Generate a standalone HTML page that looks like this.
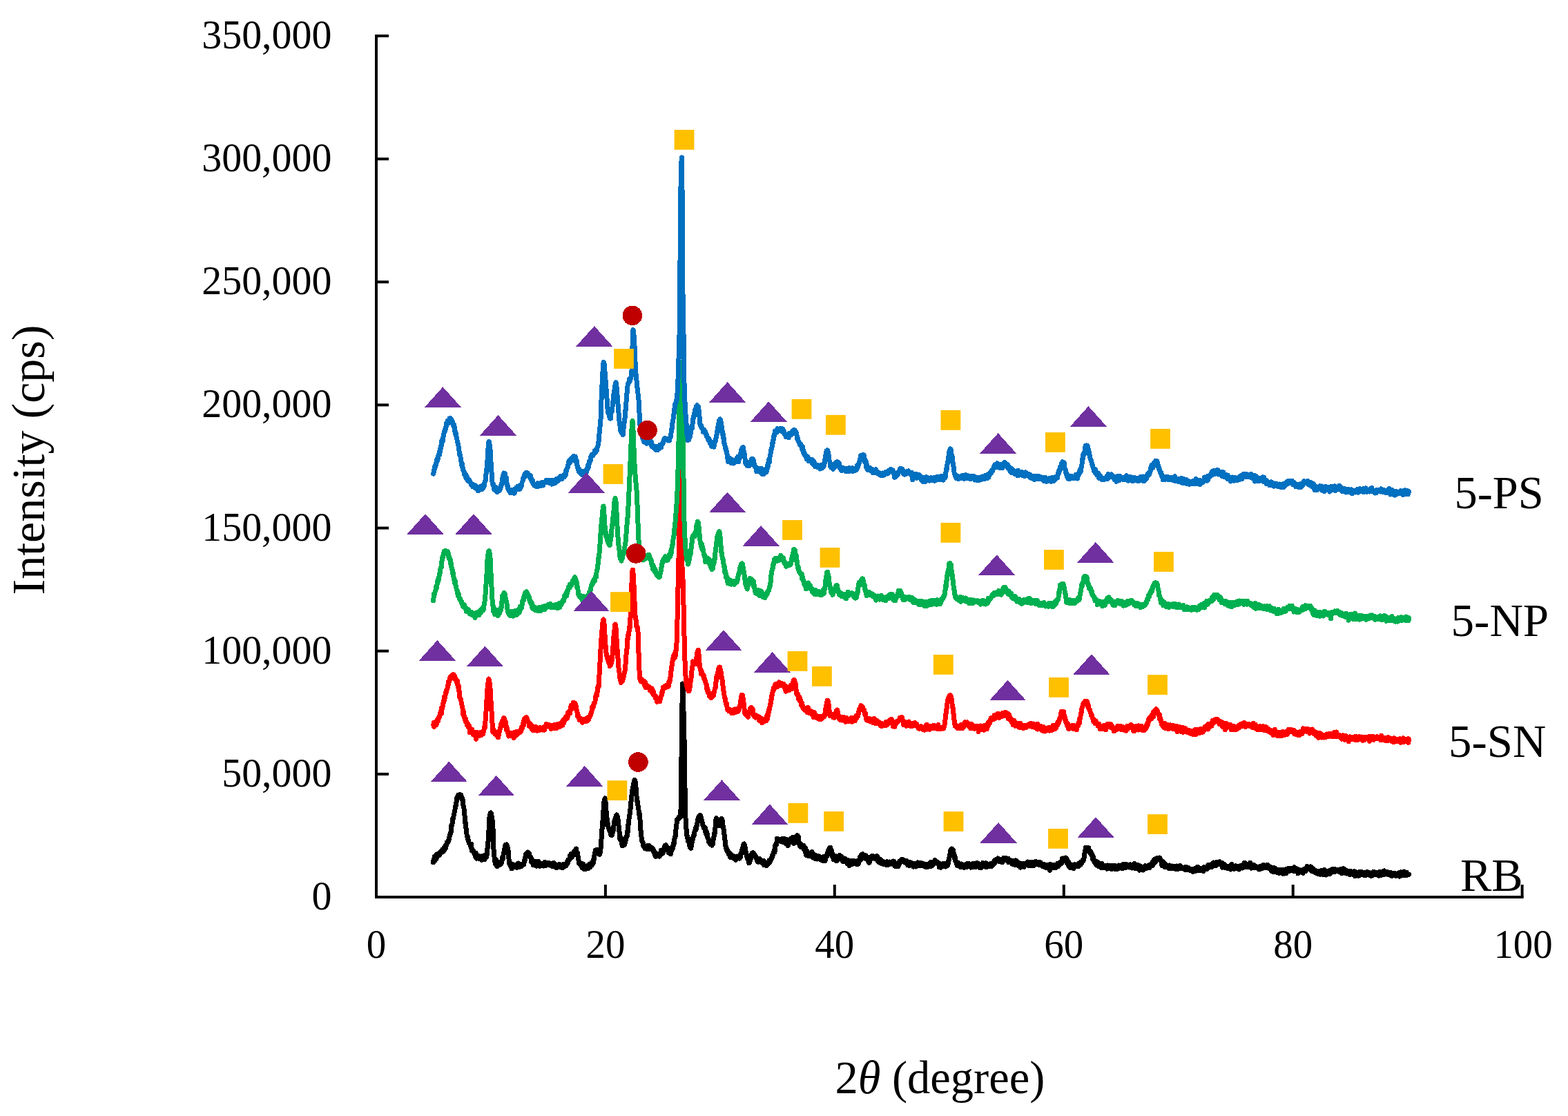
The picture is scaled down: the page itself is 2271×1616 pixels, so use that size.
<!DOCTYPE html>
<html><head><meta charset="utf-8"><title>XRD patterns</title>
<style>html,body{margin:0;padding:0;background:#fff;overflow:hidden}svg{display:block}</style>
</head><body>
<svg width="2271" height="1616" viewBox="0 0 2271 1616" font-family="Liberation Serif, Times New Roman, serif">
<rect width="2271" height="1616" fill="#fff"/>
<path d="M627.6 1248.9 628.0 1244.8 628.4 1244.5 628.8 1243.1 629.2 1245.8 629.6 1240.2 630.0 1246.2 630.4 1241.7 630.8 1243.0 631.2 1241.6 631.6 1243.9 632.0 1237.8 632.4 1240.2 632.8 1239.6 633.2 1241.6 633.6 1237.6 634.0 1238.7 634.4 1237.1 634.4 1238.6 634.8 1239.0 635.2 1235.9 635.6 1239.1 636.0 1238.4 636.4 1237.3 636.8 1237.6 637.2 1234.7 637.6 1235.2 638.0 1233.6 638.4 1234.3 638.8 1235.2 639.2 1232.8 639.6 1232.9 640.0 1232.0 640.4 1231.3 640.8 1231.1 641.2 1231.7 641.2 1229.9 641.6 1231.6 642.0 1233.3 642.4 1231.3 642.8 1229.2 643.2 1227.5 643.6 1227.1 644.0 1230.3 644.4 1227.0 644.8 1225.2 645.2 1225.8 645.6 1228.2 646.0 1224.3 646.4 1224.3 646.8 1223.0 647.0 1221.5 647.2 1219.9 647.6 1220.3 648.0 1219.7 648.4 1220.1 648.8 1219.6 649.2 1218.8 649.6 1216.7 650.0 1216.6 650.4 1212.8 650.8 1214.7 650.9 1213.2 651.2 1210.8 651.6 1210.3 652.0 1207.4 652.4 1207.2 652.8 1205.6 653.2 1204.5 653.6 1196.6 653.8 1195.5 654.0 1196.0 654.4 1195.0 654.8 1194.2 655.2 1191.3 655.6 1185.6 656.0 1186.3 656.4 1186.1 656.7 1183.7 656.8 1184.0 657.2 1180.4 657.6 1178.5 658.0 1177.1 658.4 1175.5 658.8 1173.1 659.2 1171.0 659.6 1167.7 659.6 1169.4 660.0 1166.8 660.4 1166.1 660.8 1163.7 661.2 1159.8 661.6 1156.8 662.0 1154.6 662.4 1155.1 662.5 1154.3 662.8 1153.1 663.2 1153.1 663.6 1151.4 664.0 1152.9 664.4 1151.0 664.8 1152.0 665.2 1151.1 665.4 1151.0 665.6 1150.8 666.0 1151.3 666.4 1152.3 666.8 1150.6 667.2 1152.1 667.6 1153.3 668.0 1151.9 668.4 1155.4 668.8 1157.2 669.2 1155.5 669.3 1157.7 669.6 1155.9 670.0 1159.5 670.4 1159.0 670.8 1165.7 671.2 1167.1 671.6 1169.2 672.0 1170.9 672.2 1175.6 672.4 1178.4 672.8 1176.2 673.2 1185.7 673.6 1190.8 674.0 1192.7 674.1 1191.1 674.4 1196.8 674.8 1198.4 675.2 1200.8 675.6 1202.7 676.0 1208.1 676.4 1210.9 676.8 1210.6 677.0 1213.2 677.2 1211.3 677.6 1215.8 678.0 1215.9 678.4 1216.7 678.8 1217.9 679.2 1220.5 679.6 1221.2 680.0 1221.8 680.4 1222.0 680.8 1222.8 681.2 1224.5 681.6 1224.7 681.9 1226.1 682.0 1224.7 682.4 1222.2 682.8 1228.7 683.2 1231.5 683.6 1229.7 684.0 1229.7 684.4 1230.6 684.8 1231.5 685.2 1232.5 685.6 1231.5 686.0 1233.3 686.4 1233.2 686.8 1235.8 687.2 1235.5 687.6 1237.3 687.7 1236.3 688.0 1238.5 688.4 1237.7 688.8 1241.2 689.2 1235.1 689.6 1237.4 690.0 1240.2 690.4 1243.2 690.8 1239.0 691.2 1239.8 691.6 1239.7 692.0 1242.4 692.4 1240.0 692.8 1241.8 693.2 1240.4 693.6 1239.1 694.0 1241.7 694.4 1242.2 694.5 1243.5 694.8 1241.3 695.2 1240.6 695.6 1242.6 696.0 1242.2 696.4 1242.3 696.8 1241.9 697.2 1243.9 697.6 1242.7 698.0 1245.3 698.4 1244.0 698.8 1243.4 699.2 1239.7 699.6 1243.3 700.0 1243.1 700.3 1243.7 700.4 1244.1 700.8 1241.7 701.2 1243.5 701.6 1241.1 702.0 1244.8 702.4 1239.2 702.8 1238.0 703.2 1237.6 703.6 1238.2 704.0 1237.2 704.4 1241.3 704.8 1236.8 705.1 1234.5 705.2 1238.1 705.6 1233.1 706.0 1228.5 706.4 1227.4 706.8 1222.0 707.1 1216.5 707.2 1218.1 707.6 1208.7 708.0 1202.3 708.4 1192.0 708.8 1187.5 709.0 1183.5 709.2 1180.3 709.6 1183.6 710.0 1178.1 710.4 1177.4 710.8 1176.9 710.9 1177.0 711.2 1177.3 711.6 1178.6 712.0 1181.2 712.4 1186.0 712.8 1186.4 713.2 1188.7 713.6 1193.4 713.8 1196.7 714.0 1199.3 714.4 1216.9 714.8 1226.1 714.8 1226.4 715.2 1232.9 715.6 1235.9 716.0 1240.9 716.4 1246.2 716.7 1247.3 716.8 1245.8 717.2 1250.3 717.6 1246.1 718.0 1248.4 718.4 1249.2 718.8 1245.6 719.2 1253.6 719.6 1251.4 720.0 1249.3 720.4 1254.4 720.6 1252.0 720.8 1251.8 721.2 1250.1 721.6 1251.2 722.0 1248.5 722.4 1252.1 722.8 1250.1 723.2 1250.7 723.6 1252.2 724.0 1250.5 724.4 1250.3 724.8 1250.0 725.2 1248.1 725.6 1250.3 726.0 1251.0 726.4 1249.4 726.4 1249.6 726.8 1246.1 727.2 1244.9 727.6 1242.3 728.0 1244.7 728.4 1240.4 728.8 1241.1 729.2 1235.8 729.3 1235.9 729.6 1235.5 730.0 1234.8 730.4 1231.3 730.8 1229.5 731.2 1227.2 731.6 1225.6 732.0 1223.2 732.4 1223.2 732.7 1223.0 732.8 1223.0 733.2 1223.5 733.6 1223.0 734.0 1224.2 734.4 1224.8 734.8 1227.0 735.2 1229.0 735.6 1227.8 736.0 1232.1 736.1 1235.0 736.4 1233.0 736.8 1241.6 737.1 1244.9 737.2 1246.2 737.6 1250.6 738.0 1249.2 738.4 1249.0 738.8 1252.0 739.2 1250.7 739.6 1254.0 740.0 1253.1 740.4 1255.1 740.8 1252.0 741.0 1257.9 741.2 1254.5 741.6 1254.3 742.0 1253.2 742.4 1252.2 742.8 1252.0 743.2 1253.3 743.6 1252.3 744.0 1254.0 744.4 1252.3 744.8 1254.7 745.2 1255.3 745.6 1252.6 746.0 1255.7 746.4 1253.5 746.8 1255.7 747.2 1254.6 747.6 1255.7 748.0 1252.3 748.4 1253.8 748.8 1256.3 749.2 1253.0 749.6 1250.7 750.0 1250.9 750.4 1250.0 750.7 1250.6 750.8 1253.3 751.2 1256.0 751.6 1253.3 752.0 1254.4 752.4 1253.7 752.8 1253.8 753.2 1253.4 753.6 1253.3 754.0 1254.2 754.4 1251.5 754.8 1254.8 755.2 1254.5 755.6 1252.5 756.0 1253.9 756.4 1251.3 756.8 1251.3 757.2 1252.2 757.6 1251.4 758.0 1250.7 758.4 1250.0 758.4 1250.2 758.8 1252.0 759.2 1246.3 759.6 1248.5 760.0 1245.9 760.4 1245.8 760.8 1243.8 761.2 1237.2 761.3 1242.3 761.6 1241.1 762.0 1239.4 762.4 1237.5 762.8 1238.4 763.2 1235.7 763.6 1236.6 764.0 1235.2 764.2 1235.0 764.4 1234.9 764.8 1234.1 765.2 1236.5 765.6 1237.6 766.0 1237.1 766.4 1235.4 766.8 1238.0 767.2 1240.6 767.6 1240.1 768.0 1241.0 768.1 1241.1 768.4 1240.5 768.8 1242.0 769.2 1241.5 769.6 1247.7 770.0 1245.1 770.4 1247.5 770.8 1246.0 771.2 1249.6 771.6 1245.9 772.0 1250.7 772.0 1249.1 772.4 1252.8 772.8 1247.5 773.2 1249.9 773.6 1250.5 774.0 1252.0 774.4 1249.5 774.8 1250.5 775.2 1247.0 775.6 1249.2 776.0 1251.4 776.4 1252.5 776.8 1250.4 777.2 1254.2 777.6 1253.8 778.0 1250.9 778.4 1247.2 778.8 1248.2 779.2 1249.8 779.6 1252.9 779.7 1251.6 780.0 1247.7 780.4 1250.7 780.8 1253.7 781.2 1250.5 781.6 1249.9 782.0 1254.4 782.4 1251.2 782.8 1250.3 783.2 1251.7 783.6 1251.1 784.0 1250.4 784.4 1253.0 784.8 1252.9 785.2 1252.4 785.6 1250.9 786.0 1252.9 786.4 1251.0 786.8 1251.8 787.2 1252.8 787.6 1252.4 788.0 1254.0 788.4 1251.8 788.8 1248.4 789.2 1249.2 789.4 1253.3 789.6 1250.6 790.0 1251.7 790.4 1249.7 790.8 1252.6 791.2 1250.3 791.6 1253.2 792.0 1250.0 792.4 1252.5 792.8 1251.7 793.2 1249.4 793.6 1252.3 794.0 1249.0 794.4 1249.0 794.8 1251.4 795.2 1249.6 795.6 1249.8 796.0 1250.1 796.2 1250.2 796.4 1250.4 796.8 1250.6 797.2 1250.2 797.6 1250.2 798.0 1251.2 798.4 1253.5 798.8 1252.2 799.2 1250.1 799.6 1252.4 800.0 1251.1 800.4 1251.2 800.8 1254.7 801.2 1251.2 801.6 1251.3 802.0 1249.2 802.4 1250.2 802.8 1253.4 803.2 1251.7 803.6 1253.8 804.0 1251.3 804.0 1251.9 804.4 1254.3 804.8 1255.7 805.2 1254.4 805.6 1255.5 806.0 1256.5 806.4 1255.5 806.8 1252.5 807.2 1254.0 807.6 1255.3 808.0 1253.7 808.4 1255.2 808.8 1252.1 809.2 1253.4 809.6 1255.6 810.0 1251.3 810.4 1253.1 810.8 1254.9 811.2 1252.2 811.6 1255.1 811.7 1253.7 812.0 1254.5 812.4 1254.5 812.8 1255.2 813.2 1253.9 813.6 1254.8 814.0 1253.6 814.4 1255.3 814.8 1256.9 815.2 1254.4 815.6 1254.1 816.0 1251.8 816.4 1254.5 816.8 1252.0 817.2 1251.6 817.6 1253.6 818.0 1252.7 818.4 1253.9 818.5 1254.4 818.8 1251.0 819.2 1251.8 819.6 1254.0 820.0 1252.3 820.4 1251.4 820.8 1251.8 821.2 1248.1 821.6 1249.5 822.0 1250.1 822.4 1249.8 822.8 1245.3 823.2 1245.5 823.6 1245.9 824.0 1244.2 824.4 1243.4 824.8 1244.5 825.2 1242.2 825.6 1239.3 826.0 1242.2 826.2 1240.7 826.4 1240.0 826.8 1238.2 827.2 1241.9 827.6 1236.3 828.0 1236.8 828.4 1238.7 828.8 1240.7 829.2 1240.5 829.6 1236.1 830.0 1237.3 830.4 1234.7 830.8 1238.2 831.2 1233.7 831.6 1235.3 832.0 1236.5 832.1 1234.3 832.4 1236.3 832.8 1231.5 833.2 1231.4 833.6 1230.3 834.0 1229.4 834.0 1229.4 834.4 1229.9 834.8 1229.0 835.2 1236.7 835.6 1234.1 836.0 1235.0 836.4 1234.5 836.8 1239.0 837.2 1240.1 837.6 1243.9 838.0 1245.3 838.4 1249.4 838.8 1248.0 839.2 1249.6 839.4 1249.7 839.6 1249.1 840.0 1249.6 840.4 1252.2 840.8 1252.2 841.2 1250.5 841.6 1250.2 842.0 1252.3 842.4 1254.7 842.8 1253.2 843.2 1256.5 843.6 1252.8 844.0 1254.6 844.4 1250.7 844.8 1254.0 845.2 1254.8 845.6 1256.3 846.0 1258.5 846.4 1256.0 846.8 1258.4 847.2 1257.2 847.6 1257.8 848.0 1255.5 848.3 1258.5 848.4 1254.6 848.8 1257.1 849.2 1254.7 849.6 1255.4 850.0 1253.8 850.4 1255.2 850.8 1256.5 851.2 1255.7 851.6 1253.5 852.0 1257.8 852.4 1255.8 852.8 1256.7 853.2 1256.1 853.6 1253.5 854.0 1251.2 854.4 1252.6 854.8 1255.7 855.2 1251.7 855.6 1254.3 856.0 1251.7 856.4 1252.9 856.8 1248.9 857.2 1253.3 857.6 1250.9 858.0 1251.9 858.4 1250.3 858.8 1250.8 859.1 1248.9 859.2 1250.1 859.6 1245.2 860.0 1243.9 860.4 1244.2 860.8 1240.2 861.2 1237.1 861.6 1234.7 862.0 1233.2 862.4 1231.3 862.7 1231.2 862.8 1231.1 863.2 1231.0 863.6 1232.3 864.0 1233.1 864.4 1230.1 864.8 1233.5 865.2 1230.8 865.6 1234.0 866.0 1230.1 866.4 1231.7 866.8 1233.0 867.2 1233.8 867.6 1236.6 868.0 1236.0 868.4 1237.2 868.8 1236.7 869.0 1234.3 869.2 1234.1 869.6 1234.4 870.0 1229.3 870.4 1224.4 870.8 1217.1 871.2 1213.1 871.6 1202.8 872.0 1200.8 872.4 1194.9 872.5 1196.4 872.8 1191.0 873.2 1185.9 873.6 1182.8 874.0 1173.2 874.4 1169.8 874.8 1161.7 875.2 1160.4 875.6 1157.6 876.0 1156.2 876.1 1156.0 876.4 1156.7 876.8 1159.3 877.2 1162.9 877.6 1168.1 878.0 1174.0 878.4 1179.5 878.8 1182.4 879.2 1186.3 879.6 1195.2 879.7 1194.8 880.0 1190.7 880.4 1195.3 880.8 1197.2 881.2 1198.9 881.6 1199.4 882.0 1199.1 882.4 1201.5 882.8 1202.2 883.2 1204.3 883.6 1204.6 884.0 1205.6 884.4 1208.1 884.8 1209.0 885.2 1205.6 885.6 1207.0 886.0 1206.5 886.0 1209.8 886.4 1207.5 886.8 1209.2 887.2 1205.0 887.6 1204.3 888.0 1200.4 888.4 1202.7 888.8 1197.9 889.2 1193.8 889.6 1193.0 890.0 1187.9 890.4 1189.3 890.8 1187.4 891.2 1185.7 891.6 1185.9 892.0 1181.7 892.4 1181.6 892.8 1180.4 893.2 1180.0 893.2 1180.0 893.6 1180.8 894.0 1181.1 894.4 1183.4 894.8 1183.6 895.2 1188.9 895.6 1191.6 896.0 1194.8 896.4 1197.8 896.8 1203.1 897.2 1206.1 897.6 1208.7 898.0 1215.5 898.4 1211.4 898.6 1212.6 898.8 1212.4 899.2 1216.4 899.6 1216.3 900.0 1214.7 900.4 1218.6 900.8 1222.0 901.2 1224.5 901.6 1221.2 902.0 1223.0 902.1 1223.8 902.4 1222.8 902.8 1224.5 903.2 1223.3 903.6 1223.2 904.0 1220.8 904.4 1223.5 904.8 1220.1 905.2 1221.1 905.6 1217.1 906.0 1217.5 906.4 1214.1 906.8 1212.3 907.2 1211.3 907.5 1211.3 907.6 1210.7 908.0 1211.8 908.4 1205.4 908.8 1203.1 909.2 1204.9 909.6 1200.3 910.0 1193.2 910.4 1193.8 910.8 1190.0 911.2 1182.8 911.6 1182.2 912.0 1179.4 912.4 1177.2 912.8 1174.3 912.9 1172.2 913.2 1171.2 913.6 1165.7 914.0 1160.9 914.4 1156.9 914.8 1155.5 915.2 1147.8 915.6 1148.7 916.0 1142.8 916.4 1141.5 916.5 1142.3 916.8 1141.9 917.2 1134.7 917.6 1134.4 918.0 1133.9 918.4 1131.5 918.8 1131.6 919.2 1129.5 919.5 1130.0 919.6 1130.1 920.0 1131.4 920.4 1135.1 920.8 1136.2 921.2 1144.1 921.6 1146.0 922.0 1152.9 922.4 1155.5 922.8 1160.7 922.8 1160.6 923.2 1159.7 923.6 1164.2 924.0 1166.5 924.4 1168.3 924.8 1169.6 925.2 1175.9 925.6 1175.6 926.0 1180.4 926.4 1180.0 926.4 1179.2 926.8 1185.1 927.2 1189.2 927.6 1199.8 928.0 1202.2 928.4 1208.9 928.8 1210.8 929.1 1212.7 929.2 1213.6 929.6 1216.1 930.0 1218.6 930.4 1218.7 930.8 1219.3 931.2 1220.1 931.6 1223.0 932.0 1225.2 932.4 1226.0 932.8 1226.0 933.2 1225.8 933.6 1227.4 934.0 1228.4 934.4 1227.5 934.4 1227.8 934.8 1227.3 935.2 1229.0 935.6 1226.8 936.0 1227.7 936.4 1227.9 936.8 1228.3 937.2 1229.4 937.6 1227.9 938.0 1227.7 938.4 1224.2 938.8 1227.4 939.2 1229.9 939.6 1224.8 940.0 1224.4 940.4 1225.7 940.8 1226.7 941.2 1226.0 941.6 1225.8 941.6 1225.8 942.0 1226.3 942.4 1226.7 942.8 1229.5 943.2 1228.5 943.6 1227.9 944.0 1229.0 944.4 1228.1 944.8 1227.9 945.2 1230.5 945.6 1231.8 946.0 1229.6 946.4 1231.8 946.8 1232.9 947.2 1234.7 947.6 1234.6 948.0 1236.5 948.4 1236.6 948.8 1238.7 949.2 1234.7 949.6 1240.5 950.0 1240.4 950.4 1238.4 950.6 1239.3 950.8 1239.3 951.2 1237.1 951.6 1238.5 952.0 1239.5 952.4 1238.6 952.8 1239.8 953.2 1238.1 953.6 1238.0 954.0 1236.5 954.4 1237.1 954.8 1236.8 955.2 1240.1 955.6 1237.5 956.0 1235.4 956.4 1237.4 956.8 1236.3 957.2 1231.5 957.6 1236.9 958.0 1233.4 958.4 1236.6 958.8 1233.8 959.2 1232.8 959.6 1235.6 959.6 1232.4 960.0 1233.6 960.4 1233.8 960.8 1233.3 961.2 1232.3 961.6 1229.6 962.0 1227.0 962.4 1230.1 962.8 1225.0 963.2 1226.4 963.6 1224.0 964.0 1224.0 964.0 1224.0 964.4 1223.7 964.8 1224.8 965.2 1226.0 965.6 1226.9 966.0 1226.3 966.4 1228.0 966.8 1227.9 967.2 1227.7 967.6 1232.1 968.0 1230.6 968.4 1234.7 968.8 1234.2 969.2 1232.5 969.6 1234.2 970.0 1234.3 970.3 1233.4 970.4 1235.6 970.8 1233.9 971.2 1236.9 971.6 1235.2 972.0 1231.7 972.4 1232.3 972.8 1231.0 973.2 1227.7 973.6 1230.5 974.0 1229.2 974.4 1227.8 974.8 1224.0 975.2 1224.9 975.6 1221.2 976.0 1221.3 976.4 1221.0 976.8 1216.6 977.2 1212.3 977.5 1212.7 977.6 1213.7 978.0 1212.2 978.4 1205.2 978.8 1203.0 979.2 1199.7 979.6 1196.2 980.0 1193.5 980.4 1187.6 980.8 1186.4 981.1 1187.9 981.2 1186.8 981.6 1186.4 982.0 1187.1 982.4 1185.2 982.8 1185.7 983.2 1184.2 983.6 1182.4 984.0 1182.3 984.4 1184.3 984.8 1183.5 985.2 1182.3 985.6 1183.2 985.6 1181.3 986.0 1172.6 986.4 1147.9 986.8 1114.7 987.2 1080.3 987.4 1071.6 987.6 1055.2 988.0 1018.4 988.4 994.0 988.6 990.0 988.8 991.3 989.2 1001.2 989.6 1014.2 990.0 1030.3 990.0 1029.9 990.4 1043.9 990.8 1060.2 991.0 1070.0 991.2 1082.3 991.6 1108.5 992.0 1139.5 992.4 1166.1 992.7 1177.1 992.8 1180.2 993.2 1189.0 993.6 1197.1 994.0 1200.8 994.4 1202.1 994.8 1209.4 995.2 1212.8 995.4 1212.9 995.6 1213.8 996.0 1211.8 996.4 1218.0 996.8 1218.1 997.2 1217.5 997.6 1219.7 998.0 1220.8 998.4 1224.1 998.8 1224.8 999.2 1227.0 999.6 1226.1 1000.0 1223.3 1000.4 1223.5 1000.8 1227.6 1000.8 1228.3 1001.2 1225.0 1001.6 1225.3 1002.0 1220.4 1002.4 1217.8 1002.8 1216.8 1003.2 1215.9 1003.6 1213.4 1004.0 1211.8 1004.4 1209.7 1004.4 1211.6 1004.8 1211.3 1005.2 1207.7 1005.6 1209.6 1006.0 1204.0 1006.4 1202.9 1006.8 1203.0 1007.2 1200.6 1007.6 1201.7 1007.7 1198.5 1008.0 1200.6 1008.4 1197.4 1008.8 1199.8 1009.2 1193.6 1009.6 1192.6 1010.0 1191.8 1010.4 1186.8 1010.8 1190.0 1011.0 1189.3 1011.2 1188.1 1011.6 1184.2 1012.0 1182.9 1012.4 1185.0 1012.8 1184.8 1013.2 1183.8 1013.6 1180.4 1014.0 1180.3 1014.3 1180.5 1014.4 1180.3 1014.8 1180.7 1015.2 1182.8 1015.6 1185.7 1016.0 1185.6 1016.4 1189.8 1016.8 1189.9 1017.2 1191.6 1017.6 1193.0 1018.0 1195.3 1018.4 1196.1 1018.7 1197.1 1018.8 1196.5 1019.2 1198.7 1019.6 1199.0 1020.0 1197.3 1020.4 1199.8 1020.8 1199.4 1021.2 1198.1 1021.6 1202.8 1022.0 1205.3 1022.0 1206.6 1022.4 1206.2 1022.8 1203.4 1023.2 1208.0 1023.6 1209.2 1024.0 1205.6 1024.4 1211.5 1024.8 1212.5 1025.2 1213.1 1025.6 1214.5 1026.0 1215.2 1026.4 1218.6 1026.4 1215.4 1026.8 1216.5 1027.2 1217.7 1027.6 1218.9 1028.0 1216.5 1028.4 1222.3 1028.8 1221.2 1029.2 1222.3 1029.6 1222.3 1030.0 1222.1 1030.4 1222.0 1030.8 1222.9 1030.8 1222.9 1031.2 1224.3 1031.6 1222.4 1032.0 1220.6 1032.4 1222.7 1032.8 1215.9 1033.2 1214.0 1033.6 1214.7 1034.0 1211.6 1034.4 1206.8 1034.8 1206.8 1035.2 1203.9 1035.2 1206.8 1035.6 1200.7 1036.0 1198.7 1036.4 1192.7 1036.8 1187.8 1037.2 1185.4 1037.4 1185.0 1037.6 1184.6 1038.0 1185.7 1038.4 1185.9 1038.8 1190.1 1039.2 1187.6 1039.6 1191.9 1040.0 1187.4 1040.4 1194.0 1040.8 1194.2 1041.2 1194.2 1041.6 1194.8 1041.8 1194.7 1042.0 1195.7 1042.4 1194.0 1042.8 1190.1 1043.2 1191.0 1043.6 1193.1 1044.0 1187.8 1044.4 1186.6 1044.8 1185.3 1045.1 1185.2 1045.2 1185.3 1045.6 1185.9 1046.0 1188.5 1046.4 1188.8 1046.8 1192.7 1047.2 1196.8 1047.6 1198.7 1048.0 1200.3 1048.4 1205.9 1048.4 1203.4 1048.8 1207.0 1049.2 1209.4 1049.6 1213.6 1050.0 1216.3 1050.4 1219.2 1050.8 1223.7 1051.2 1227.8 1051.6 1226.2 1051.7 1227.9 1052.0 1227.5 1052.4 1229.4 1052.8 1232.2 1053.2 1231.5 1053.6 1231.1 1054.0 1232.1 1054.4 1233.2 1054.8 1234.9 1055.2 1237.0 1055.6 1234.1 1056.0 1235.1 1056.4 1235.8 1056.8 1234.9 1057.2 1240.2 1057.2 1238.0 1057.6 1241.5 1058.0 1236.5 1058.4 1241.1 1058.8 1238.3 1059.2 1239.0 1059.6 1238.4 1060.0 1238.7 1060.4 1238.4 1060.8 1241.1 1061.2 1238.9 1061.6 1240.8 1062.0 1241.4 1062.4 1242.7 1062.8 1242.0 1063.2 1242.5 1063.6 1242.9 1064.0 1242.2 1064.4 1242.9 1064.8 1240.8 1065.2 1241.2 1065.6 1245.5 1066.0 1242.5 1066.0 1241.4 1066.4 1244.7 1066.8 1242.2 1067.2 1241.3 1067.6 1239.9 1068.0 1243.3 1068.4 1240.1 1068.8 1240.7 1069.2 1242.4 1069.6 1241.4 1070.0 1240.6 1070.4 1240.1 1070.8 1241.9 1071.2 1243.3 1071.6 1238.4 1072.0 1239.8 1072.4 1241.5 1072.7 1239.8 1072.8 1236.9 1073.2 1236.5 1073.6 1235.0 1074.0 1233.0 1074.4 1231.8 1074.8 1231.4 1075.2 1228.2 1075.6 1228.7 1076.0 1225.8 1076.4 1223.7 1076.8 1223.8 1077.2 1222.4 1077.6 1222.0 1077.6 1222.0 1078.0 1222.6 1078.4 1223.2 1078.8 1226.0 1079.2 1227.2 1079.6 1233.4 1080.0 1232.7 1080.4 1235.0 1080.8 1237.3 1081.2 1237.1 1081.5 1240.2 1081.6 1238.5 1082.0 1238.5 1082.4 1240.3 1082.8 1243.5 1083.2 1241.5 1083.6 1245.5 1084.0 1244.9 1084.4 1247.8 1084.8 1245.7 1084.8 1249.9 1085.2 1248.0 1085.6 1244.3 1086.0 1248.5 1086.4 1244.4 1086.8 1242.6 1087.2 1241.0 1087.6 1242.4 1088.0 1242.7 1088.4 1238.1 1088.8 1236.3 1089.2 1235.1 1089.6 1238.0 1090.0 1236.8 1090.4 1234.8 1090.8 1234.8 1090.8 1234.8 1091.2 1234.9 1091.6 1236.1 1092.0 1236.4 1092.4 1237.1 1092.8 1237.0 1093.2 1239.7 1093.6 1238.9 1094.0 1240.4 1094.4 1241.6 1094.8 1240.2 1095.2 1242.4 1095.6 1242.9 1095.8 1243.8 1096.0 1242.0 1096.4 1242.2 1096.8 1247.0 1097.2 1246.6 1097.6 1246.4 1098.0 1248.2 1098.4 1246.1 1098.8 1245.6 1099.2 1246.7 1099.6 1243.1 1100.0 1244.6 1100.4 1247.7 1100.8 1246.8 1101.2 1244.8 1101.6 1248.1 1102.0 1248.9 1102.4 1248.5 1102.8 1247.6 1103.2 1246.5 1103.5 1248.2 1103.6 1248.7 1104.0 1247.7 1104.4 1249.5 1104.8 1249.3 1105.2 1249.6 1105.6 1246.1 1106.0 1251.3 1106.4 1252.6 1106.8 1249.4 1107.2 1248.0 1107.6 1251.6 1108.0 1250.0 1108.4 1249.4 1108.8 1253.0 1109.2 1249.0 1109.6 1252.4 1110.0 1249.3 1110.1 1253.6 1110.4 1252.1 1110.8 1250.8 1111.2 1251.2 1111.6 1251.6 1112.0 1251.7 1112.4 1251.3 1112.8 1250.4 1113.2 1248.3 1113.6 1249.6 1114.0 1245.9 1114.4 1249.0 1114.8 1248.1 1115.2 1248.3 1115.6 1244.5 1116.0 1245.1 1116.4 1245.5 1116.7 1244.1 1116.8 1242.8 1117.2 1243.2 1117.6 1242.0 1118.0 1242.6 1118.4 1239.0 1118.8 1239.6 1119.2 1238.4 1119.6 1238.1 1120.0 1235.6 1120.4 1234.8 1120.8 1233.3 1121.1 1232.7 1121.2 1232.3 1121.6 1230.5 1122.0 1234.1 1122.4 1226.7 1122.8 1224.6 1123.2 1223.6 1123.6 1222.2 1124.0 1221.9 1124.4 1222.9 1124.8 1222.3 1125.2 1219.1 1125.5 1214.3 1125.6 1218.8 1126.0 1215.7 1126.4 1216.5 1126.8 1215.1 1127.2 1217.3 1127.6 1215.6 1128.0 1216.8 1128.4 1216.2 1128.8 1216.0 1128.8 1216.0 1129.2 1216.4 1129.6 1215.7 1130.0 1217.2 1130.4 1216.1 1130.8 1216.6 1131.2 1217.5 1131.6 1218.5 1132.0 1217.3 1132.4 1216.6 1132.8 1217.8 1133.2 1214.3 1133.6 1219.5 1134.0 1214.9 1134.4 1218.6 1134.8 1216.4 1135.2 1218.2 1135.6 1217.4 1136.0 1218.2 1136.4 1216.6 1136.8 1214.6 1137.2 1218.8 1137.6 1217.3 1137.6 1217.3 1138.0 1217.3 1138.4 1221.9 1138.8 1218.0 1139.2 1219.7 1139.6 1217.6 1140.0 1222.2 1140.4 1219.1 1140.8 1216.0 1141.2 1224.7 1141.6 1218.7 1142.0 1222.6 1142.0 1221.7 1142.4 1221.4 1142.8 1219.5 1143.2 1219.6 1143.6 1220.4 1144.0 1217.1 1144.4 1217.1 1144.8 1217.3 1145.2 1215.1 1145.6 1214.0 1146.0 1214.6 1146.4 1213.8 1146.4 1213.8 1146.8 1213.6 1147.2 1213.3 1147.6 1215.8 1148.0 1216.7 1148.4 1212.3 1148.8 1215.4 1149.2 1218.5 1149.6 1221.4 1150.0 1221.3 1150.4 1219.7 1150.8 1220.5 1150.8 1217.5 1151.2 1219.3 1151.6 1215.4 1152.0 1215.5 1152.4 1215.8 1152.8 1217.5 1153.2 1213.9 1153.6 1211.9 1154.0 1210.6 1154.4 1209.7 1154.7 1210.0 1154.8 1210.0 1155.2 1210.6 1155.6 1210.5 1156.0 1212.9 1156.4 1211.8 1156.8 1216.7 1157.2 1219.7 1157.6 1220.6 1158.0 1223.8 1158.4 1221.9 1158.5 1222.4 1158.8 1222.9 1159.2 1221.2 1159.6 1226.5 1160.0 1225.0 1160.4 1223.4 1160.8 1222.7 1161.2 1225.4 1161.6 1226.1 1162.0 1225.3 1162.4 1225.7 1162.8 1225.5 1163.2 1226.1 1163.6 1228.7 1164.0 1229.3 1164.0 1224.7 1164.4 1228.0 1164.8 1226.6 1165.2 1227.3 1165.6 1231.4 1166.0 1230.1 1166.4 1227.4 1166.8 1234.4 1167.2 1236.3 1167.6 1238.3 1168.0 1234.9 1168.4 1238.2 1168.4 1231.7 1168.8 1234.4 1169.2 1237.1 1169.6 1237.2 1170.0 1238.7 1170.4 1238.2 1170.8 1236.7 1171.2 1239.4 1171.6 1238.1 1172.0 1239.9 1172.4 1235.9 1172.8 1237.8 1173.2 1236.7 1173.6 1238.7 1174.0 1237.2 1174.4 1237.2 1174.8 1235.6 1175.2 1238.3 1175.6 1239.7 1176.0 1239.7 1176.1 1233.3 1176.4 1235.6 1176.8 1241.6 1177.2 1238.3 1177.6 1238.5 1178.0 1240.8 1178.4 1239.5 1178.8 1238.4 1179.2 1239.3 1179.6 1242.8 1180.0 1237.8 1180.4 1242.4 1180.8 1240.0 1181.2 1240.3 1181.6 1243.9 1182.0 1240.1 1182.4 1242.7 1182.8 1241.0 1183.2 1239.5 1183.6 1241.7 1184.0 1244.0 1184.4 1242.0 1184.8 1243.3 1184.9 1242.8 1185.2 1242.7 1185.6 1242.1 1186.0 1243.1 1186.4 1239.8 1186.8 1242.4 1187.2 1240.4 1187.6 1243.9 1188.0 1244.1 1188.4 1242.4 1188.8 1245.1 1189.2 1244.6 1189.6 1244.5 1190.0 1243.6 1190.4 1245.0 1190.8 1246.0 1191.2 1243.4 1191.6 1243.2 1192.0 1246.5 1192.4 1240.9 1192.8 1240.5 1193.2 1241.8 1193.6 1245.0 1193.7 1244.9 1194.0 1245.4 1194.4 1244.5 1194.8 1246.5 1195.2 1246.1 1195.6 1244.8 1196.0 1240.4 1196.4 1242.1 1196.8 1239.3 1197.2 1239.1 1197.6 1237.4 1198.0 1238.3 1198.1 1239.0 1198.4 1237.6 1198.8 1234.5 1199.2 1232.8 1199.6 1232.8 1200.0 1231.4 1200.4 1232.6 1200.8 1229.6 1201.2 1228.7 1201.6 1227.9 1202.0 1228.1 1202.4 1227.4 1202.6 1227.0 1202.8 1227.0 1203.2 1228.7 1203.6 1229.7 1204.0 1230.3 1204.4 1234.7 1204.8 1235.6 1205.2 1235.2 1205.6 1240.6 1206.0 1241.9 1206.4 1239.8 1206.8 1240.1 1207.0 1243.8 1207.2 1244.7 1207.6 1244.6 1208.0 1241.4 1208.4 1243.0 1208.8 1244.7 1209.2 1241.1 1209.6 1243.7 1210.0 1243.9 1210.4 1245.1 1210.8 1239.7 1211.2 1243.8 1211.6 1246.8 1212.0 1242.6 1212.4 1243.1 1212.5 1245.1 1212.8 1242.3 1213.2 1245.3 1213.6 1244.0 1214.0 1240.3 1214.4 1242.7 1214.8 1239.8 1215.2 1243.2 1215.6 1238.6 1216.0 1238.2 1216.4 1239.4 1216.8 1239.9 1217.2 1240.6 1217.4 1240.3 1217.6 1240.4 1218.0 1241.2 1218.4 1240.2 1218.8 1240.6 1219.2 1240.8 1219.6 1244.1 1220.0 1246.3 1220.4 1244.8 1220.8 1244.1 1221.2 1244.9 1221.6 1244.5 1222.0 1247.9 1222.4 1245.2 1222.4 1246.5 1222.8 1245.1 1223.2 1244.0 1223.6 1243.1 1224.0 1245.8 1224.4 1247.6 1224.8 1246.9 1225.2 1247.1 1225.6 1245.8 1226.0 1246.0 1226.4 1245.9 1226.8 1247.9 1227.2 1250.9 1227.6 1247.5 1228.0 1245.5 1228.4 1249.8 1228.8 1246.2 1229.2 1248.7 1229.6 1247.1 1230.0 1248.0 1230.4 1253.4 1230.8 1246.8 1231.2 1247.1 1231.2 1248.6 1231.6 1248.0 1232.0 1247.4 1232.4 1247.0 1232.8 1249.1 1233.2 1250.0 1233.6 1246.8 1234.0 1246.5 1234.4 1251.3 1234.8 1246.2 1235.2 1249.7 1235.6 1249.3 1236.0 1246.9 1236.4 1249.9 1236.8 1247.0 1237.2 1247.0 1237.6 1246.6 1238.0 1250.2 1238.4 1248.2 1238.8 1250.7 1239.2 1247.7 1239.6 1250.0 1240.0 1251.3 1240.4 1248.9 1240.8 1247.3 1241.2 1248.5 1241.6 1251.1 1242.0 1250.3 1242.2 1248.5 1242.4 1246.3 1242.8 1250.0 1243.2 1251.0 1243.6 1250.4 1244.0 1247.7 1244.4 1245.8 1244.8 1244.0 1245.2 1243.4 1245.6 1240.8 1246.0 1245.9 1246.4 1241.7 1246.8 1244.9 1247.2 1240.5 1247.6 1237.7 1247.7 1243.3 1248.0 1238.8 1248.4 1239.4 1248.8 1242.7 1249.2 1242.3 1249.6 1236.6 1250.0 1239.8 1250.4 1238.0 1250.8 1240.4 1251.2 1241.4 1251.6 1239.3 1252.0 1239.8 1252.1 1239.6 1252.4 1240.3 1252.8 1239.2 1253.2 1239.5 1253.6 1240.9 1254.0 1238.7 1254.4 1243.9 1254.8 1240.3 1255.2 1243.6 1255.6 1241.1 1256.0 1244.0 1256.4 1244.3 1256.8 1244.3 1257.2 1246.1 1257.6 1243.9 1258.0 1248.4 1258.4 1246.5 1258.7 1241.7 1258.8 1249.4 1259.2 1246.8 1259.6 1248.4 1260.0 1245.4 1260.4 1241.7 1260.8 1244.2 1261.2 1242.5 1261.6 1243.9 1262.0 1242.7 1262.4 1243.3 1262.8 1239.6 1263.2 1242.1 1263.6 1240.9 1264.0 1242.1 1264.4 1239.4 1264.8 1240.6 1265.2 1240.9 1265.3 1240.7 1265.6 1240.9 1266.0 1241.8 1266.4 1240.9 1266.8 1242.6 1267.2 1242.8 1267.6 1243.9 1268.0 1241.0 1268.4 1241.6 1268.8 1243.4 1269.2 1241.2 1269.6 1242.7 1270.0 1241.8 1270.4 1239.5 1270.8 1244.1 1271.2 1246.6 1271.6 1243.6 1272.0 1244.6 1272.4 1244.0 1272.8 1243.8 1273.0 1245.3 1273.2 1246.9 1273.6 1249.0 1274.0 1247.1 1274.4 1244.5 1274.8 1244.1 1275.2 1248.8 1275.6 1247.5 1276.0 1246.4 1276.4 1246.0 1276.8 1246.7 1277.2 1250.3 1277.6 1248.6 1278.0 1246.7 1278.4 1250.6 1278.8 1250.0 1279.2 1249.3 1279.6 1251.0 1280.0 1248.9 1280.4 1251.9 1280.8 1248.2 1281.2 1249.1 1281.6 1248.4 1281.8 1249.9 1282.0 1249.4 1282.4 1250.0 1282.8 1250.5 1283.2 1251.4 1283.6 1250.6 1284.0 1250.7 1284.4 1252.8 1284.8 1249.7 1285.2 1247.7 1285.6 1251.4 1286.0 1252.7 1286.4 1249.9 1286.8 1250.8 1287.2 1248.3 1287.6 1249.5 1288.0 1250.1 1288.4 1249.6 1288.8 1248.0 1289.2 1251.4 1289.6 1248.9 1290.0 1250.1 1290.4 1249.1 1290.8 1249.3 1291.2 1248.9 1291.6 1248.4 1291.7 1248.4 1292.0 1249.1 1292.4 1250.0 1292.8 1249.5 1293.2 1251.5 1293.6 1247.0 1294.0 1251.7 1294.4 1249.8 1294.8 1247.1 1295.2 1250.6 1295.6 1252.2 1296.0 1249.9 1296.4 1254.4 1296.8 1253.8 1297.2 1249.9 1297.6 1253.8 1298.0 1252.6 1298.4 1251.7 1298.8 1252.2 1299.2 1252.1 1299.4 1250.9 1299.6 1252.1 1300.0 1253.8 1300.4 1254.7 1300.8 1254.5 1301.2 1250.8 1301.6 1251.1 1302.0 1249.4 1302.4 1251.9 1302.8 1247.0 1303.2 1246.9 1303.6 1247.5 1304.0 1248.3 1304.4 1246.9 1304.8 1246.9 1305.2 1246.4 1305.6 1246.3 1306.0 1244.3 1306.4 1245.0 1306.8 1245.4 1307.2 1245.1 1307.2 1245.1 1307.6 1244.8 1308.0 1246.0 1308.4 1247.2 1308.8 1245.2 1309.2 1246.1 1309.6 1246.2 1310.0 1247.0 1310.4 1247.0 1310.8 1249.0 1311.2 1247.8 1311.6 1248.7 1312.0 1248.1 1312.4 1246.2 1312.8 1248.9 1313.2 1248.1 1313.6 1247.7 1314.0 1247.6 1314.4 1249.1 1314.8 1248.5 1314.9 1252.8 1315.2 1252.2 1315.6 1249.4 1316.0 1251.2 1316.4 1252.1 1316.8 1250.1 1317.2 1253.6 1317.6 1252.3 1318.0 1250.9 1318.4 1248.3 1318.8 1249.9 1319.2 1252.1 1319.6 1251.1 1320.0 1251.9 1320.4 1250.8 1320.8 1252.6 1321.2 1251.7 1321.6 1250.0 1322.0 1252.1 1322.4 1251.8 1322.8 1250.3 1323.2 1255.1 1323.6 1252.7 1323.7 1252.3 1324.0 1254.0 1324.4 1252.7 1324.8 1254.0 1325.2 1250.4 1325.6 1251.0 1326.0 1253.5 1326.4 1255.0 1326.8 1252.6 1327.2 1252.8 1327.6 1251.1 1328.0 1252.3 1328.4 1251.2 1328.8 1252.0 1329.2 1253.3 1329.6 1248.9 1330.0 1252.4 1330.4 1250.7 1330.8 1250.9 1331.2 1253.7 1331.6 1252.3 1332.0 1253.3 1332.4 1249.5 1332.8 1251.4 1333.2 1251.5 1333.6 1251.7 1333.6 1251.7 1334.0 1252.1 1334.4 1250.8 1334.8 1250.5 1335.2 1249.8 1335.6 1253.6 1336.0 1251.0 1336.4 1251.7 1336.8 1251.4 1337.2 1250.4 1337.6 1252.6 1338.0 1252.7 1338.4 1253.7 1338.8 1251.8 1339.2 1251.8 1339.6 1251.4 1340.0 1254.8 1340.4 1254.1 1340.8 1252.4 1341.2 1253.6 1341.6 1251.7 1342.0 1255.9 1342.4 1251.7 1342.8 1252.1 1343.2 1252.2 1343.6 1255.5 1344.0 1253.0 1344.4 1254.5 1344.6 1252.6 1344.8 1250.9 1345.2 1254.0 1345.6 1251.7 1346.0 1250.5 1346.4 1251.8 1346.8 1253.4 1347.2 1255.0 1347.6 1249.8 1348.0 1248.3 1348.4 1253.1 1348.8 1251.8 1349.2 1250.2 1349.6 1251.6 1350.0 1251.8 1350.4 1253.5 1350.8 1250.0 1351.2 1252.0 1351.6 1249.0 1352.0 1248.7 1352.4 1250.0 1352.8 1247.3 1353.2 1246.9 1353.6 1250.3 1354.0 1245.5 1354.4 1248.7 1354.8 1248.2 1355.2 1248.3 1355.6 1248.4 1355.6 1248.4 1356.0 1248.2 1356.4 1247.7 1356.8 1248.4 1357.2 1249.4 1357.6 1248.5 1358.0 1248.5 1358.4 1251.1 1358.8 1249.9 1359.2 1250.1 1359.6 1251.5 1360.0 1252.8 1360.4 1256.0 1360.8 1255.3 1361.1 1250.8 1361.2 1250.7 1361.6 1252.9 1362.0 1253.7 1362.4 1252.6 1362.8 1256.3 1363.2 1254.7 1363.6 1255.4 1364.0 1252.1 1364.4 1251.4 1364.8 1251.1 1365.2 1252.6 1365.6 1250.8 1366.0 1251.8 1366.4 1252.1 1366.8 1254.3 1367.2 1252.0 1367.6 1250.5 1368.0 1252.1 1368.4 1253.1 1368.8 1253.7 1369.2 1251.3 1369.6 1253.8 1370.0 1255.0 1370.4 1253.6 1370.8 1253.2 1371.2 1252.1 1371.6 1251.8 1372.0 1249.6 1372.1 1253.8 1372.4 1252.0 1372.8 1251.7 1373.2 1250.6 1373.6 1246.4 1374.0 1247.0 1374.4 1243.2 1374.8 1243.3 1375.2 1239.4 1375.4 1239.0 1375.6 1237.5 1376.0 1239.1 1376.4 1232.3 1376.8 1233.7 1377.2 1233.0 1377.6 1230.1 1378.0 1230.7 1378.4 1229.0 1378.8 1230.8 1379.2 1230.4 1379.3 1230.5 1379.6 1230.6 1380.0 1230.6 1380.4 1230.3 1380.8 1232.2 1381.2 1235.2 1381.6 1236.1 1382.0 1238.9 1382.4 1238.1 1382.8 1243.4 1383.1 1241.4 1383.2 1240.8 1383.6 1245.6 1384.0 1247.1 1384.4 1246.3 1384.8 1247.2 1385.2 1250.8 1385.6 1249.0 1386.0 1252.8 1386.4 1249.5 1386.4 1251.6 1386.8 1251.9 1387.2 1254.0 1387.6 1249.3 1388.0 1252.8 1388.4 1252.4 1388.8 1252.7 1389.2 1251.4 1389.6 1250.9 1390.0 1252.3 1390.4 1252.8 1390.8 1255.6 1391.2 1253.5 1391.6 1253.4 1392.0 1254.6 1392.4 1251.0 1392.8 1254.8 1393.2 1255.2 1393.6 1255.2 1394.0 1253.3 1394.4 1251.9 1394.8 1252.3 1395.2 1254.3 1395.6 1254.7 1396.0 1255.9 1396.3 1256.3 1396.4 1255.3 1396.8 1253.9 1397.2 1254.3 1397.6 1253.5 1398.0 1255.5 1398.4 1254.7 1398.8 1254.0 1399.2 1251.6 1399.6 1255.2 1400.0 1251.0 1400.4 1255.4 1400.8 1254.9 1401.2 1250.7 1401.6 1253.1 1402.0 1251.1 1402.4 1252.8 1402.8 1253.9 1403.2 1252.7 1403.6 1250.7 1404.0 1253.3 1404.4 1253.2 1404.8 1252.8 1405.1 1251.1 1405.2 1252.2 1405.6 1253.2 1406.0 1252.6 1406.4 1256.2 1406.8 1253.2 1407.2 1252.5 1407.6 1253.6 1408.0 1251.0 1408.4 1253.5 1408.8 1255.4 1409.2 1251.4 1409.6 1253.3 1410.0 1254.0 1410.4 1250.1 1410.8 1255.4 1411.2 1251.1 1411.6 1252.3 1412.0 1253.4 1412.4 1252.4 1412.8 1254.1 1413.2 1253.0 1413.6 1253.7 1414.0 1252.9 1414.4 1255.2 1414.8 1249.6 1415.2 1253.4 1415.6 1252.3 1416.0 1251.3 1416.1 1251.5 1416.4 1251.9 1416.8 1253.7 1417.2 1251.4 1417.6 1252.5 1418.0 1253.2 1418.4 1251.0 1418.8 1254.6 1419.2 1256.7 1419.6 1251.7 1420.0 1254.3 1420.4 1252.3 1420.8 1253.7 1421.2 1252.5 1421.6 1256.3 1422.0 1252.3 1422.4 1254.1 1422.8 1253.8 1423.2 1251.1 1423.6 1249.3 1424.0 1253.7 1424.4 1254.2 1424.8 1251.9 1425.2 1251.8 1425.6 1254.4 1426.0 1254.2 1426.4 1254.3 1426.8 1253.2 1427.1 1251.5 1427.2 1250.9 1427.6 1249.6 1428.0 1252.7 1428.4 1255.9 1428.8 1253.6 1429.2 1252.7 1429.6 1250.4 1430.0 1251.7 1430.4 1252.8 1430.8 1252.4 1431.2 1254.3 1431.6 1252.5 1432.0 1253.9 1432.4 1252.6 1432.8 1252.5 1433.2 1254.8 1433.6 1251.6 1434.0 1252.3 1434.4 1250.7 1434.8 1253.0 1435.2 1254.5 1435.6 1253.9 1436.0 1254.0 1436.0 1254.5 1436.4 1253.7 1436.8 1253.8 1437.2 1252.9 1437.6 1250.4 1438.0 1252.4 1438.4 1252.5 1438.8 1249.1 1439.2 1250.3 1439.6 1251.1 1440.0 1248.1 1440.4 1246.0 1440.8 1247.7 1441.2 1249.6 1441.6 1245.0 1442.0 1245.9 1442.4 1244.6 1442.8 1245.0 1443.2 1245.3 1443.6 1245.3 1443.7 1245.1 1444.0 1244.9 1444.4 1244.5 1444.8 1243.9 1445.2 1242.8 1445.6 1244.0 1446.0 1245.3 1446.4 1245.7 1446.8 1247.6 1447.2 1244.6 1447.6 1244.7 1448.0 1244.9 1448.4 1246.5 1448.8 1245.9 1449.2 1247.4 1449.2 1244.9 1449.6 1247.6 1450.0 1247.7 1450.4 1245.7 1450.8 1245.0 1451.2 1246.2 1451.6 1244.5 1452.0 1248.9 1452.4 1245.8 1452.8 1246.7 1453.2 1243.2 1453.6 1242.3 1454.0 1246.1 1454.4 1245.6 1454.8 1243.4 1455.2 1243.6 1455.6 1243.3 1456.0 1244.7 1456.4 1245.7 1456.8 1242.1 1457.2 1244.5 1457.6 1243.6 1458.0 1244.0 1458.0 1244.0 1458.4 1243.4 1458.8 1246.5 1459.2 1247.3 1459.6 1245.6 1460.0 1245.6 1460.4 1243.1 1460.8 1248.8 1461.2 1245.3 1461.6 1245.4 1462.0 1247.8 1462.4 1246.6 1462.8 1245.2 1463.2 1246.4 1463.6 1246.5 1464.0 1247.5 1464.4 1248.5 1464.8 1248.8 1465.2 1250.2 1465.6 1248.3 1465.7 1249.9 1466.0 1251.3 1466.4 1246.8 1466.8 1250.0 1467.2 1247.4 1467.6 1246.8 1468.0 1251.9 1468.4 1251.4 1468.8 1250.6 1469.2 1249.1 1469.6 1252.4 1470.0 1248.0 1470.4 1250.4 1470.8 1251.2 1471.2 1252.7 1471.2 1248.2 1471.6 1245.8 1472.0 1251.1 1472.4 1251.5 1472.8 1251.5 1473.2 1249.9 1473.6 1251.4 1474.0 1249.2 1474.4 1252.5 1474.8 1253.4 1475.2 1250.9 1475.6 1249.0 1476.0 1252.1 1476.4 1252.1 1476.8 1252.4 1477.2 1254.7 1477.6 1252.9 1478.0 1256.1 1478.4 1253.4 1478.8 1251.1 1478.9 1254.6 1479.2 1252.7 1479.6 1252.0 1480.0 1253.2 1480.4 1252.9 1480.8 1250.2 1481.2 1251.3 1481.6 1254.5 1482.0 1252.9 1482.4 1253.6 1482.8 1254.2 1483.2 1255.3 1483.6 1251.4 1484.0 1251.2 1484.4 1250.8 1484.8 1251.3 1485.2 1250.7 1485.6 1252.1 1486.0 1251.9 1486.4 1252.9 1486.8 1250.1 1487.2 1250.9 1487.6 1252.4 1488.0 1252.9 1488.4 1248.0 1488.8 1250.7 1488.8 1251.3 1489.2 1248.4 1489.6 1252.3 1490.0 1253.5 1490.4 1248.4 1490.6 1249.0 1490.8 1253.0 1491.2 1253.3 1491.6 1249.4 1492.0 1249.8 1492.4 1252.3 1492.8 1250.9 1493.2 1250.4 1493.6 1253.7 1494.0 1251.6 1494.4 1248.1 1494.8 1251.4 1495.2 1248.7 1495.6 1252.1 1496.0 1252.4 1496.4 1251.5 1496.8 1252.2 1497.2 1253.8 1497.6 1251.8 1498.0 1250.0 1498.4 1248.8 1498.8 1250.9 1499.2 1248.8 1499.6 1248.1 1500.0 1249.6 1500.4 1247.5 1500.8 1248.2 1501.2 1251.1 1501.6 1249.5 1502.0 1249.8 1502.4 1250.2 1502.8 1248.1 1503.2 1250.3 1503.6 1250.2 1503.8 1250.2 1504.0 1250.3 1504.4 1248.9 1504.8 1252.3 1505.2 1249.9 1505.6 1248.2 1506.0 1250.8 1506.4 1248.8 1506.8 1251.1 1507.2 1252.1 1507.6 1249.3 1508.0 1253.0 1508.4 1252.0 1508.8 1252.6 1509.2 1252.9 1509.6 1253.3 1510.0 1254.5 1510.4 1254.3 1510.8 1253.9 1511.2 1252.1 1511.6 1254.0 1512.0 1252.8 1512.4 1251.5 1512.8 1253.9 1513.2 1252.6 1513.6 1256.0 1514.0 1254.1 1514.3 1254.3 1514.4 1255.4 1514.8 1253.5 1515.2 1253.8 1515.6 1256.1 1516.0 1252.0 1516.4 1252.8 1516.8 1254.0 1517.2 1255.5 1517.6 1254.6 1518.0 1252.3 1518.4 1252.7 1518.8 1256.9 1519.2 1254.7 1519.6 1253.2 1520.0 1253.4 1520.4 1260.2 1520.8 1256.3 1521.2 1251.6 1521.6 1253.5 1522.0 1255.4 1522.4 1253.8 1522.8 1256.0 1523.2 1257.0 1523.6 1254.2 1524.0 1254.7 1524.4 1253.9 1524.8 1255.6 1525.2 1256.6 1525.6 1255.7 1526.0 1252.5 1526.4 1255.4 1526.8 1253.3 1527.2 1257.0 1527.6 1255.0 1528.0 1255.9 1528.4 1254.2 1528.8 1254.1 1528.9 1254.9 1529.2 1254.1 1529.6 1256.7 1530.0 1252.2 1530.4 1255.0 1530.8 1252.8 1531.2 1254.9 1531.6 1250.4 1532.0 1255.0 1532.4 1252.2 1532.8 1250.4 1533.2 1253.2 1533.6 1251.4 1534.0 1251.8 1534.4 1253.0 1534.8 1248.9 1535.2 1249.1 1535.6 1250.1 1536.0 1250.5 1536.4 1248.1 1536.8 1247.6 1536.8 1250.1 1537.2 1250.1 1537.6 1250.4 1538.0 1247.2 1538.4 1243.0 1538.8 1247.5 1539.2 1247.3 1539.6 1243.2 1540.0 1245.2 1540.4 1245.0 1540.8 1244.6 1541.2 1243.0 1541.6 1243.5 1542.0 1243.6 1542.4 1242.5 1542.7 1243.0 1542.8 1243.0 1543.2 1243.6 1543.6 1243.0 1544.0 1242.0 1544.4 1247.2 1544.8 1248.8 1545.2 1244.2 1545.6 1246.2 1546.0 1249.4 1546.4 1248.4 1546.8 1252.0 1547.2 1250.1 1547.4 1250.7 1547.6 1252.0 1548.0 1248.4 1548.4 1251.7 1548.8 1255.6 1549.2 1253.6 1549.6 1251.3 1550.0 1254.8 1550.4 1256.6 1550.8 1255.5 1551.2 1252.7 1551.6 1252.7 1552.0 1253.3 1552.4 1252.3 1552.8 1254.1 1553.2 1252.5 1553.6 1252.8 1554.0 1254.7 1554.0 1253.3 1554.4 1253.9 1554.8 1257.6 1555.2 1254.7 1555.6 1256.0 1556.0 1254.8 1556.4 1255.0 1556.8 1251.8 1557.2 1253.0 1557.6 1253.4 1558.0 1253.1 1558.4 1253.4 1558.8 1253.8 1559.2 1253.1 1559.6 1254.5 1560.0 1252.9 1560.4 1254.9 1560.8 1253.0 1561.2 1251.9 1561.6 1250.7 1562.0 1251.3 1562.4 1252.0 1562.8 1254.2 1563.2 1250.1 1563.6 1253.6 1564.0 1251.6 1564.4 1250.2 1564.5 1249.4 1564.8 1252.2 1565.2 1248.0 1565.6 1250.0 1566.0 1249.6 1566.4 1249.6 1566.8 1250.3 1567.2 1247.8 1567.6 1248.3 1568.0 1245.5 1568.4 1246.8 1568.8 1246.8 1569.2 1244.4 1569.6 1244.7 1569.8 1243.8 1570.0 1242.4 1570.4 1241.1 1570.8 1238.5 1571.2 1233.1 1571.6 1231.4 1572.0 1232.5 1572.4 1227.2 1572.5 1232.3 1572.8 1227.8 1573.2 1229.6 1573.6 1230.0 1574.0 1228.1 1574.4 1229.5 1574.8 1228.1 1575.1 1228.5 1575.2 1228.5 1575.6 1228.5 1576.0 1229.8 1576.4 1229.9 1576.8 1227.6 1577.2 1232.3 1577.6 1232.3 1578.0 1231.5 1578.4 1232.2 1578.8 1234.8 1579.2 1236.1 1579.6 1235.2 1580.0 1233.1 1580.4 1235.9 1580.4 1237.0 1580.8 1235.2 1581.2 1235.6 1581.6 1238.7 1582.0 1240.1 1582.4 1241.8 1582.8 1244.4 1583.2 1240.1 1583.6 1244.8 1584.0 1245.2 1584.4 1246.2 1584.4 1246.5 1584.8 1248.4 1585.2 1248.1 1585.6 1247.6 1586.0 1248.3 1586.4 1248.8 1586.8 1248.8 1587.2 1251.6 1587.6 1246.8 1588.0 1247.9 1588.4 1253.1 1588.8 1251.8 1589.2 1252.2 1589.6 1253.3 1590.0 1248.5 1590.4 1254.2 1590.8 1250.3 1591.2 1250.8 1591.6 1254.2 1592.0 1250.8 1592.3 1253.6 1592.4 1255.1 1592.8 1251.9 1593.2 1252.2 1593.6 1254.3 1594.0 1254.8 1594.4 1254.0 1594.8 1251.1 1595.2 1256.3 1595.6 1254.9 1596.0 1250.2 1596.4 1252.7 1596.8 1252.5 1597.2 1253.1 1597.6 1254.8 1598.0 1253.4 1598.4 1256.6 1598.8 1256.5 1599.2 1254.9 1599.6 1253.2 1600.0 1254.9 1600.4 1255.7 1600.8 1256.9 1601.2 1254.4 1601.6 1255.3 1602.0 1253.7 1602.4 1254.6 1602.8 1257.2 1603.2 1258.0 1603.6 1254.9 1604.0 1255.0 1604.4 1254.3 1604.8 1253.0 1605.2 1256.1 1605.5 1256.3 1605.6 1256.5 1606.0 1255.5 1606.4 1256.3 1606.8 1255.8 1607.2 1257.5 1607.6 1256.1 1608.0 1257.8 1608.4 1257.2 1608.8 1256.1 1609.2 1253.5 1609.6 1256.3 1610.0 1256.0 1610.4 1258.6 1610.8 1256.7 1611.2 1253.7 1611.6 1254.2 1612.0 1257.0 1612.4 1255.2 1612.8 1253.6 1613.2 1256.3 1613.6 1256.3 1614.0 1255.3 1614.4 1256.9 1614.8 1255.3 1615.2 1258.5 1615.6 1253.7 1616.0 1257.0 1616.4 1257.1 1616.8 1257.5 1617.2 1255.3 1617.6 1254.8 1618.0 1258.3 1618.4 1256.4 1618.7 1254.6 1618.8 1256.8 1619.2 1258.0 1619.6 1256.5 1620.0 1254.3 1620.4 1257.0 1620.8 1253.0 1621.2 1256.6 1621.6 1256.9 1622.0 1254.9 1622.4 1255.7 1622.8 1255.4 1623.2 1254.3 1623.6 1253.7 1624.0 1254.6 1624.4 1254.0 1624.8 1257.3 1625.2 1252.7 1625.6 1257.7 1626.0 1254.4 1626.4 1253.5 1626.8 1253.8 1627.2 1252.9 1627.6 1251.3 1628.0 1255.8 1628.4 1254.2 1628.8 1253.0 1629.2 1252.3 1629.6 1253.4 1630.0 1252.3 1630.4 1256.3 1630.8 1251.2 1631.2 1252.7 1631.6 1252.8 1631.9 1255.0 1632.0 1254.6 1632.4 1254.0 1632.8 1253.9 1633.2 1254.8 1633.6 1252.9 1634.0 1255.0 1634.4 1252.1 1634.8 1255.1 1635.2 1253.4 1635.6 1256.0 1636.0 1252.2 1636.4 1253.5 1636.8 1252.9 1637.2 1255.7 1637.6 1251.9 1638.0 1255.6 1638.4 1254.9 1638.8 1255.1 1639.2 1253.1 1639.6 1255.0 1640.0 1257.0 1640.4 1253.1 1640.8 1254.6 1641.2 1253.8 1641.6 1252.4 1642.0 1252.9 1642.4 1255.0 1642.8 1254.1 1643.2 1250.3 1643.6 1255.1 1644.0 1253.7 1644.4 1255.7 1644.8 1253.2 1645.1 1257.9 1645.2 1252.7 1645.6 1255.4 1646.0 1252.5 1646.4 1254.7 1646.8 1252.6 1647.2 1256.5 1647.6 1254.6 1648.0 1257.2 1648.4 1254.8 1648.8 1252.5 1649.2 1253.9 1649.6 1254.8 1650.0 1257.8 1650.4 1260.1 1650.8 1255.8 1651.2 1256.6 1651.6 1258.2 1652.0 1254.5 1652.4 1256.0 1652.8 1257.7 1653.2 1257.2 1653.6 1256.6 1654.0 1255.2 1654.4 1257.0 1654.4 1257.9 1654.8 1255.6 1655.2 1256.9 1655.6 1260.1 1656.0 1257.5 1656.4 1257.6 1656.8 1255.0 1657.2 1255.7 1657.6 1256.0 1658.0 1255.1 1658.4 1254.4 1658.8 1253.8 1659.2 1255.8 1659.6 1257.4 1660.0 1256.9 1660.4 1256.9 1660.8 1257.2 1661.2 1254.2 1661.6 1254.4 1662.0 1254.9 1662.4 1253.7 1662.8 1255.4 1663.2 1253.8 1663.6 1256.5 1664.0 1253.2 1664.4 1255.3 1664.8 1256.9 1664.9 1252.3 1665.2 1253.2 1665.6 1252.6 1666.0 1251.8 1666.4 1253.6 1666.8 1253.6 1667.2 1251.2 1667.6 1251.1 1668.0 1251.9 1668.4 1251.5 1668.8 1248.7 1669.2 1253.7 1669.6 1249.2 1670.0 1249.2 1670.4 1247.6 1670.8 1247.8 1671.2 1246.4 1671.5 1250.2 1671.6 1244.6 1672.0 1246.9 1672.4 1247.9 1672.8 1243.9 1673.2 1246.8 1673.6 1247.8 1674.0 1245.8 1674.4 1245.0 1674.8 1244.6 1675.2 1243.8 1675.6 1244.9 1676.0 1242.3 1676.4 1244.0 1676.8 1242.8 1677.2 1242.6 1677.6 1242.4 1678.0 1243.1 1678.1 1243.0 1678.4 1243.4 1678.8 1243.2 1679.2 1243.4 1679.6 1242.0 1680.0 1242.6 1680.4 1245.6 1680.8 1245.1 1681.2 1245.9 1681.6 1247.4 1682.0 1247.8 1682.4 1247.0 1682.8 1252.8 1683.2 1253.7 1683.4 1249.6 1683.6 1246.8 1684.0 1248.3 1684.4 1251.2 1684.8 1250.0 1685.2 1251.5 1685.6 1249.1 1686.0 1253.6 1686.4 1255.4 1686.8 1252.1 1687.2 1254.0 1687.6 1254.4 1688.0 1251.3 1688.4 1254.7 1688.7 1254.6 1688.8 1253.3 1689.2 1254.1 1689.6 1255.9 1690.0 1256.0 1690.4 1256.0 1690.8 1254.6 1691.2 1254.2 1691.6 1255.7 1692.0 1254.9 1692.4 1257.2 1692.8 1257.4 1693.2 1254.7 1693.6 1252.9 1694.0 1255.8 1694.4 1254.4 1694.8 1256.8 1695.2 1256.6 1695.6 1253.8 1696.0 1257.2 1696.4 1257.7 1696.8 1256.1 1697.2 1256.5 1697.6 1254.7 1698.0 1254.1 1698.4 1257.5 1698.8 1255.9 1699.2 1255.4 1699.6 1255.4 1700.0 1256.7 1700.4 1255.2 1700.8 1254.7 1701.2 1255.0 1701.6 1255.2 1702.0 1254.7 1702.4 1255.6 1702.8 1254.7 1703.2 1254.8 1703.6 1258.7 1704.0 1255.5 1704.4 1258.2 1704.6 1253.9 1704.8 1256.7 1705.2 1255.5 1705.6 1258.2 1706.0 1254.8 1706.4 1258.5 1706.8 1254.7 1707.2 1255.7 1707.6 1253.9 1708.0 1255.8 1708.4 1255.6 1708.8 1254.2 1709.2 1253.1 1709.6 1257.6 1710.0 1257.1 1710.4 1255.3 1710.8 1256.3 1711.2 1255.4 1711.6 1256.5 1712.0 1257.2 1712.4 1257.5 1712.8 1256.2 1713.2 1256.8 1713.6 1258.0 1714.0 1256.3 1714.4 1256.5 1714.8 1257.7 1715.2 1258.4 1715.6 1257.0 1716.0 1259.1 1716.4 1257.8 1716.8 1256.9 1717.2 1258.2 1717.6 1255.7 1717.8 1255.2 1718.0 1258.7 1718.4 1255.3 1718.8 1257.0 1719.2 1259.9 1719.6 1258.9 1720.0 1257.0 1720.4 1258.4 1720.8 1256.2 1721.2 1256.7 1721.6 1258.3 1722.0 1259.6 1722.4 1258.7 1722.8 1258.6 1723.2 1257.8 1723.6 1259.0 1724.0 1260.2 1724.4 1260.7 1724.8 1259.6 1725.2 1259.3 1725.6 1259.7 1726.0 1260.0 1726.4 1258.4 1726.8 1258.6 1727.2 1258.2 1727.6 1258.3 1728.0 1262.3 1728.4 1260.6 1728.8 1258.2 1729.2 1259.4 1729.6 1259.9 1730.0 1259.2 1730.4 1257.9 1730.8 1261.7 1731.0 1257.5 1731.2 1260.8 1731.6 1259.5 1732.0 1258.1 1732.4 1259.1 1732.8 1256.4 1733.2 1259.8 1733.6 1260.5 1734.0 1258.5 1734.4 1259.8 1734.8 1255.3 1735.2 1258.4 1735.6 1257.1 1736.0 1260.7 1736.4 1259.5 1736.8 1259.0 1737.2 1258.8 1737.6 1258.6 1738.0 1260.2 1738.4 1257.3 1738.8 1260.4 1739.2 1260.0 1739.6 1260.4 1740.0 1258.2 1740.4 1260.4 1740.8 1260.2 1741.2 1259.3 1741.6 1260.3 1742.0 1257.7 1742.4 1258.3 1742.8 1260.5 1743.2 1261.5 1743.6 1255.6 1744.0 1259.6 1744.2 1256.1 1744.4 1258.4 1744.8 1257.0 1745.2 1258.2 1745.6 1257.3 1746.0 1258.2 1746.4 1258.5 1746.8 1256.7 1747.2 1258.1 1747.6 1256.4 1748.0 1257.7 1748.4 1258.3 1748.8 1256.5 1749.2 1256.3 1749.6 1252.8 1750.0 1254.3 1750.4 1254.2 1750.8 1254.8 1751.2 1252.5 1751.6 1252.4 1752.0 1254.1 1752.4 1254.4 1752.8 1255.4 1753.2 1255.9 1753.6 1254.2 1754.0 1252.6 1754.4 1254.1 1754.8 1251.5 1754.8 1253.1 1755.2 1255.5 1755.6 1254.8 1756.0 1251.8 1756.4 1253.6 1756.8 1251.3 1757.2 1250.7 1757.6 1248.9 1758.0 1252.1 1758.4 1251.6 1758.8 1252.5 1759.2 1252.0 1759.6 1250.0 1760.0 1251.7 1760.4 1253.1 1760.8 1253.6 1761.2 1251.0 1761.6 1250.1 1762.0 1250.1 1762.4 1249.5 1762.8 1248.3 1763.2 1251.7 1763.6 1250.3 1764.0 1249.2 1764.4 1250.4 1764.8 1249.4 1765.2 1248.8 1765.3 1248.9 1765.6 1248.8 1766.0 1248.0 1766.4 1249.4 1766.8 1248.6 1767.2 1248.1 1767.6 1252.0 1768.0 1249.7 1768.4 1249.7 1768.8 1249.6 1769.2 1249.7 1769.6 1250.8 1770.0 1250.3 1770.4 1256.2 1770.8 1249.6 1771.2 1251.7 1771.6 1251.1 1772.0 1250.9 1772.4 1251.2 1772.8 1252.6 1773.2 1254.2 1773.3 1254.7 1773.6 1254.1 1774.0 1252.5 1774.4 1256.5 1774.8 1256.5 1775.2 1256.8 1775.6 1253.4 1776.0 1255.4 1776.4 1255.8 1776.8 1255.8 1777.2 1256.0 1777.6 1256.1 1778.0 1254.9 1778.4 1257.4 1778.5 1257.7 1778.8 1256.6 1779.2 1255.7 1779.6 1256.3 1780.0 1257.7 1780.4 1255.5 1780.8 1256.9 1781.2 1254.6 1781.6 1256.4 1782.0 1253.8 1782.3 1254.0 1782.4 1259.1 1782.8 1256.0 1783.2 1257.6 1783.6 1251.5 1784.0 1255.4 1784.4 1255.5 1784.8 1254.9 1785.2 1256.0 1785.6 1254.4 1786.0 1257.8 1786.4 1256.9 1786.8 1254.0 1787.2 1256.6 1787.6 1256.3 1788.0 1258.4 1788.4 1257.5 1788.8 1254.0 1789.2 1254.6 1789.6 1257.4 1790.0 1253.7 1790.4 1256.8 1790.8 1254.7 1791.2 1256.6 1791.6 1256.7 1792.0 1256.4 1792.4 1254.6 1792.8 1255.9 1793.2 1257.8 1793.6 1255.5 1794.0 1256.5 1794.4 1258.4 1794.7 1258.9 1794.8 1258.3 1795.2 1256.0 1795.6 1255.9 1796.0 1255.4 1796.4 1254.8 1796.8 1255.2 1797.2 1253.1 1797.6 1256.2 1798.0 1254.7 1798.4 1256.8 1798.8 1256.5 1799.2 1256.9 1799.6 1253.3 1800.0 1254.0 1800.4 1253.1 1800.8 1251.6 1801.2 1252.9 1801.6 1252.6 1802.0 1255.5 1802.4 1249.2 1802.8 1254.3 1803.2 1253.1 1803.6 1252.9 1804.0 1253.2 1804.4 1253.4 1804.5 1253.3 1804.8 1254.1 1805.2 1253.5 1805.6 1252.8 1806.0 1252.5 1806.4 1253.0 1806.8 1255.9 1807.2 1254.3 1807.6 1255.6 1808.0 1251.4 1808.4 1252.7 1808.8 1253.7 1809.2 1253.3 1809.6 1254.8 1810.0 1255.4 1810.4 1253.1 1810.8 1249.2 1811.2 1252.4 1811.6 1252.0 1812.0 1254.9 1812.4 1257.3 1812.8 1254.6 1813.2 1257.0 1813.6 1254.7 1814.0 1256.1 1814.4 1254.8 1814.8 1255.6 1815.2 1253.0 1815.6 1254.0 1815.6 1256.9 1816.0 1256.1 1816.4 1252.5 1816.8 1256.5 1817.2 1256.8 1817.6 1254.5 1818.0 1255.6 1818.4 1254.3 1818.8 1255.8 1819.2 1255.7 1819.6 1255.0 1820.0 1255.7 1820.4 1255.0 1820.8 1257.1 1821.2 1255.1 1821.6 1256.9 1822.0 1256.9 1822.4 1255.3 1822.8 1256.0 1823.2 1257.2 1823.6 1259.0 1824.0 1255.8 1824.4 1256.7 1824.8 1256.7 1825.2 1254.2 1825.5 1256.8 1825.6 1258.2 1826.0 1258.2 1826.4 1256.1 1826.8 1257.6 1827.2 1256.1 1827.6 1256.9 1828.0 1257.6 1828.4 1254.8 1828.8 1256.4 1829.2 1252.8 1829.6 1256.7 1830.0 1252.5 1830.4 1254.7 1830.8 1254.5 1831.2 1255.0 1831.6 1254.7 1831.7 1254.5 1832.0 1254.5 1832.4 1253.7 1832.8 1255.3 1833.2 1256.3 1833.6 1256.6 1834.0 1253.3 1834.4 1253.6 1834.8 1256.6 1835.2 1256.8 1835.6 1252.2 1836.0 1254.4 1836.4 1252.4 1836.8 1255.8 1837.2 1256.5 1837.6 1257.1 1838.0 1257.4 1838.4 1258.0 1838.8 1257.0 1839.2 1255.0 1839.6 1258.0 1840.0 1259.0 1840.4 1255.8 1840.8 1256.7 1841.2 1260.4 1841.6 1261.2 1842.0 1258.1 1842.4 1256.9 1842.8 1258.2 1843.2 1257.9 1843.6 1258.7 1844.0 1260.8 1844.0 1256.4 1844.4 1256.3 1844.8 1262.8 1845.2 1258.5 1845.6 1261.8 1846.0 1257.0 1846.4 1261.4 1846.8 1257.9 1847.2 1258.7 1847.6 1258.1 1848.0 1261.3 1848.4 1258.9 1848.8 1259.0 1849.2 1261.8 1849.6 1263.3 1850.0 1261.5 1850.4 1261.4 1850.8 1262.3 1851.2 1263.8 1851.6 1260.8 1852.0 1259.7 1852.4 1264.3 1852.8 1263.6 1853.2 1259.5 1853.6 1262.8 1854.0 1262.2 1854.4 1261.5 1854.8 1259.8 1855.2 1259.4 1855.6 1260.9 1856.0 1261.7 1856.4 1264.4 1856.8 1259.6 1857.2 1263.5 1857.6 1262.2 1858.0 1263.2 1858.4 1265.1 1858.8 1261.2 1858.8 1262.1 1859.2 1259.2 1859.6 1260.8 1860.0 1264.3 1860.4 1265.0 1860.8 1261.9 1861.2 1261.5 1861.6 1262.2 1862.0 1261.9 1862.4 1264.9 1862.8 1259.5 1863.2 1258.3 1863.6 1259.6 1864.0 1258.5 1864.4 1260.7 1864.8 1260.4 1865.2 1257.8 1865.6 1260.0 1866.0 1259.4 1866.4 1260.1 1866.8 1258.5 1867.2 1258.7 1867.6 1258.8 1868.0 1261.2 1868.4 1257.1 1868.8 1257.9 1869.2 1258.8 1869.6 1258.5 1870.0 1260.3 1870.4 1257.9 1870.8 1258.9 1871.2 1258.3 1871.6 1257.6 1872.0 1258.1 1872.3 1258.2 1872.4 1258.1 1872.8 1259.6 1873.2 1258.5 1873.6 1259.8 1874.0 1261.1 1874.4 1261.8 1874.8 1255.8 1875.2 1257.8 1875.6 1256.7 1876.0 1258.4 1876.4 1258.8 1876.8 1257.2 1877.2 1261.5 1877.6 1262.0 1878.0 1259.0 1878.4 1261.4 1878.8 1261.9 1879.2 1261.8 1879.6 1258.7 1880.0 1265.0 1880.4 1264.6 1880.8 1260.6 1881.2 1260.8 1881.6 1259.5 1882.0 1262.7 1882.4 1261.8 1882.8 1262.6 1883.2 1261.2 1883.4 1259.9 1883.6 1260.4 1884.0 1260.9 1884.4 1262.1 1884.8 1261.4 1885.2 1262.9 1885.6 1262.6 1886.0 1262.9 1886.4 1261.8 1886.8 1264.1 1887.2 1264.4 1887.6 1260.0 1888.0 1258.9 1888.4 1261.6 1888.8 1261.1 1889.2 1261.3 1889.6 1259.0 1890.0 1257.9 1890.4 1259.1 1890.8 1261.9 1891.2 1258.6 1891.6 1259.8 1892.0 1257.6 1892.4 1256.9 1892.8 1256.8 1893.2 1254.3 1893.6 1256.7 1894.0 1259.0 1894.4 1257.5 1894.8 1256.0 1895.2 1257.1 1895.6 1257.5 1896.0 1258.0 1896.4 1256.6 1896.8 1257.0 1897.0 1257.0 1897.2 1257.2 1897.6 1256.3 1898.0 1256.9 1898.4 1254.8 1898.8 1256.4 1899.2 1258.5 1899.6 1261.1 1900.0 1258.4 1900.4 1258.5 1900.8 1258.0 1901.2 1257.8 1901.6 1259.0 1902.0 1261.8 1902.4 1257.9 1902.8 1261.3 1903.2 1260.9 1903.6 1260.7 1904.0 1263.0 1904.4 1261.6 1904.8 1261.3 1905.2 1262.2 1905.6 1260.7 1905.6 1260.6 1906.0 1261.9 1906.4 1261.4 1906.8 1264.6 1907.2 1263.1 1907.6 1261.3 1908.0 1263.0 1908.4 1264.3 1908.8 1264.1 1909.2 1265.9 1909.6 1261.9 1910.0 1265.3 1910.4 1262.6 1910.8 1263.3 1911.2 1261.8 1911.6 1261.5 1912.0 1266.1 1912.4 1266.2 1912.8 1263.7 1913.2 1264.5 1913.6 1263.5 1914.0 1265.7 1914.4 1260.4 1914.8 1265.8 1915.2 1260.5 1915.6 1265.8 1916.0 1266.6 1916.4 1261.2 1916.8 1262.1 1917.2 1263.2 1917.6 1264.5 1918.0 1259.7 1918.0 1262.9 1918.4 1264.3 1918.8 1264.4 1919.2 1264.2 1919.6 1262.4 1920.0 1262.5 1920.4 1262.2 1920.8 1267.1 1921.2 1261.4 1921.6 1263.4 1922.0 1262.5 1922.4 1262.7 1922.8 1263.4 1923.2 1261.9 1923.6 1262.8 1924.0 1262.0 1924.4 1263.8 1924.8 1261.9 1925.2 1262.6 1925.6 1262.5 1926.0 1265.4 1926.4 1265.3 1926.8 1260.3 1927.2 1260.9 1927.6 1259.8 1928.0 1261.4 1928.4 1261.8 1928.8 1260.7 1929.2 1262.3 1929.6 1260.9 1930.0 1261.5 1930.4 1258.6 1930.8 1262.5 1931.2 1259.9 1931.6 1260.6 1932.0 1262.3 1932.4 1258.9 1932.8 1262.8 1933.2 1261.5 1933.6 1261.5 1934.0 1258.7 1934.4 1258.8 1934.8 1261.0 1935.2 1260.4 1935.6 1259.9 1936.0 1260.6 1936.4 1259.3 1936.8 1260.5 1937.2 1261.6 1937.6 1259.4 1938.0 1259.9 1938.4 1260.6 1938.8 1260.6 1938.9 1260.7 1939.2 1260.7 1939.6 1259.4 1940.0 1262.6 1940.4 1260.4 1940.8 1260.9 1941.2 1258.9 1941.6 1260.5 1942.0 1260.5 1942.4 1259.4 1942.8 1260.7 1943.2 1258.7 1943.6 1264.9 1944.0 1261.7 1944.4 1262.3 1944.8 1262.1 1945.2 1260.4 1945.6 1262.0 1946.0 1257.7 1946.4 1260.5 1946.8 1263.1 1947.2 1261.9 1947.6 1259.0 1948.0 1260.3 1948.4 1264.1 1948.8 1260.0 1949.2 1263.1 1949.6 1260.2 1950.0 1264.7 1950.4 1264.2 1950.8 1265.0 1951.2 1263.0 1951.6 1264.3 1952.0 1264.1 1952.4 1261.8 1952.8 1264.1 1953.2 1263.0 1953.6 1262.2 1954.0 1262.4 1954.4 1266.1 1954.8 1265.7 1955.0 1263.8 1955.2 1261.1 1955.6 1265.4 1956.0 1266.3 1956.4 1265.5 1956.8 1264.2 1957.2 1262.3 1957.6 1264.5 1958.0 1263.2 1958.4 1263.5 1958.8 1264.6 1959.2 1263.8 1959.6 1264.9 1960.0 1266.4 1960.4 1262.5 1960.8 1265.4 1961.2 1265.6 1961.6 1264.5 1962.0 1261.8 1962.4 1263.7 1962.8 1268.8 1963.2 1266.3 1963.6 1263.2 1964.0 1264.6 1964.4 1264.5 1964.8 1265.4 1965.2 1265.8 1965.6 1266.6 1966.0 1265.5 1966.4 1264.0 1966.8 1266.8 1967.2 1264.2 1967.6 1266.3 1968.0 1268.3 1968.4 1265.7 1968.8 1262.8 1969.2 1266.5 1969.6 1266.1 1970.0 1263.8 1970.4 1266.5 1970.8 1265.6 1971.2 1263.8 1971.6 1265.8 1972.0 1265.3 1972.4 1262.6 1972.8 1265.9 1973.2 1263.0 1973.5 1266.3 1973.6 1263.3 1974.0 1266.3 1974.4 1265.8 1974.8 1263.2 1975.2 1266.3 1975.6 1267.2 1976.0 1263.0 1976.4 1264.0 1976.8 1263.7 1977.2 1264.9 1977.6 1267.7 1978.0 1265.4 1978.4 1267.6 1978.8 1265.0 1979.2 1267.3 1979.6 1264.3 1980.0 1264.6 1980.4 1262.6 1980.8 1266.5 1981.2 1264.9 1981.6 1264.4 1982.0 1263.5 1982.4 1266.1 1982.8 1265.7 1983.2 1263.5 1983.6 1267.3 1984.0 1265.1 1984.4 1264.8 1984.8 1268.0 1985.2 1264.9 1985.6 1264.8 1986.0 1264.5 1986.4 1268.6 1986.8 1268.5 1987.2 1266.7 1987.6 1264.8 1988.0 1264.0 1988.4 1265.7 1988.8 1265.1 1989.2 1262.5 1989.6 1266.9 1990.0 1264.2 1990.4 1266.1 1990.8 1264.8 1991.2 1264.9 1991.6 1262.9 1992.0 1263.6 1992.0 1264.0 1992.4 1265.0 1992.8 1265.5 1993.2 1264.5 1993.6 1263.8 1994.0 1266.7 1994.4 1265.0 1994.8 1265.8 1995.2 1265.6 1995.6 1263.6 1996.0 1264.0 1996.4 1266.4 1996.8 1268.1 1997.2 1265.8 1997.6 1263.9 1998.0 1267.0 1998.4 1262.4 1998.8 1263.7 1999.2 1267.0 1999.6 1264.3 2000.0 1267.4 2000.4 1262.3 2000.8 1263.9 2001.2 1265.5 2001.6 1265.3 2002.0 1265.4 2002.4 1264.9 2002.8 1264.0 2003.2 1266.6 2003.6 1263.9 2004.0 1263.0 2004.4 1264.8 2004.8 1260.9 2005.2 1266.3 2005.6 1265.8 2006.0 1264.9 2006.4 1263.9 2006.8 1262.1 2007.2 1262.2 2007.6 1266.1 2008.0 1265.2 2008.4 1265.6 2008.8 1264.8 2009.2 1265.5 2009.6 1262.4 2010.0 1266.0 2010.4 1265.6 2010.4 1266.4 2010.8 1265.2 2011.2 1263.4 2011.6 1265.8 2012.0 1263.2 2012.4 1266.7 2012.8 1265.6 2013.2 1264.1 2013.6 1265.8 2014.0 1267.8 2014.4 1263.7 2014.8 1268.1 2015.2 1265.6 2015.6 1267.2 2016.0 1266.0 2016.4 1266.3 2016.8 1268.5 2017.2 1266.0 2017.6 1265.5 2018.0 1266.1 2018.4 1267.6 2018.8 1265.6 2019.2 1264.5 2019.6 1265.6 2020.0 1267.0 2020.4 1266.1 2020.8 1266.8 2021.2 1264.9 2021.6 1268.3 2022.0 1266.8 2022.4 1266.8 2022.8 1266.2 2022.8 1267.2 2023.2 1266.1 2023.6 1266.0 2024.0 1267.5 2024.4 1265.7 2024.8 1266.1 2025.2 1264.0 2025.6 1265.8 2026.0 1264.2 2026.4 1264.7 2026.8 1265.1 2027.2 1269.2 2027.6 1268.0 2028.0 1266.7 2028.4 1266.7 2028.8 1268.1 2029.2 1262.9 2029.6 1264.2 2030.0 1266.1 2030.4 1264.9 2030.8 1264.1 2031.2 1265.5 2031.6 1267.1 2032.0 1267.6 2032.4 1266.0 2032.8 1266.6 2033.2 1267.1 2033.6 1261.9 2034.0 1267.1 2034.4 1262.7 2034.8 1266.5 2035.2 1266.9 2035.6 1266.9 2036.0 1265.0 2036.4 1266.9 2036.8 1266.8 2037.2 1267.4 2037.6 1263.3 2038.0 1264.5 2038.4 1266.3 2038.8 1265.4 2039.2 1266.8 2039.6 1266.4 2040.0 1266.0 2040.4 1266.3 2040.5 1265.9" fill="none" stroke="#000000" stroke-width="7" stroke-linejoin="round" stroke-linecap="round" shape-rendering="crispEdges"/>
<path d="M627.6 1049.4 628.0 1049.9 628.4 1046.4 628.8 1052.2 629.2 1046.4 629.6 1047.6 630.0 1049.3 630.4 1046.1 630.8 1046.0 631.2 1045.7 631.6 1047.5 632.0 1049.8 632.4 1045.6 632.8 1043.1 633.2 1045.2 633.6 1042.7 634.0 1043.0 634.4 1044.3 634.4 1041.2 634.8 1041.7 635.2 1039.5 635.6 1039.8 636.0 1039.6 636.4 1036.6 636.8 1036.5 637.2 1035.6 637.6 1033.8 638.0 1031.7 638.4 1030.1 638.8 1030.9 639.2 1029.4 639.2 1033.4 639.6 1024.5 640.0 1027.0 640.4 1025.8 640.8 1025.6 641.2 1022.5 641.6 1018.5 642.0 1018.0 642.4 1017.1 642.8 1014.0 643.1 1014.5 643.2 1009.9 643.6 1014.1 644.0 1012.1 644.4 1007.7 644.8 1007.7 645.2 1005.3 645.6 1002.5 646.0 1002.5 646.4 1002.5 646.8 998.9 647.0 998.2 647.2 998.0 647.6 997.4 648.0 997.3 648.4 992.8 648.8 993.3 649.2 991.4 649.6 986.8 650.0 987.9 650.4 987.2 650.8 986.4 650.9 986.7 651.2 982.2 651.6 984.6 652.0 982.5 652.4 980.3 652.8 982.5 653.2 982.1 653.6 979.5 654.0 980.4 654.4 979.3 654.7 979.4 654.8 979.3 655.2 980.3 655.6 977.0 656.0 979.5 656.4 981.0 656.8 976.8 657.2 980.0 657.6 980.4 658.0 982.2 658.4 983.1 658.6 980.7 658.8 979.3 659.2 984.1 659.6 984.4 660.0 982.4 660.4 984.4 660.8 985.3 661.2 986.5 661.6 986.9 662.0 989.9 662.4 986.0 662.5 990.8 662.8 990.7 663.2 991.4 663.6 995.6 664.0 992.1 664.4 1000.0 664.8 1001.0 665.2 1000.8 665.4 1004.3 665.6 1004.1 666.0 1010.7 666.4 1011.5 666.8 1011.3 667.2 1011.4 667.6 1013.7 668.0 1016.1 668.3 1017.2 668.4 1017.2 668.8 1019.7 669.2 1022.4 669.6 1024.2 670.0 1026.0 670.4 1027.7 670.8 1035.1 671.2 1030.3 671.2 1031.1 671.6 1034.9 672.0 1035.2 672.4 1037.7 672.8 1039.7 673.2 1041.7 673.6 1042.1 674.0 1040.5 674.4 1045.0 674.8 1041.5 675.2 1045.1 675.6 1045.5 676.0 1045.5 676.0 1048.1 676.4 1047.8 676.8 1050.6 677.2 1047.4 677.6 1052.0 678.0 1052.2 678.4 1052.4 678.8 1050.7 679.2 1053.3 679.6 1052.0 680.0 1051.8 680.4 1061.0 680.8 1057.9 681.2 1059.8 681.6 1056.8 682.0 1059.1 682.4 1059.5 682.8 1059.8 682.8 1058.8 683.2 1058.8 683.6 1056.2 684.0 1060.9 684.4 1060.9 684.8 1062.4 685.2 1060.5 685.6 1064.1 686.0 1060.9 686.4 1059.9 686.8 1063.7 687.2 1061.7 687.6 1060.7 688.0 1063.2 688.4 1064.4 688.8 1063.7 689.2 1064.3 689.6 1070.2 690.0 1065.0 690.4 1066.1 690.6 1060.5 690.8 1064.3 691.2 1064.9 691.6 1063.1 692.0 1062.3 692.4 1064.3 692.8 1063.1 693.2 1062.6 693.6 1065.3 694.0 1065.6 694.4 1063.9 694.8 1062.6 695.2 1064.1 695.6 1064.5 696.0 1064.1 696.4 1060.6 696.8 1062.3 697.2 1063.3 697.4 1063.7 697.6 1064.2 698.0 1063.6 698.4 1060.2 698.8 1060.4 699.2 1059.0 699.6 1063.1 700.0 1059.6 700.4 1059.2 700.8 1058.8 701.2 1055.3 701.6 1052.6 702.0 1052.2 702.2 1051.9 702.4 1053.3 702.8 1048.3 703.2 1039.7 703.6 1036.3 704.0 1030.4 704.1 1026.1 704.4 1023.3 704.8 1014.3 705.2 1011.5 705.6 1004.5 706.0 997.7 706.1 997.7 706.4 995.9 706.8 990.3 707.2 987.2 707.6 984.3 708.0 983.0 708.0 983.0 708.4 984.9 708.8 986.7 709.2 989.1 709.6 994.6 710.0 996.7 710.0 1000.6 710.4 1004.3 710.8 1011.4 711.2 1017.8 711.6 1023.6 711.9 1029.4 712.0 1029.7 712.4 1035.6 712.8 1042.7 713.2 1050.5 713.6 1051.8 713.8 1059.8 714.0 1054.7 714.4 1058.4 714.8 1057.3 715.2 1056.8 715.6 1060.6 716.0 1060.7 716.4 1061.4 716.8 1062.9 717.2 1061.3 717.6 1063.2 717.7 1063.5 718.0 1062.4 718.4 1062.8 718.8 1064.4 719.2 1063.9 719.6 1064.3 720.0 1060.5 720.4 1064.5 720.8 1065.2 721.2 1064.5 721.6 1065.2 721.6 1067.7 722.0 1064.6 722.4 1064.8 722.8 1061.3 723.2 1059.9 723.6 1058.9 724.0 1056.3 724.4 1056.2 724.8 1053.1 725.2 1052.8 725.5 1049.8 725.6 1049.1 726.0 1049.4 726.4 1047.3 726.8 1046.5 727.2 1045.1 727.6 1044.0 728.0 1044.9 728.4 1044.1 728.8 1041.9 729.2 1040.2 729.6 1040.4 729.8 1040.0 730.0 1039.7 730.4 1040.9 730.8 1041.8 731.2 1043.1 731.6 1045.1 732.0 1044.3 732.4 1047.0 732.8 1052.6 733.2 1053.7 733.2 1050.9 733.6 1056.7 734.0 1053.5 734.4 1056.0 734.8 1059.1 735.2 1058.3 735.6 1061.0 736.0 1062.7 736.4 1063.3 736.8 1066.0 737.1 1065.6 737.2 1062.9 737.6 1063.6 738.0 1065.0 738.4 1064.5 738.8 1063.4 739.2 1065.3 739.6 1065.8 740.0 1063.5 740.4 1065.7 740.8 1061.7 741.2 1061.7 741.6 1065.0 742.0 1062.8 742.4 1062.4 742.8 1063.5 743.2 1062.8 743.6 1064.3 743.9 1061.4 744.0 1063.1 744.4 1068.6 744.8 1063.7 745.2 1060.3 745.6 1064.2 746.0 1064.0 746.4 1065.2 746.8 1063.1 747.2 1061.6 747.6 1064.8 748.0 1063.5 748.4 1059.3 748.8 1063.1 749.2 1061.3 749.6 1063.3 750.0 1060.7 750.4 1062.3 750.7 1061.1 750.8 1061.7 751.2 1060.4 751.6 1059.4 752.0 1059.7 752.4 1060.1 752.8 1059.2 753.2 1060.5 753.6 1058.0 754.0 1057.7 754.4 1059.3 754.8 1055.4 755.2 1055.4 755.6 1052.8 756.0 1053.1 756.4 1054.9 756.5 1052.6 756.8 1053.8 757.2 1048.8 757.6 1047.1 758.0 1048.6 758.4 1044.6 758.8 1049.7 759.2 1046.1 759.6 1040.9 760.0 1041.5 760.4 1039.9 760.8 1040.4 761.2 1039.3 761.6 1039.2 761.8 1039.0 762.0 1039.0 762.4 1038.6 762.8 1040.4 763.2 1040.3 763.6 1043.2 764.0 1042.1 764.4 1044.6 764.8 1044.8 765.2 1045.0 765.6 1045.4 766.0 1048.0 766.2 1051.2 766.4 1048.8 766.8 1047.9 767.2 1049.8 767.6 1049.4 768.0 1047.8 768.4 1050.9 768.8 1053.4 769.2 1051.0 769.6 1050.2 770.0 1053.2 770.4 1055.8 770.8 1054.7 771.2 1055.2 771.6 1057.5 772.0 1056.6 772.0 1055.1 772.4 1053.8 772.8 1054.5 773.2 1054.3 773.6 1056.0 774.0 1053.4 774.4 1057.4 774.8 1055.3 775.2 1054.5 775.6 1056.6 776.0 1052.1 776.4 1054.2 776.8 1054.5 777.2 1057.0 777.6 1054.9 778.0 1058.1 778.4 1055.1 778.8 1056.7 779.2 1054.8 779.6 1057.7 779.7 1055.5 780.0 1056.7 780.4 1055.1 780.8 1054.1 781.2 1055.5 781.6 1057.6 782.0 1054.1 782.4 1053.3 782.8 1055.2 783.2 1056.9 783.6 1053.9 784.0 1054.6 784.4 1055.7 784.8 1054.8 785.2 1055.7 785.6 1057.1 786.0 1055.1 786.4 1054.9 786.5 1056.2 786.8 1054.8 787.2 1053.2 787.6 1052.9 788.0 1052.5 788.4 1057.1 788.8 1053.7 789.2 1054.4 789.6 1054.3 790.0 1051.3 790.4 1053.5 790.8 1051.3 791.2 1048.5 791.6 1051.3 792.0 1049.9 792.4 1050.9 792.8 1051.3 793.2 1051.3 793.3 1051.1 793.6 1051.1 794.0 1051.4 794.4 1051.4 794.8 1051.0 795.2 1049.7 795.6 1050.0 796.0 1051.3 796.4 1049.9 796.8 1050.9 797.2 1050.1 797.6 1054.0 798.0 1050.0 798.4 1055.5 798.8 1051.7 799.2 1051.0 799.6 1050.9 800.0 1054.2 800.4 1054.6 800.8 1051.6 801.0 1053.5 801.2 1052.8 801.6 1052.6 802.0 1053.2 802.4 1054.1 802.8 1049.8 803.2 1049.2 803.6 1053.1 804.0 1052.5 804.4 1053.6 804.8 1049.7 805.2 1050.7 805.6 1054.7 806.0 1050.0 806.4 1052.5 806.8 1050.5 807.2 1051.0 807.6 1049.3 808.0 1053.2 808.4 1048.1 808.8 1049.0 809.2 1049.3 809.6 1052.5 810.0 1050.9 810.4 1051.3 810.7 1050.1 810.8 1050.4 811.2 1050.6 811.6 1052.1 812.0 1049.7 812.4 1046.7 812.8 1050.6 813.2 1048.6 813.6 1046.3 814.0 1047.4 814.4 1045.7 814.8 1050.2 815.2 1045.9 815.6 1042.8 816.0 1046.0 816.4 1043.7 816.8 1046.6 817.2 1044.3 817.6 1040.7 818.0 1042.2 818.4 1040.8 818.5 1041.2 818.8 1041.0 819.2 1038.2 819.6 1041.1 820.0 1038.7 820.4 1038.0 820.8 1039.9 821.2 1040.9 821.6 1036.1 822.0 1039.2 822.4 1032.2 822.8 1035.6 823.2 1033.0 823.6 1033.0 824.0 1030.7 824.3 1030.7 824.4 1031.0 824.8 1030.2 825.2 1030.5 825.6 1032.8 826.0 1027.2 826.4 1027.1 826.8 1023.7 827.2 1021.6 827.6 1027.1 828.0 1021.9 828.4 1022.0 828.8 1022.4 829.0 1023.5 829.2 1022.1 829.6 1023.6 830.0 1019.4 830.4 1017.1 830.8 1018.2 831.2 1017.8 831.3 1017.8 831.6 1017.8 832.0 1017.9 832.4 1021.0 832.8 1019.0 833.2 1018.9 833.6 1022.9 834.0 1021.1 834.4 1026.3 834.8 1028.0 835.2 1027.7 835.6 1029.9 836.0 1031.5 836.4 1036.7 836.8 1036.3 837.2 1035.1 837.6 1036.3 838.0 1039.2 838.4 1040.1 838.8 1039.3 839.0 1041.2 839.2 1040.5 839.6 1042.7 840.0 1041.8 840.4 1041.1 840.8 1041.6 841.2 1040.2 841.6 1043.1 842.0 1042.4 842.4 1041.3 842.8 1042.3 843.2 1041.3 843.6 1046.3 844.0 1041.7 844.4 1043.3 844.8 1043.2 845.2 1041.4 845.6 1042.8 846.0 1042.3 846.4 1043.3 846.8 1043.4 847.2 1044.2 847.6 1044.3 848.0 1042.4 848.4 1042.3 848.8 1042.2 849.2 1041.8 849.6 1040.4 850.0 1044.2 850.4 1043.1 850.4 1042.9 850.8 1040.5 851.2 1040.5 851.6 1038.6 852.0 1042.0 852.4 1042.7 852.8 1041.9 853.2 1040.1 853.6 1037.6 854.0 1038.4 854.4 1037.4 854.8 1037.4 855.2 1036.4 855.6 1033.6 856.0 1032.7 856.4 1032.6 856.8 1030.9 857.2 1028.6 857.6 1024.0 858.0 1025.1 858.4 1026.1 858.8 1023.6 859.2 1023.6 859.6 1020.2 860.0 1019.5 860.4 1019.4 860.5 1018.9 860.8 1017.5 861.2 1017.4 861.6 1016.6 862.0 1015.6 862.4 1009.5 862.8 1010.2 863.2 1009.2 863.6 1007.8 864.0 1004.4 864.4 1007.6 864.8 1002.2 865.2 1002.2 865.6 996.3 866.0 997.2 866.4 995.3 866.8 991.7 866.9 993.7 867.2 993.7 867.6 983.6 868.0 977.2 868.4 974.1 868.8 964.2 869.2 954.6 869.6 945.1 870.0 940.8 870.4 933.4 870.7 931.5 870.8 926.4 871.2 922.4 871.6 916.9 872.0 911.8 872.4 909.1 872.8 904.3 873.2 899.4 873.6 897.7 874.0 897.0 874.0 897.0 874.4 898.0 874.8 900.1 875.2 905.0 875.6 910.9 876.0 918.7 876.4 925.8 876.8 932.3 877.2 936.7 877.6 940.4 878.0 946.0 878.3 946.5 878.4 946.2 878.8 949.3 879.2 951.0 879.6 953.3 880.0 951.9 880.4 952.0 880.8 956.7 881.2 955.5 881.6 959.6 882.0 957.2 882.4 958.9 882.8 957.6 883.2 964.3 883.6 960.8 884.0 961.7 884.4 961.1 884.6 961.6 884.8 963.2 885.2 961.0 885.6 958.8 886.0 958.0 886.4 950.6 886.8 950.7 887.2 947.1 887.6 937.7 888.0 935.6 888.4 928.4 888.8 922.4 889.2 920.0 889.6 918.1 889.7 917.4 890.0 912.7 890.4 907.5 890.8 904.5 891.0 904.0 891.2 904.1 891.6 904.5 892.0 909.1 892.4 913.8 892.8 923.0 893.2 927.0 893.6 932.4 894.0 939.7 894.4 946.9 894.8 951.7 895.2 955.2 895.6 962.3 896.0 966.7 896.0 967.2 896.4 968.9 896.8 971.6 897.2 975.6 897.6 978.9 898.0 982.2 898.4 983.1 898.8 986.0 899.2 985.0 899.6 988.6 899.8 987.3 900.0 985.1 900.4 986.7 900.8 986.8 901.2 984.2 901.6 986.2 902.0 983.4 902.4 983.4 902.8 979.7 903.2 980.3 903.6 979.3 904.0 975.7 904.4 974.2 904.8 971.7 904.9 972.7 905.2 970.4 905.6 967.7 906.0 962.5 906.4 955.6 906.8 950.1 907.2 946.0 907.6 942.0 908.0 939.8 908.4 933.2 908.7 928.0 908.8 924.9 909.2 926.0 909.6 922.6 910.0 918.4 910.4 919.6 910.8 916.0 911.2 913.1 911.6 908.1 912.0 909.7 912.4 904.8 912.5 903.3 912.8 898.2 913.2 891.4 913.6 884.1 914.0 871.9 914.4 862.7 914.8 850.2 915.2 839.1 915.6 831.6 916.0 826.2 916.3 825.0 916.4 825.0 916.8 827.7 917.2 831.9 917.6 839.3 918.0 846.7 918.4 860.9 918.8 865.6 919.2 874.9 919.6 882.8 920.0 891.5 920.1 892.8 920.4 892.8 920.8 897.5 921.2 897.6 921.6 901.1 922.0 907.3 922.4 906.6 922.8 907.3 923.2 907.9 923.6 912.9 923.9 914.3 924.0 914.2 924.4 926.8 924.8 938.4 925.2 951.0 925.6 964.9 926.0 970.9 926.4 981.5 926.5 978.1 926.8 981.2 927.2 982.4 927.6 984.3 928.0 986.6 928.4 984.7 928.8 984.1 929.2 983.5 929.6 986.2 930.0 984.9 930.4 984.5 930.8 986.7 931.2 988.4 931.6 987.2 932.0 986.3 932.4 988.5 932.8 986.6 933.2 986.5 933.6 991.7 934.0 990.2 934.1 993.1 934.4 987.9 934.8 992.3 935.2 990.8 935.6 995.8 936.0 991.6 936.4 991.6 936.8 993.4 937.2 993.4 937.6 992.8 938.0 995.3 938.4 995.3 938.8 996.0 939.2 995.6 939.6 994.2 940.0 994.6 940.4 997.1 940.8 995.0 941.2 999.6 941.6 997.3 942.0 996.4 942.4 999.7 942.8 998.5 943.2 1000.9 943.6 999.7 944.0 1002.7 944.2 999.5 944.4 996.9 944.8 998.5 945.2 998.9 945.6 1003.1 946.0 1005.7 946.4 1003.2 946.8 1002.2 947.2 1006.2 947.6 1006.6 948.0 1006.0 948.4 1008.1 948.8 1008.3 949.2 1007.2 949.6 1010.9 950.0 1009.7 950.4 1009.7 950.8 1011.6 951.2 1015.1 951.6 1016.3 952.0 1015.9 952.4 1013.4 952.8 1012.9 953.2 1015.4 953.6 1014.8 954.0 1015.5 954.4 1013.5 954.4 1013.9 954.8 1013.4 955.2 1016.0 955.6 1015.7 956.0 1012.1 956.4 1013.0 956.8 1011.9 957.2 1008.3 957.6 1008.1 958.0 1007.9 958.4 1003.4 958.8 1005.5 959.2 1001.7 959.6 1000.6 960.0 998.8 960.4 995.6 960.8 997.5 961.2 996.0 961.6 994.7 962.0 994.6 962.0 995.7 962.4 994.5 962.8 993.7 963.2 994.5 963.6 995.4 964.0 994.2 964.4 992.7 964.8 995.2 965.2 993.3 965.6 994.6 966.0 993.4 966.4 992.0 966.8 991.3 967.2 991.7 967.6 992.6 968.0 989.1 968.3 993.1 968.4 994.2 968.8 991.3 969.2 988.6 969.6 986.0 970.0 986.8 970.4 984.7 970.8 981.3 971.2 979.4 971.6 974.1 972.0 971.7 972.4 969.4 972.8 965.5 973.2 963.7 973.6 961.0 974.0 957.4 974.4 954.2 974.7 953.2 974.8 955.8 975.2 950.7 975.6 951.7 976.0 949.0 976.4 953.5 976.8 948.0 977.2 949.3 977.6 945.8 978.0 951.5 978.4 943.0 978.8 944.1 979.2 939.7 979.5 941.3 979.6 937.2 980.0 931.7 980.4 918.4 980.8 905.4 981.2 889.1 981.6 874.1 982.0 850.4 982.1 850.9 982.4 837.4 982.8 818.1 983.2 799.7 983.2 800.6 983.6 779.9 984.0 759.5 984.2 748.8 984.4 739.6 984.8 719.1 985.2 696.2 985.6 679.8 986.0 671.4 986.1 671.0 986.4 689.1 986.8 738.8 986.9 748.3 987.2 784.8 987.4 801.4 987.6 810.1 988.0 820.7 988.4 829.8 988.8 835.2 989.2 842.5 989.4 849.7 989.6 856.5 990.0 875.5 990.4 894.4 990.8 911.6 991.2 929.0 991.5 939.9 991.6 943.1 992.0 956.9 992.4 964.8 992.8 977.0 993.2 979.6 993.5 983.9 993.6 988.3 994.0 988.9 994.4 990.9 994.8 993.8 995.2 994.4 995.6 996.5 996.0 998.1 996.4 999.2 996.8 1000.1 997.2 999.0 997.5 1000.6 997.6 998.9 998.0 1000.5 998.4 998.1 998.8 997.1 999.2 995.0 999.6 990.8 1000.0 988.2 1000.4 985.6 1000.8 983.2 1001.2 980.5 1001.6 975.5 1002.0 971.0 1002.4 969.1 1002.6 967.0 1002.8 966.2 1003.2 962.8 1003.3 963.7 1003.6 957.8 1004.0 959.5 1004.4 960.0 1004.8 961.3 1005.2 961.0 1005.6 960.0 1006.0 961.1 1006.4 959.0 1006.8 959.2 1007.2 960.1 1007.6 957.8 1007.7 962.0 1008.0 957.7 1008.4 955.3 1008.8 954.9 1009.2 948.2 1009.6 947.3 1010.0 944.8 1010.4 943.4 1010.8 941.8 1011.0 941.0 1011.2 941.0 1011.6 943.5 1012.0 947.5 1012.4 950.0 1012.8 956.9 1013.2 963.8 1013.6 966.5 1014.0 967.8 1014.3 969.6 1014.4 968.2 1014.8 971.1 1015.2 971.8 1015.6 975.7 1016.0 971.6 1016.4 972.2 1016.8 975.5 1017.2 976.6 1017.6 975.4 1018.0 977.2 1018.4 978.7 1018.7 979.4 1018.8 979.1 1019.2 980.4 1019.6 978.3 1020.0 983.3 1020.4 983.6 1020.8 983.4 1021.2 985.6 1021.6 987.2 1022.0 988.2 1022.4 990.1 1022.8 991.1 1023.1 990.3 1023.2 996.3 1023.6 994.7 1024.0 998.8 1024.4 996.2 1024.8 1000.5 1025.2 999.1 1025.6 1003.1 1026.0 1003.4 1026.4 1004.4 1026.8 1004.1 1027.2 1005.8 1027.6 1008.5 1028.0 1004.1 1028.4 1006.9 1028.8 1006.6 1029.2 1007.4 1029.6 1010.1 1029.7 1010.4 1030.0 1008.7 1030.4 1010.7 1030.8 1007.5 1031.2 1007.3 1031.6 1008.1 1032.0 1008.0 1032.4 1006.5 1032.8 1004.4 1033.2 1006.3 1033.6 1007.3 1034.0 1003.2 1034.1 1003.6 1034.4 1001.0 1034.8 1001.2 1035.2 997.7 1035.6 997.0 1036.0 996.5 1036.4 992.1 1036.8 987.4 1037.2 987.2 1037.6 980.8 1038.0 983.5 1038.0 982.1 1038.4 978.1 1038.8 977.4 1039.2 974.5 1039.6 977.2 1040.0 973.2 1040.4 969.0 1040.8 968.0 1041.2 968.0 1041.6 966.3 1042.0 966.3 1042.4 966.0 1042.4 966.0 1042.8 966.7 1043.2 969.0 1043.6 969.8 1044.0 972.7 1044.4 973.5 1044.8 976.4 1045.2 980.7 1045.6 981.7 1046.0 983.3 1046.2 988.4 1046.4 987.3 1046.8 991.4 1047.2 994.1 1047.6 997.5 1048.0 1000.7 1048.4 1003.4 1048.8 1004.8 1049.2 1008.9 1049.5 1008.5 1049.6 1010.1 1050.0 1010.4 1050.4 1013.4 1050.8 1013.7 1051.2 1019.0 1051.6 1019.0 1052.0 1018.9 1052.4 1018.8 1052.8 1021.9 1053.2 1026.3 1053.6 1024.3 1054.0 1027.9 1054.4 1026.7 1054.8 1027.1 1055.0 1026.1 1055.2 1028.4 1055.6 1029.9 1056.0 1029.8 1056.4 1029.6 1056.8 1027.4 1057.2 1029.5 1057.6 1027.7 1058.0 1028.4 1058.4 1030.5 1058.8 1028.4 1059.2 1031.1 1059.6 1030.0 1060.0 1032.9 1060.4 1030.4 1060.8 1031.6 1061.2 1032.5 1061.6 1031.9 1062.0 1032.0 1062.4 1028.2 1062.7 1032.4 1062.8 1028.4 1063.2 1029.9 1063.6 1027.0 1064.0 1030.3 1064.4 1029.7 1064.8 1030.2 1065.2 1028.9 1065.6 1030.1 1066.0 1029.0 1066.4 1029.6 1066.8 1031.0 1067.2 1026.0 1067.6 1029.1 1068.0 1028.6 1068.4 1026.1 1068.8 1027.5 1069.2 1030.1 1069.6 1028.1 1070.0 1026.2 1070.4 1027.8 1070.5 1027.1 1070.8 1023.9 1071.2 1024.0 1071.6 1022.6 1072.0 1020.3 1072.4 1018.2 1072.8 1014.9 1073.2 1012.4 1073.6 1009.2 1074.0 1007.6 1074.4 1006.4 1074.8 1006.1 1074.9 1006.0 1075.2 1006.1 1075.6 1008.0 1076.0 1012.3 1076.4 1011.8 1076.8 1017.1 1077.2 1017.5 1077.6 1021.9 1078.0 1026.1 1078.4 1029.1 1078.8 1032.9 1079.2 1030.1 1079.3 1031.2 1079.6 1033.7 1080.0 1034.3 1080.4 1031.5 1080.8 1033.4 1081.2 1035.5 1081.6 1036.3 1082.0 1033.2 1082.4 1035.6 1082.8 1031.7 1083.2 1037.0 1083.6 1038.3 1083.7 1033.8 1084.0 1035.0 1084.4 1032.5 1084.8 1033.0 1085.2 1033.4 1085.6 1032.1 1086.0 1030.3 1086.4 1025.9 1086.8 1025.6 1087.2 1027.5 1087.6 1025.0 1088.0 1024.5 1088.1 1024.5 1088.4 1024.5 1088.8 1025.4 1089.2 1025.3 1089.6 1026.4 1090.0 1026.4 1090.4 1033.3 1090.8 1033.2 1091.2 1034.5 1091.6 1036.2 1092.0 1035.6 1092.4 1034.8 1092.5 1037.4 1092.8 1038.0 1093.2 1038.0 1093.6 1036.8 1094.0 1035.3 1094.4 1039.2 1094.8 1038.8 1095.2 1038.2 1095.6 1038.1 1096.0 1038.4 1096.4 1037.8 1096.8 1036.5 1097.2 1038.9 1097.6 1038.5 1098.0 1039.9 1098.4 1039.0 1098.8 1040.2 1099.1 1038.0 1099.2 1040.7 1099.6 1043.5 1100.0 1040.4 1100.4 1041.8 1100.8 1042.6 1101.2 1042.1 1101.6 1042.3 1102.0 1039.7 1102.4 1041.3 1102.8 1045.4 1103.2 1043.6 1103.6 1043.9 1104.0 1046.9 1104.4 1041.2 1104.8 1045.8 1105.2 1045.3 1105.6 1041.2 1105.7 1043.3 1106.0 1045.0 1106.4 1043.0 1106.8 1042.7 1107.2 1044.6 1107.6 1042.9 1108.0 1043.1 1108.4 1042.0 1108.8 1041.8 1109.2 1041.4 1109.6 1043.8 1110.0 1040.1 1110.4 1037.5 1110.8 1038.4 1111.2 1037.3 1111.6 1041.3 1112.0 1032.8 1112.3 1035.5 1112.4 1034.6 1112.8 1035.5 1113.2 1029.9 1113.6 1028.0 1114.0 1028.7 1114.4 1027.5 1114.8 1024.8 1115.2 1023.0 1115.6 1019.9 1116.0 1019.5 1116.4 1016.2 1116.7 1013.8 1116.8 1016.5 1117.2 1010.9 1117.6 1007.7 1118.0 1007.6 1118.4 1005.9 1118.8 1004.0 1119.2 1001.7 1119.6 1001.0 1120.0 998.2 1120.4 996.1 1120.8 998.7 1121.1 995.6 1121.2 997.5 1121.6 995.5 1122.0 995.5 1122.4 996.8 1122.8 990.9 1123.2 995.3 1123.6 993.2 1124.0 994.2 1124.4 991.8 1124.8 992.3 1125.2 991.8 1125.6 990.1 1126.0 991.6 1126.4 994.5 1126.6 993.5 1126.8 993.7 1127.2 991.0 1127.6 991.0 1128.0 990.5 1128.4 987.8 1128.8 990.6 1129.2 989.7 1129.6 992.2 1130.0 992.3 1130.4 991.4 1130.8 989.2 1131.2 989.7 1131.6 992.7 1132.0 991.0 1132.4 992.1 1132.8 989.7 1133.2 991.6 1133.6 990.2 1134.0 990.2 1134.3 990.4 1134.4 990.3 1134.8 990.1 1135.2 992.5 1135.6 993.0 1136.0 992.2 1136.4 994.0 1136.8 996.8 1137.2 995.2 1137.6 993.0 1138.0 1001.2 1138.4 995.6 1138.7 997.4 1138.8 994.6 1139.2 994.6 1139.6 998.6 1140.0 996.0 1140.4 999.0 1140.8 997.7 1141.2 997.7 1141.6 998.9 1142.0 998.9 1142.4 999.9 1142.8 995.5 1143.2 996.4 1143.6 998.6 1144.0 998.6 1144.4 996.4 1144.8 995.2 1145.2 997.0 1145.3 992.2 1145.6 994.1 1146.0 998.0 1146.4 993.2 1146.8 997.4 1147.2 993.1 1147.6 991.9 1148.0 994.4 1148.4 990.2 1148.8 987.0 1149.2 985.8 1149.6 985.1 1150.0 984.5 1150.3 985.0 1150.4 985.0 1150.8 985.3 1151.2 988.0 1151.6 988.4 1152.0 988.8 1152.4 992.5 1152.8 996.8 1153.2 999.9 1153.6 1004.6 1154.0 1002.6 1154.1 1004.4 1154.4 1006.0 1154.8 1006.3 1155.2 1006.7 1155.6 1005.2 1156.0 1007.2 1156.4 1012.0 1156.8 1009.5 1157.2 1009.8 1157.6 1008.7 1158.0 1011.7 1158.4 1014.9 1158.5 1011.4 1158.8 1011.5 1159.2 1013.9 1159.6 1014.3 1160.0 1015.1 1160.4 1020.7 1160.8 1019.7 1161.2 1017.3 1161.6 1020.5 1162.0 1023.2 1162.4 1022.2 1162.8 1024.8 1163.2 1022.5 1163.6 1025.8 1164.0 1025.4 1164.0 1026.4 1164.4 1025.8 1164.8 1025.2 1165.2 1027.2 1165.6 1027.7 1166.0 1028.3 1166.4 1025.3 1166.8 1027.0 1167.2 1027.6 1167.6 1027.8 1168.0 1027.9 1168.4 1028.8 1168.8 1031.0 1169.2 1031.8 1169.6 1031.2 1170.0 1030.4 1170.4 1024.6 1170.6 1028.8 1170.8 1030.9 1171.2 1028.8 1171.6 1032.3 1172.0 1029.7 1172.4 1031.2 1172.8 1030.5 1173.2 1031.8 1173.6 1029.3 1174.0 1031.4 1174.4 1030.7 1174.8 1030.5 1175.2 1029.9 1175.6 1034.3 1176.0 1031.2 1176.4 1034.3 1176.8 1033.2 1177.2 1034.4 1177.6 1033.8 1178.0 1034.0 1178.3 1032.2 1178.4 1038.5 1178.8 1036.2 1179.2 1036.4 1179.6 1031.6 1180.0 1034.3 1180.4 1034.6 1180.8 1036.4 1181.2 1035.3 1181.6 1037.7 1182.0 1037.2 1182.4 1038.7 1182.8 1039.5 1183.2 1036.7 1183.6 1037.3 1184.0 1037.1 1184.4 1040.1 1184.8 1038.9 1185.2 1038.5 1185.6 1037.4 1186.0 1040.1 1186.4 1039.6 1186.8 1039.9 1187.1 1039.1 1187.2 1037.4 1187.6 1041.7 1188.0 1039.7 1188.4 1040.0 1188.8 1038.4 1189.2 1041.6 1189.6 1038.1 1190.0 1038.5 1190.4 1037.7 1190.8 1037.2 1191.2 1040.1 1191.6 1037.9 1192.0 1036.8 1192.4 1038.0 1192.8 1037.6 1193.2 1037.9 1193.6 1036.6 1193.7 1037.9 1194.0 1034.5 1194.4 1034.5 1194.8 1035.3 1195.2 1033.4 1195.6 1026.7 1196.0 1027.5 1196.4 1024.1 1196.8 1023.4 1197.2 1017.4 1197.6 1017.6 1198.0 1016.2 1198.4 1014.3 1198.7 1014.5 1198.8 1014.6 1199.2 1015.3 1199.6 1018.2 1200.0 1020.2 1200.4 1020.9 1200.8 1026.6 1201.2 1030.3 1201.6 1031.7 1202.0 1036.4 1202.4 1034.1 1202.6 1036.3 1202.8 1036.0 1203.2 1035.4 1203.6 1034.6 1204.0 1033.8 1204.4 1035.2 1204.8 1037.0 1205.2 1036.4 1205.6 1037.2 1206.0 1037.1 1206.4 1036.8 1206.8 1037.9 1207.0 1038.9 1207.2 1035.1 1207.6 1037.6 1208.0 1034.0 1208.4 1039.3 1208.8 1033.4 1209.2 1033.2 1209.6 1034.1 1210.0 1032.4 1210.4 1032.2 1210.8 1031.6 1211.2 1029.1 1211.6 1029.6 1211.9 1028.9 1212.0 1028.9 1212.4 1029.8 1212.8 1028.0 1213.2 1030.6 1213.6 1032.7 1214.0 1036.0 1214.4 1035.1 1214.8 1039.1 1215.2 1037.2 1215.6 1041.2 1215.8 1041.0 1216.0 1039.1 1216.4 1039.6 1216.8 1039.9 1217.2 1039.8 1217.6 1039.6 1218.0 1042.9 1218.4 1041.5 1218.8 1041.7 1219.2 1038.6 1219.6 1041.1 1220.0 1043.0 1220.4 1041.6 1220.8 1040.7 1221.2 1041.4 1221.6 1042.9 1222.0 1041.4 1222.4 1038.4 1222.8 1040.6 1223.2 1042.1 1223.6 1039.4 1224.0 1041.9 1224.4 1042.7 1224.8 1045.5 1225.2 1044.3 1225.6 1042.6 1225.7 1039.2 1226.0 1042.5 1226.4 1039.7 1226.8 1040.3 1227.2 1043.8 1227.6 1040.8 1228.0 1043.1 1228.4 1042.3 1228.8 1043.5 1229.2 1041.7 1229.6 1041.8 1230.0 1044.5 1230.4 1043.1 1230.8 1042.6 1231.2 1042.0 1231.6 1042.9 1232.0 1041.9 1232.4 1043.0 1232.8 1041.9 1233.2 1039.3 1233.6 1039.4 1234.0 1041.0 1234.4 1045.3 1234.8 1044.3 1235.2 1041.4 1235.6 1040.8 1236.0 1041.3 1236.4 1041.7 1236.7 1044.0 1236.8 1041.2 1237.2 1039.6 1237.6 1041.1 1238.0 1039.8 1238.4 1043.9 1238.8 1040.9 1239.2 1040.9 1239.6 1040.3 1240.0 1036.8 1240.4 1039.7 1240.8 1039.6 1241.2 1037.5 1241.6 1038.1 1242.0 1036.4 1242.2 1036.4 1242.4 1037.4 1242.8 1034.2 1243.2 1033.9 1243.6 1031.5 1244.0 1029.7 1244.4 1027.7 1244.4 1027.3 1244.8 1027.6 1245.2 1028.7 1245.6 1026.6 1246.0 1027.2 1246.4 1024.7 1246.8 1021.7 1247.2 1025.7 1247.6 1023.4 1247.7 1024.7 1248.0 1023.9 1248.4 1023.4 1248.8 1023.0 1248.8 1023.0 1249.2 1023.6 1249.6 1024.2 1250.0 1025.9 1250.4 1027.6 1250.8 1028.0 1251.2 1030.0 1251.6 1028.0 1252.0 1031.7 1252.1 1032.9 1252.4 1033.7 1252.8 1032.5 1253.2 1032.3 1253.6 1035.6 1254.0 1037.9 1254.4 1039.4 1254.8 1042.4 1255.2 1042.4 1255.4 1039.4 1255.6 1041.7 1256.0 1040.3 1256.4 1042.4 1256.8 1040.3 1257.2 1043.6 1257.6 1040.8 1258.0 1041.2 1258.4 1040.4 1258.8 1043.3 1259.2 1042.2 1259.6 1042.9 1260.0 1043.5 1260.4 1041.0 1260.8 1045.1 1261.2 1043.8 1261.6 1043.1 1262.0 1042.8 1262.0 1042.4 1262.4 1042.1 1262.8 1044.5 1263.2 1043.5 1263.6 1043.2 1264.0 1042.5 1264.4 1043.8 1264.8 1046.9 1265.2 1044.4 1265.6 1040.6 1266.0 1040.2 1266.4 1045.2 1266.8 1041.9 1267.2 1044.7 1267.6 1045.3 1268.0 1045.6 1268.4 1047.8 1268.8 1044.1 1269.2 1045.2 1269.6 1044.0 1269.7 1042.9 1270.0 1043.9 1270.4 1047.6 1270.8 1047.8 1271.2 1044.4 1271.6 1047.2 1272.0 1045.8 1272.4 1047.7 1272.8 1045.1 1273.2 1047.3 1273.6 1047.3 1274.0 1045.9 1274.4 1046.6 1274.8 1046.9 1275.2 1048.0 1275.6 1050.9 1276.0 1050.9 1276.4 1051.2 1276.8 1049.7 1277.2 1050.5 1277.6 1047.5 1278.0 1049.3 1278.4 1051.1 1278.8 1050.0 1279.2 1048.4 1279.6 1050.2 1279.6 1049.8 1280.0 1049.7 1280.4 1048.5 1280.8 1050.4 1281.2 1048.9 1281.6 1047.8 1282.0 1048.8 1282.4 1049.6 1282.8 1050.6 1283.2 1050.0 1283.6 1045.1 1284.0 1049.4 1284.4 1048.3 1284.8 1047.9 1285.2 1049.1 1285.6 1049.3 1286.0 1047.4 1286.2 1046.0 1286.4 1045.2 1286.8 1046.0 1287.2 1045.9 1287.6 1043.6 1288.0 1047.0 1288.4 1046.1 1288.8 1044.5 1289.2 1045.5 1289.6 1043.2 1290.0 1041.7 1290.4 1041.9 1290.6 1041.7 1290.8 1041.8 1291.2 1041.6 1291.6 1044.5 1292.0 1042.3 1292.4 1044.6 1292.8 1048.1 1293.2 1048.0 1293.6 1052.1 1293.9 1049.6 1294.0 1050.6 1294.4 1051.3 1294.8 1049.5 1295.2 1050.1 1295.6 1046.2 1296.0 1052.1 1296.4 1048.8 1296.8 1047.9 1297.2 1047.0 1297.6 1048.0 1298.0 1046.4 1298.4 1047.3 1298.8 1045.6 1299.2 1044.0 1299.6 1044.6 1300.0 1044.2 1300.4 1045.7 1300.5 1045.2 1300.8 1043.9 1301.2 1044.7 1301.6 1042.6 1302.0 1042.9 1302.4 1041.9 1302.8 1042.3 1303.2 1039.7 1303.6 1040.3 1304.0 1040.0 1304.4 1039.0 1304.8 1039.5 1305.0 1039.5 1305.2 1039.7 1305.6 1039.2 1306.0 1038.9 1306.4 1038.8 1306.8 1042.5 1307.2 1042.3 1307.6 1042.6 1308.0 1045.5 1308.4 1047.4 1308.8 1049.7 1309.2 1049.1 1309.4 1046.2 1309.6 1049.6 1310.0 1046.2 1310.4 1048.1 1310.8 1048.8 1311.2 1045.3 1311.6 1047.9 1312.0 1047.9 1312.4 1051.3 1312.8 1046.9 1313.2 1049.1 1313.6 1047.7 1314.0 1048.1 1314.4 1046.5 1314.8 1049.6 1315.2 1050.1 1315.6 1050.0 1316.0 1045.5 1316.4 1045.2 1316.8 1048.1 1317.1 1050.1 1317.2 1049.6 1317.6 1048.0 1318.0 1047.3 1318.4 1051.1 1318.8 1050.8 1319.2 1047.4 1319.6 1048.5 1320.0 1048.5 1320.4 1052.0 1320.8 1049.8 1321.2 1050.5 1321.6 1047.4 1322.0 1049.3 1322.4 1048.7 1322.8 1049.2 1323.2 1049.6 1323.6 1048.9 1324.0 1047.4 1324.4 1051.0 1324.8 1047.7 1325.2 1048.0 1325.6 1046.4 1325.9 1050.0 1326.0 1049.6 1326.4 1048.5 1326.8 1048.3 1327.2 1050.2 1327.6 1049.7 1328.0 1048.8 1328.4 1051.5 1328.8 1052.5 1329.2 1052.0 1329.6 1053.1 1330.0 1052.5 1330.4 1054.9 1330.8 1054.3 1331.2 1052.6 1331.6 1055.2 1332.0 1054.4 1332.4 1053.3 1332.8 1053.2 1333.2 1054.1 1333.6 1051.6 1334.0 1053.6 1334.4 1054.1 1334.7 1052.4 1334.8 1053.5 1335.2 1053.3 1335.6 1052.4 1336.0 1054.7 1336.4 1055.2 1336.8 1055.4 1337.2 1056.6 1337.6 1054.5 1338.0 1054.0 1338.4 1054.7 1338.8 1056.6 1339.2 1057.1 1339.6 1053.7 1340.0 1055.1 1340.4 1054.2 1340.8 1055.3 1341.2 1050.4 1341.6 1053.6 1342.0 1051.2 1342.4 1049.1 1342.8 1054.7 1343.2 1052.5 1343.6 1056.0 1344.0 1055.2 1344.4 1055.8 1344.6 1055.1 1344.8 1053.0 1345.2 1054.3 1345.6 1051.2 1346.0 1051.6 1346.4 1054.2 1346.8 1056.2 1347.2 1053.5 1347.6 1051.3 1348.0 1052.9 1348.4 1053.9 1348.8 1054.2 1349.2 1052.9 1349.6 1053.6 1350.0 1052.8 1350.1 1052.7 1350.4 1052.6 1350.8 1054.5 1351.2 1052.2 1351.6 1052.3 1352.0 1051.4 1352.4 1053.3 1352.8 1050.2 1353.2 1053.9 1353.6 1050.5 1354.0 1054.2 1354.4 1050.9 1354.8 1051.2 1355.2 1052.1 1355.6 1053.7 1356.0 1053.1 1356.4 1051.9 1356.8 1053.3 1357.2 1054.5 1357.6 1050.8 1358.0 1055.7 1358.4 1053.7 1358.8 1049.5 1358.9 1054.0 1359.2 1053.4 1359.6 1053.0 1360.0 1053.2 1360.4 1053.1 1360.8 1055.0 1361.2 1054.1 1361.6 1054.8 1362.0 1053.4 1362.4 1055.9 1362.8 1053.5 1363.2 1054.7 1363.6 1053.5 1364.0 1053.6 1364.4 1055.2 1364.8 1055.2 1365.2 1053.9 1365.6 1054.0 1366.0 1053.2 1366.4 1054.8 1366.6 1054.4 1366.8 1055.0 1367.2 1053.0 1367.6 1050.8 1368.0 1049.7 1368.4 1045.2 1368.8 1043.4 1369.2 1040.7 1369.6 1038.4 1369.9 1034.3 1370.0 1033.9 1370.4 1032.0 1370.8 1027.7 1371.2 1025.2 1371.6 1021.4 1372.0 1018.1 1372.4 1014.4 1372.8 1013.7 1373.2 1013.0 1373.2 1012.5 1373.6 1010.8 1374.0 1010.7 1374.4 1011.8 1374.8 1008.7 1375.2 1007.2 1375.6 1009.2 1376.0 1007.0 1376.4 1007.2 1376.5 1007.0 1376.8 1006.8 1377.2 1008.1 1377.6 1009.6 1378.0 1011.5 1378.4 1013.8 1378.8 1017.8 1379.2 1020.0 1379.6 1024.2 1379.8 1022.9 1380.0 1024.5 1380.4 1029.0 1380.8 1031.7 1381.2 1035.3 1381.6 1040.5 1382.0 1042.2 1382.4 1045.1 1382.8 1048.2 1383.1 1050.6 1383.2 1051.2 1383.6 1048.7 1384.0 1049.9 1384.4 1051.6 1384.8 1051.8 1385.2 1050.5 1385.6 1053.4 1386.0 1051.8 1386.4 1052.3 1386.8 1051.6 1387.2 1054.5 1387.6 1054.5 1388.0 1052.6 1388.4 1054.9 1388.6 1054.5 1388.8 1054.0 1389.2 1052.9 1389.6 1054.2 1390.0 1051.8 1390.4 1052.0 1390.8 1052.3 1391.2 1053.5 1391.6 1054.5 1392.0 1049.5 1392.4 1052.1 1392.8 1051.0 1393.2 1052.8 1393.6 1049.8 1394.0 1054.6 1394.1 1050.9 1394.4 1053.8 1394.8 1049.4 1395.2 1051.9 1395.6 1053.3 1396.0 1052.3 1396.4 1048.0 1396.8 1047.5 1397.2 1046.5 1397.6 1049.2 1398.0 1045.8 1398.4 1050.1 1398.8 1048.2 1399.2 1047.9 1399.6 1047.2 1399.6 1047.2 1400.0 1047.3 1400.4 1046.3 1400.8 1046.0 1401.2 1048.3 1401.6 1047.8 1402.0 1048.8 1402.4 1047.4 1402.8 1050.7 1403.2 1052.3 1403.6 1051.2 1404.0 1050.2 1404.4 1052.6 1404.8 1052.8 1405.1 1052.1 1405.2 1050.2 1405.6 1048.7 1406.0 1054.8 1406.4 1052.8 1406.8 1051.6 1407.2 1051.2 1407.6 1048.7 1408.0 1054.2 1408.4 1052.5 1408.8 1053.2 1409.2 1052.7 1409.6 1052.8 1410.0 1053.9 1410.4 1051.1 1410.8 1052.2 1411.2 1054.2 1411.6 1055.2 1412.0 1054.1 1412.4 1054.3 1412.8 1052.2 1413.2 1052.6 1413.6 1054.1 1414.0 1053.9 1414.4 1053.5 1414.8 1053.8 1415.2 1051.2 1415.6 1051.3 1416.0 1054.8 1416.1 1053.8 1416.4 1052.6 1416.8 1054.3 1417.2 1059.4 1417.6 1052.8 1418.0 1054.4 1418.4 1053.7 1418.8 1052.9 1419.2 1052.6 1419.6 1055.6 1420.0 1053.0 1420.4 1051.0 1420.8 1056.6 1421.2 1052.8 1421.6 1055.0 1422.0 1054.3 1422.4 1053.3 1422.8 1056.6 1423.2 1052.3 1423.6 1054.3 1424.0 1054.5 1424.4 1051.4 1424.8 1052.5 1425.2 1055.1 1425.6 1057.1 1426.0 1054.9 1426.4 1050.1 1426.8 1055.6 1427.1 1051.2 1427.2 1052.4 1427.6 1053.6 1428.0 1053.8 1428.4 1052.9 1428.8 1052.3 1429.2 1056.0 1429.6 1049.3 1430.0 1051.5 1430.4 1052.0 1430.8 1050.8 1431.2 1046.3 1431.6 1050.4 1432.0 1049.6 1432.4 1045.5 1432.8 1045.1 1433.2 1047.8 1433.6 1045.4 1433.7 1043.4 1434.0 1045.4 1434.4 1042.8 1434.8 1042.0 1435.2 1039.8 1435.6 1043.3 1436.0 1040.9 1436.4 1040.1 1436.8 1040.4 1437.2 1042.0 1437.6 1040.1 1438.0 1041.4 1438.4 1039.3 1438.8 1041.0 1439.2 1041.6 1439.6 1038.7 1440.0 1038.4 1440.3 1035.7 1440.4 1037.5 1440.8 1041.0 1441.2 1039.3 1441.6 1035.5 1442.0 1036.4 1442.4 1036.9 1442.8 1038.0 1443.2 1038.0 1443.6 1037.7 1444.0 1038.4 1444.4 1037.7 1444.8 1036.7 1445.2 1038.0 1445.6 1033.3 1446.0 1036.0 1446.4 1037.2 1446.8 1038.3 1447.0 1038.2 1447.2 1039.3 1447.6 1039.0 1448.0 1037.3 1448.4 1037.0 1448.8 1037.5 1449.2 1035.5 1449.6 1035.4 1450.0 1036.2 1450.4 1033.9 1450.8 1035.7 1451.2 1035.6 1451.6 1037.3 1452.0 1032.8 1452.4 1033.6 1452.8 1036.3 1453.2 1033.3 1453.6 1034.5 1454.0 1033.5 1454.4 1034.4 1454.7 1034.0 1454.8 1033.9 1455.2 1033.6 1455.6 1035.2 1456.0 1034.3 1456.4 1031.4 1456.8 1037.0 1457.2 1032.1 1457.6 1035.1 1458.0 1036.4 1458.4 1034.3 1458.8 1034.2 1459.2 1033.5 1459.6 1033.3 1460.0 1040.3 1460.4 1038.2 1460.8 1038.9 1461.2 1034.3 1461.3 1036.3 1461.6 1035.3 1462.0 1039.3 1462.4 1041.7 1462.8 1038.5 1463.2 1039.2 1463.6 1043.5 1464.0 1040.3 1464.4 1044.0 1464.8 1042.9 1465.2 1045.6 1465.6 1044.0 1465.7 1042.4 1466.0 1045.5 1466.4 1043.1 1466.8 1046.6 1467.2 1049.3 1467.6 1048.6 1468.0 1044.5 1468.4 1044.4 1468.8 1043.1 1469.2 1045.8 1469.6 1045.3 1470.0 1046.3 1470.4 1051.3 1470.8 1048.9 1471.2 1048.7 1471.6 1047.6 1472.0 1049.1 1472.4 1049.8 1472.8 1049.4 1473.2 1050.7 1473.4 1050.9 1473.6 1048.4 1474.0 1047.9 1474.4 1051.9 1474.8 1047.6 1475.2 1050.6 1475.6 1050.6 1476.0 1053.0 1476.4 1049.3 1476.8 1048.2 1477.2 1053.1 1477.6 1049.4 1478.0 1047.2 1478.4 1048.9 1478.8 1051.1 1479.2 1053.2 1479.6 1052.1 1480.0 1051.2 1480.4 1050.2 1480.8 1051.6 1481.2 1052.6 1481.6 1050.3 1482.0 1052.0 1482.2 1054.4 1482.4 1051.3 1482.8 1051.1 1483.2 1051.1 1483.6 1051.8 1484.0 1050.4 1484.4 1052.7 1484.8 1051.9 1485.2 1052.3 1485.6 1050.4 1486.0 1052.3 1486.4 1053.5 1486.8 1050.4 1487.2 1050.2 1487.6 1050.5 1488.0 1050.0 1488.4 1050.4 1488.8 1050.5 1488.8 1050.5 1489.2 1050.4 1489.6 1050.1 1490.0 1049.4 1490.4 1051.9 1490.8 1049.2 1491.2 1050.6 1491.6 1050.8 1492.0 1048.0 1492.4 1050.3 1492.8 1051.4 1493.2 1047.3 1493.6 1048.7 1494.0 1050.9 1494.4 1050.5 1494.8 1051.6 1495.2 1052.9 1495.6 1051.2 1496.0 1051.8 1496.4 1051.7 1496.8 1047.9 1497.2 1050.8 1497.6 1051.2 1498.0 1053.1 1498.4 1051.0 1498.8 1052.7 1499.2 1052.9 1499.6 1050.0 1500.0 1049.3 1500.4 1054.0 1500.8 1051.0 1501.2 1054.0 1501.6 1052.6 1502.0 1053.7 1502.4 1049.5 1502.5 1056.1 1502.8 1048.3 1503.2 1050.6 1503.6 1053.4 1504.0 1054.8 1504.4 1054.2 1504.8 1054.6 1505.2 1051.6 1505.6 1054.1 1506.0 1055.8 1506.4 1051.1 1506.8 1052.1 1507.2 1054.4 1507.6 1056.4 1508.0 1055.5 1508.4 1052.7 1508.8 1053.7 1509.2 1054.1 1509.6 1052.4 1510.0 1058.2 1510.4 1054.3 1510.8 1054.2 1511.2 1052.5 1511.6 1055.7 1512.0 1055.4 1512.4 1057.6 1512.8 1057.1 1513.2 1055.6 1513.6 1056.8 1514.0 1059.0 1514.4 1054.8 1514.8 1055.3 1515.2 1057.2 1515.6 1055.0 1515.7 1056.8 1516.0 1054.3 1516.4 1057.3 1516.8 1057.1 1517.2 1055.0 1517.6 1053.9 1518.0 1056.4 1518.4 1056.0 1518.8 1053.7 1519.2 1057.5 1519.6 1054.6 1520.0 1058.1 1520.4 1057.8 1520.8 1056.0 1521.2 1056.7 1521.6 1053.2 1522.0 1055.5 1522.4 1056.3 1522.8 1053.2 1523.2 1052.8 1523.6 1057.6 1524.0 1055.6 1524.4 1057.2 1524.8 1056.4 1525.2 1050.2 1525.6 1052.8 1526.0 1054.2 1526.4 1054.4 1526.8 1054.4 1527.2 1053.0 1527.6 1053.8 1528.0 1052.1 1528.4 1055.7 1528.8 1051.9 1528.9 1052.5 1529.2 1054.7 1529.6 1052.0 1530.0 1052.6 1530.4 1050.3 1530.8 1050.9 1531.2 1050.8 1531.6 1046.8 1532.0 1045.6 1532.4 1045.4 1532.8 1047.6 1533.2 1046.1 1533.6 1045.6 1534.0 1045.7 1534.2 1042.2 1534.4 1041.1 1534.8 1041.0 1535.2 1040.2 1535.6 1040.1 1536.0 1037.1 1536.4 1036.3 1536.8 1033.1 1537.2 1030.2 1537.6 1034.0 1538.0 1030.9 1538.4 1030.0 1538.8 1030.0 1538.8 1030.0 1539.2 1030.0 1539.6 1030.3 1540.0 1030.6 1540.4 1032.0 1540.8 1030.6 1541.2 1037.3 1541.6 1036.7 1542.0 1036.7 1542.4 1041.4 1542.8 1040.4 1543.2 1044.6 1543.4 1042.5 1543.6 1043.3 1544.0 1045.1 1544.4 1046.9 1544.8 1046.4 1545.2 1047.8 1545.6 1050.4 1546.0 1048.2 1546.4 1047.7 1546.8 1052.8 1547.2 1053.6 1547.4 1055.3 1547.6 1053.2 1548.0 1055.2 1548.4 1055.6 1548.8 1053.6 1549.2 1052.4 1549.6 1051.9 1550.0 1053.1 1550.4 1051.1 1550.8 1053.8 1551.2 1054.7 1551.6 1052.4 1552.0 1055.0 1552.4 1052.0 1552.8 1053.5 1553.2 1053.8 1553.6 1050.3 1554.0 1053.0 1554.4 1054.9 1554.8 1055.3 1555.2 1055.4 1555.6 1052.3 1556.0 1053.6 1556.4 1050.9 1556.8 1054.5 1557.2 1053.4 1557.6 1054.8 1558.0 1051.3 1558.4 1055.6 1558.8 1053.5 1559.2 1051.3 1559.3 1054.6 1559.6 1056.8 1560.0 1053.5 1560.4 1052.9 1560.8 1049.2 1561.2 1050.6 1561.6 1051.5 1562.0 1049.2 1562.4 1047.2 1562.8 1045.0 1563.2 1047.8 1563.6 1042.5 1564.0 1039.3 1564.4 1040.9 1564.5 1039.7 1564.8 1038.4 1565.2 1035.9 1565.6 1033.6 1566.0 1030.8 1566.4 1031.8 1566.8 1026.2 1567.2 1024.0 1567.6 1023.8 1568.0 1022.9 1568.4 1021.2 1568.5 1019.9 1568.8 1018.7 1569.2 1019.2 1569.6 1017.6 1570.0 1017.3 1570.4 1018.6 1570.8 1016.5 1571.2 1017.3 1571.6 1015.3 1572.0 1015.4 1572.4 1015.5 1572.5 1015.5 1572.8 1015.2 1573.2 1015.1 1573.6 1018.5 1574.0 1017.5 1574.4 1017.0 1574.8 1016.2 1575.2 1018.9 1575.6 1022.6 1576.0 1024.2 1576.4 1021.4 1576.8 1024.4 1577.2 1026.5 1577.6 1027.7 1577.8 1027.3 1578.0 1027.5 1578.4 1029.1 1578.8 1028.6 1579.2 1031.1 1579.6 1032.9 1580.0 1032.3 1580.4 1036.1 1580.8 1036.6 1581.2 1035.3 1581.6 1036.4 1582.0 1038.5 1582.4 1039.7 1582.8 1040.6 1583.0 1040.5 1583.2 1040.3 1583.6 1044.9 1584.0 1045.0 1584.4 1043.5 1584.8 1044.2 1585.2 1045.1 1585.6 1046.5 1586.0 1045.9 1586.4 1047.8 1586.8 1043.5 1587.2 1046.0 1587.6 1046.5 1588.0 1045.5 1588.4 1047.9 1588.8 1048.1 1589.2 1048.0 1589.6 1048.1 1590.0 1051.0 1590.4 1049.0 1590.8 1051.5 1591.0 1049.4 1591.2 1051.1 1591.6 1048.9 1592.0 1048.5 1592.4 1052.2 1592.8 1051.6 1593.2 1055.5 1593.6 1053.1 1594.0 1053.0 1594.4 1052.9 1594.8 1051.9 1595.2 1053.7 1595.6 1052.3 1596.0 1053.9 1596.4 1052.2 1596.8 1055.2 1597.2 1053.5 1597.6 1053.0 1598.0 1054.2 1598.4 1052.7 1598.8 1050.6 1598.9 1053.1 1599.2 1054.9 1599.6 1052.2 1600.0 1054.6 1600.4 1054.4 1600.8 1053.8 1601.2 1050.0 1601.6 1056.9 1602.0 1054.6 1602.4 1052.2 1602.8 1050.4 1603.2 1049.8 1603.6 1048.6 1604.0 1050.3 1604.4 1052.4 1604.8 1048.3 1605.2 1049.8 1605.6 1051.1 1606.0 1051.3 1606.4 1049.9 1606.8 1048.9 1607.2 1050.0 1607.5 1049.4 1607.6 1049.5 1608.0 1050.1 1608.4 1049.2 1608.8 1048.7 1609.2 1049.0 1609.6 1053.7 1610.0 1052.7 1610.4 1050.5 1610.8 1051.4 1611.2 1054.0 1611.6 1052.5 1612.0 1054.8 1612.4 1055.9 1612.8 1056.2 1613.2 1057.7 1613.4 1058.7 1613.6 1056.1 1614.0 1056.3 1614.4 1058.5 1614.8 1056.4 1615.2 1056.0 1615.6 1056.9 1616.0 1055.6 1616.4 1054.9 1616.8 1056.6 1617.2 1053.9 1617.6 1054.0 1618.0 1054.5 1618.4 1055.4 1618.8 1051.2 1619.2 1055.5 1619.6 1054.6 1620.0 1051.3 1620.4 1054.2 1620.8 1051.6 1621.2 1054.4 1621.6 1052.2 1622.0 1052.5 1622.4 1051.7 1622.7 1052.1 1622.8 1052.1 1623.2 1052.5 1623.6 1051.8 1624.0 1053.2 1624.4 1056.6 1624.8 1053.0 1625.2 1055.1 1625.6 1053.0 1626.0 1055.4 1626.4 1052.6 1626.8 1056.9 1627.2 1054.4 1627.6 1054.1 1628.0 1054.4 1628.4 1054.9 1628.8 1056.9 1629.2 1056.4 1629.3 1057.5 1629.6 1057.0 1630.0 1055.1 1630.4 1055.4 1630.8 1057.5 1631.2 1058.0 1631.6 1057.2 1632.0 1056.6 1632.4 1053.3 1632.8 1051.1 1633.2 1056.2 1633.6 1053.7 1634.0 1052.1 1634.4 1053.1 1634.8 1054.2 1635.2 1052.4 1635.6 1051.1 1636.0 1052.1 1636.4 1053.0 1636.8 1052.5 1637.2 1052.1 1637.2 1052.1 1637.6 1052.1 1638.0 1053.1 1638.4 1049.4 1638.8 1052.0 1639.2 1051.4 1639.6 1052.0 1640.0 1050.7 1640.4 1051.9 1640.8 1051.0 1641.2 1053.7 1641.6 1057.8 1642.0 1053.2 1642.4 1052.5 1642.8 1059.0 1643.2 1053.4 1643.6 1053.2 1644.0 1055.2 1644.4 1052.3 1644.8 1053.7 1645.2 1051.8 1645.6 1055.1 1646.0 1053.1 1646.4 1053.2 1646.8 1053.5 1647.2 1056.1 1647.6 1053.9 1648.0 1054.3 1648.4 1055.7 1648.8 1057.0 1649.1 1050.9 1649.2 1056.2 1649.6 1056.4 1650.0 1056.5 1650.4 1055.7 1650.8 1053.4 1651.2 1055.4 1651.6 1055.1 1652.0 1055.1 1652.4 1054.4 1652.8 1054.3 1653.2 1051.1 1653.6 1055.2 1654.0 1056.2 1654.4 1056.6 1654.8 1057.4 1655.2 1056.8 1655.6 1054.3 1656.0 1056.0 1656.4 1054.1 1656.8 1056.8 1657.2 1054.2 1657.6 1057.4 1658.0 1052.9 1658.3 1055.5 1658.4 1055.3 1658.8 1053.7 1659.2 1053.2 1659.6 1052.6 1660.0 1054.8 1660.4 1051.1 1660.8 1049.1 1661.2 1048.0 1661.6 1049.9 1662.0 1046.5 1662.4 1049.7 1662.8 1048.6 1663.2 1044.6 1663.6 1042.3 1664.0 1043.9 1664.4 1040.1 1664.8 1042.4 1664.9 1041.5 1665.2 1040.3 1665.6 1038.7 1666.0 1040.0 1666.4 1039.0 1666.8 1039.3 1667.2 1038.3 1667.6 1040.9 1668.0 1035.6 1668.4 1035.6 1668.8 1038.5 1669.2 1037.4 1669.6 1034.6 1670.0 1037.4 1670.2 1036.3 1670.4 1031.5 1670.8 1038.0 1671.2 1033.9 1671.6 1032.7 1672.0 1031.6 1672.4 1028.9 1672.8 1029.1 1673.2 1031.0 1673.6 1027.8 1674.0 1028.1 1674.4 1026.8 1674.8 1027.5 1674.8 1027.5 1675.2 1027.7 1675.6 1027.9 1676.0 1028.5 1676.4 1029.1 1676.8 1032.7 1677.2 1033.9 1677.6 1032.8 1678.0 1035.2 1678.4 1034.5 1678.8 1035.6 1679.2 1037.4 1679.5 1040.7 1679.6 1034.6 1680.0 1038.7 1680.4 1041.8 1680.8 1043.1 1681.2 1043.3 1681.6 1043.0 1682.0 1046.3 1682.4 1048.1 1682.8 1049.5 1683.2 1049.2 1683.6 1048.9 1684.0 1050.8 1684.4 1052.2 1684.8 1050.8 1684.8 1050.8 1685.2 1048.7 1685.6 1053.2 1686.0 1051.3 1686.4 1047.9 1686.8 1052.2 1687.2 1054.1 1687.6 1047.7 1688.0 1054.5 1688.4 1051.8 1688.8 1053.1 1689.2 1050.2 1689.6 1052.8 1690.0 1052.0 1690.4 1052.9 1690.8 1050.2 1691.2 1050.8 1691.6 1049.8 1692.0 1055.7 1692.4 1053.7 1692.8 1052.1 1693.2 1052.6 1693.6 1051.0 1694.0 1052.0 1694.4 1053.2 1694.8 1049.9 1695.2 1049.8 1695.6 1050.7 1696.0 1051.5 1696.4 1055.0 1696.8 1053.1 1697.2 1052.7 1697.6 1054.7 1698.0 1054.3 1698.0 1053.9 1698.4 1053.7 1698.8 1054.0 1699.2 1050.5 1699.6 1055.7 1700.0 1055.0 1700.4 1055.7 1700.8 1055.7 1701.2 1054.5 1701.6 1055.3 1702.0 1052.9 1702.4 1056.4 1702.8 1056.1 1703.2 1054.7 1703.6 1053.8 1704.0 1055.0 1704.4 1051.5 1704.8 1054.0 1705.2 1059.3 1705.6 1054.6 1706.0 1053.9 1706.4 1055.0 1706.8 1053.8 1707.2 1052.8 1707.6 1056.1 1708.0 1052.4 1708.4 1055.7 1708.8 1055.1 1709.2 1055.2 1709.6 1056.0 1710.0 1055.2 1710.4 1058.5 1710.8 1055.9 1711.2 1059.5 1711.2 1055.6 1711.6 1055.9 1712.0 1055.5 1712.4 1053.3 1712.8 1053.6 1713.2 1060.1 1713.6 1057.3 1714.0 1056.3 1714.4 1060.2 1714.8 1059.0 1715.2 1059.7 1715.6 1057.2 1716.0 1057.3 1716.4 1059.8 1716.8 1056.2 1717.2 1055.0 1717.6 1059.2 1718.0 1058.8 1718.4 1058.5 1718.8 1057.8 1719.2 1060.2 1719.6 1056.8 1720.0 1057.8 1720.4 1059.5 1720.8 1058.3 1721.2 1059.4 1721.6 1057.3 1722.0 1058.3 1722.4 1061.0 1722.8 1058.9 1723.2 1062.1 1723.6 1062.1 1724.0 1058.3 1724.4 1058.5 1724.4 1060.4 1724.8 1060.3 1725.2 1060.3 1725.6 1061.0 1726.0 1058.2 1726.4 1062.7 1726.8 1059.4 1727.2 1058.5 1727.6 1058.3 1728.0 1062.4 1728.4 1063.9 1728.8 1061.1 1729.2 1060.8 1729.6 1059.7 1730.0 1057.9 1730.4 1059.5 1730.8 1056.4 1731.2 1059.1 1731.6 1063.1 1732.0 1058.1 1732.4 1063.3 1732.8 1058.8 1733.2 1057.1 1733.6 1060.1 1734.0 1059.6 1734.4 1061.0 1734.8 1060.0 1735.2 1056.4 1735.6 1058.6 1736.0 1059.7 1736.4 1058.3 1736.8 1061.5 1737.2 1061.6 1737.6 1057.7 1737.6 1058.6 1738.0 1057.6 1738.4 1060.5 1738.8 1060.4 1739.2 1055.2 1739.6 1056.4 1740.0 1059.6 1740.4 1055.5 1740.8 1058.2 1741.2 1058.3 1741.6 1056.5 1742.0 1060.4 1742.4 1058.8 1742.8 1056.4 1743.2 1058.2 1743.6 1055.8 1744.0 1057.4 1744.4 1057.6 1744.8 1055.8 1745.2 1052.7 1745.6 1052.0 1746.0 1055.9 1746.4 1055.3 1746.8 1055.4 1747.2 1054.0 1747.6 1050.9 1748.0 1051.4 1748.4 1053.4 1748.8 1055.7 1749.2 1051.9 1749.6 1056.1 1750.0 1048.4 1750.4 1049.1 1750.8 1050.6 1750.8 1052.9 1751.2 1049.6 1751.6 1049.4 1752.0 1048.3 1752.4 1050.7 1752.8 1051.3 1753.2 1052.1 1753.6 1047.7 1754.0 1049.1 1754.4 1047.2 1754.8 1051.2 1755.2 1046.6 1755.6 1049.2 1756.0 1047.7 1756.4 1043.4 1756.8 1047.2 1757.2 1047.4 1757.6 1043.3 1758.0 1046.5 1758.4 1044.2 1758.8 1046.1 1759.2 1045.2 1759.6 1042.5 1760.0 1044.2 1760.4 1043.3 1760.8 1043.7 1761.2 1041.7 1761.6 1044.3 1762.0 1042.9 1762.4 1042.9 1762.7 1042.8 1762.8 1042.8 1763.2 1042.8 1763.6 1041.6 1764.0 1043.6 1764.4 1043.7 1764.8 1045.3 1765.2 1045.2 1765.6 1047.1 1766.0 1043.9 1766.4 1048.8 1766.8 1048.9 1767.2 1048.1 1767.6 1048.0 1768.0 1045.9 1768.4 1047.9 1768.8 1045.6 1769.2 1047.9 1769.6 1049.0 1770.0 1050.1 1770.4 1052.2 1770.6 1045.9 1770.8 1046.1 1771.2 1048.5 1771.6 1048.9 1772.0 1047.5 1772.4 1049.8 1772.8 1049.8 1773.2 1051.2 1773.6 1049.1 1774.0 1050.2 1774.4 1056.7 1774.8 1049.7 1775.2 1052.7 1775.6 1051.6 1776.0 1047.0 1776.4 1048.9 1776.8 1048.3 1777.2 1051.9 1777.6 1049.9 1778.0 1050.1 1778.4 1050.4 1778.5 1053.1 1778.8 1050.4 1779.2 1050.0 1779.6 1052.3 1780.0 1050.6 1780.4 1051.7 1780.8 1053.1 1781.2 1053.4 1781.6 1053.2 1782.0 1050.4 1782.4 1049.2 1782.8 1053.2 1783.2 1056.3 1783.6 1053.2 1784.0 1053.7 1784.4 1055.2 1784.8 1054.1 1785.2 1057.0 1785.6 1056.4 1786.0 1051.1 1786.0 1054.8 1786.4 1055.3 1786.8 1054.1 1787.2 1055.6 1787.6 1053.1 1788.0 1054.5 1788.4 1053.5 1788.8 1053.4 1789.2 1056.1 1789.6 1054.7 1790.0 1054.4 1790.4 1054.8 1790.8 1056.1 1791.2 1052.3 1791.6 1055.0 1792.0 1055.8 1792.4 1052.9 1792.8 1053.4 1793.2 1054.7 1793.6 1051.8 1794.0 1052.9 1794.4 1050.6 1794.8 1053.7 1795.2 1053.2 1795.6 1050.1 1796.0 1049.6 1796.4 1050.9 1796.8 1049.6 1797.2 1048.5 1797.6 1049.0 1798.0 1050.4 1798.4 1049.0 1798.8 1047.7 1799.2 1047.7 1799.6 1051.3 1800.0 1049.2 1800.4 1049.7 1800.8 1049.6 1800.8 1049.6 1801.2 1049.5 1801.6 1050.9 1802.0 1046.3 1802.4 1051.5 1802.8 1048.3 1803.2 1050.7 1803.6 1049.9 1804.0 1052.6 1804.4 1050.5 1804.8 1050.1 1805.2 1049.5 1805.6 1048.9 1806.0 1048.6 1806.4 1049.7 1806.8 1048.3 1807.2 1049.3 1807.6 1049.1 1808.0 1049.0 1808.4 1049.5 1808.8 1050.5 1809.2 1049.6 1809.6 1051.5 1810.0 1051.7 1810.4 1048.7 1810.8 1051.1 1811.2 1049.9 1811.6 1050.0 1812.0 1052.0 1812.4 1051.2 1812.8 1051.2 1813.2 1052.3 1813.6 1053.4 1814.0 1053.9 1814.4 1050.6 1814.8 1053.0 1815.2 1050.6 1815.6 1047.3 1816.0 1049.6 1816.4 1052.3 1816.8 1054.1 1817.2 1053.7 1817.6 1054.1 1818.0 1054.1 1818.4 1049.3 1818.8 1052.1 1819.2 1051.7 1819.3 1053.1 1819.6 1055.0 1820.0 1055.2 1820.4 1056.2 1820.8 1053.3 1821.2 1052.4 1821.6 1054.4 1822.0 1053.8 1822.4 1056.3 1822.8 1052.1 1823.2 1057.0 1823.6 1056.3 1824.0 1055.3 1824.4 1052.4 1824.8 1052.9 1825.2 1051.3 1825.6 1055.7 1826.0 1055.2 1826.4 1052.6 1826.8 1056.3 1827.2 1054.9 1827.6 1054.3 1828.0 1054.1 1828.4 1055.9 1828.8 1053.5 1829.2 1053.4 1829.6 1056.4 1830.0 1051.6 1830.4 1053.6 1830.8 1054.4 1831.2 1057.4 1831.6 1055.8 1831.7 1053.3 1832.0 1057.1 1832.4 1052.9 1832.8 1054.6 1833.2 1052.9 1833.6 1056.3 1834.0 1055.5 1834.4 1052.9 1834.8 1054.4 1835.2 1055.5 1835.6 1058.0 1836.0 1058.4 1836.4 1056.6 1836.8 1059.1 1837.2 1055.5 1837.6 1055.8 1838.0 1056.9 1838.4 1056.6 1838.8 1057.2 1839.2 1057.7 1839.6 1060.2 1840.0 1057.3 1840.4 1059.2 1840.8 1060.2 1841.2 1061.7 1841.6 1061.3 1842.0 1061.1 1842.4 1061.2 1842.8 1060.2 1843.2 1060.1 1843.6 1060.1 1844.0 1064.7 1844.0 1058.8 1844.4 1061.2 1844.8 1060.4 1845.2 1061.4 1845.6 1064.0 1846.0 1059.8 1846.4 1056.1 1846.8 1059.0 1847.2 1061.6 1847.6 1060.0 1848.0 1061.3 1848.4 1060.1 1848.8 1064.1 1849.2 1059.7 1849.6 1061.5 1850.0 1065.6 1850.4 1062.5 1850.8 1061.4 1851.2 1064.8 1851.6 1060.4 1852.0 1063.8 1852.4 1061.4 1852.8 1062.6 1853.2 1063.1 1853.6 1061.5 1854.0 1060.7 1854.4 1062.0 1854.8 1065.9 1855.2 1060.8 1855.6 1063.5 1856.0 1063.2 1856.4 1065.4 1856.8 1060.5 1857.2 1062.1 1857.6 1061.8 1858.0 1059.3 1858.4 1061.2 1858.8 1063.9 1858.8 1063.7 1859.2 1062.8 1859.6 1060.5 1860.0 1063.5 1860.4 1064.3 1860.8 1062.0 1861.2 1063.4 1861.6 1061.6 1862.0 1062.3 1862.4 1060.7 1862.8 1059.6 1863.2 1059.8 1863.6 1061.5 1864.0 1059.1 1864.4 1063.3 1864.8 1059.5 1865.2 1057.9 1865.6 1058.1 1866.0 1058.1 1866.4 1056.1 1866.8 1058.1 1867.2 1057.6 1867.6 1056.3 1868.0 1059.5 1868.4 1056.6 1868.8 1057.2 1869.2 1056.6 1869.6 1057.2 1869.9 1057.0 1870.0 1056.9 1870.4 1057.5 1870.8 1057.6 1871.2 1059.7 1871.6 1056.9 1872.0 1057.6 1872.4 1057.8 1872.8 1057.7 1873.2 1057.9 1873.6 1057.2 1874.0 1060.6 1874.4 1058.5 1874.8 1062.7 1875.2 1060.5 1875.6 1058.7 1876.0 1060.2 1876.4 1060.9 1876.8 1060.9 1877.2 1059.9 1877.6 1064.0 1878.0 1062.0 1878.4 1062.5 1878.8 1061.0 1879.2 1061.9 1879.6 1063.9 1880.0 1064.4 1880.4 1063.1 1880.8 1064.3 1881.0 1064.0 1881.2 1060.1 1881.6 1062.9 1882.0 1061.7 1882.4 1064.3 1882.8 1063.7 1883.2 1059.5 1883.6 1063.2 1884.0 1061.1 1884.4 1062.0 1884.8 1062.8 1885.2 1062.4 1885.6 1061.0 1886.0 1062.7 1886.4 1059.7 1886.8 1058.9 1887.2 1054.9 1887.6 1054.9 1888.0 1056.1 1888.4 1057.7 1888.8 1057.2 1889.2 1055.1 1889.6 1055.5 1890.0 1056.2 1890.4 1055.9 1890.8 1055.8 1890.8 1055.8 1891.2 1055.8 1891.6 1056.2 1892.0 1057.2 1892.4 1055.4 1892.8 1058.9 1893.2 1059.5 1893.6 1057.0 1894.0 1055.5 1894.4 1058.5 1894.8 1056.5 1895.2 1056.8 1895.6 1058.0 1896.0 1059.9 1896.4 1058.1 1896.8 1062.1 1897.2 1056.1 1897.6 1056.5 1898.0 1057.4 1898.4 1058.7 1898.8 1060.9 1899.2 1058.6 1899.6 1060.8 1900.0 1059.0 1900.4 1056.0 1900.7 1060.8 1900.8 1059.8 1901.2 1060.7 1901.6 1061.5 1902.0 1062.0 1902.4 1060.7 1902.8 1060.5 1903.2 1061.0 1903.6 1061.3 1904.0 1063.0 1904.4 1062.2 1904.8 1062.0 1905.2 1059.9 1905.6 1060.8 1906.0 1064.8 1906.4 1062.9 1906.8 1064.2 1907.2 1065.5 1907.6 1061.7 1908.0 1064.3 1908.4 1061.1 1908.8 1064.9 1909.2 1066.1 1909.6 1068.5 1910.0 1064.9 1910.4 1063.5 1910.8 1066.0 1911.2 1065.5 1911.6 1067.8 1911.8 1065.4 1912.0 1066.4 1912.4 1061.9 1912.8 1065.1 1913.2 1067.4 1913.6 1066.2 1914.0 1066.0 1914.4 1065.6 1914.8 1068.1 1915.2 1065.2 1915.6 1066.7 1916.0 1064.4 1916.4 1067.4 1916.8 1066.2 1917.2 1065.0 1917.6 1068.1 1918.0 1066.8 1918.4 1065.7 1918.8 1066.2 1919.2 1065.3 1919.6 1064.0 1920.0 1065.4 1920.4 1067.4 1920.8 1063.6 1921.2 1064.3 1921.6 1066.0 1922.0 1063.0 1922.4 1064.0 1922.8 1064.6 1923.2 1066.3 1923.6 1063.7 1924.0 1063.0 1924.4 1064.2 1924.8 1066.5 1925.2 1063.4 1925.6 1062.9 1926.0 1064.8 1926.4 1064.4 1926.8 1065.5 1927.2 1064.4 1927.6 1064.9 1928.0 1066.1 1928.4 1062.7 1928.8 1066.2 1929.2 1063.2 1929.6 1064.4 1930.0 1065.2 1930.3 1064.4 1930.4 1064.3 1930.8 1064.3 1931.2 1064.1 1931.6 1065.4 1932.0 1066.5 1932.4 1064.8 1932.8 1060.3 1933.2 1065.1 1933.6 1066.0 1934.0 1064.0 1934.4 1065.8 1934.8 1063.9 1935.2 1066.2 1935.6 1060.0 1936.0 1062.6 1936.4 1063.6 1936.8 1065.1 1937.2 1065.7 1937.6 1066.4 1938.0 1066.8 1938.4 1064.0 1938.8 1064.0 1939.2 1066.2 1939.6 1066.1 1940.0 1067.0 1940.4 1064.3 1940.8 1065.7 1941.2 1065.1 1941.6 1068.4 1942.0 1067.4 1942.4 1068.0 1942.8 1068.3 1943.2 1070.1 1943.6 1065.6 1944.0 1065.3 1944.4 1068.1 1944.8 1068.0 1945.1 1067.5 1945.2 1064.9 1945.6 1066.7 1946.0 1069.6 1946.4 1066.5 1946.8 1070.3 1947.2 1068.6 1947.6 1071.5 1948.0 1067.9 1948.4 1069.4 1948.8 1067.8 1949.2 1065.6 1949.6 1069.5 1950.0 1068.2 1950.4 1067.4 1950.8 1069.2 1951.2 1071.2 1951.6 1068.6 1952.0 1069.2 1952.4 1069.3 1952.8 1068.8 1953.2 1073.9 1953.6 1067.3 1954.0 1072.2 1954.4 1069.0 1954.8 1069.0 1955.2 1066.9 1955.6 1068.9 1956.0 1071.1 1956.4 1070.3 1956.8 1069.6 1957.2 1068.5 1957.6 1068.4 1958.0 1069.3 1958.4 1069.8 1958.8 1070.0 1959.2 1070.8 1959.6 1067.7 1960.0 1067.7 1960.4 1070.0 1960.8 1068.4 1961.1 1070.3 1961.2 1068.8 1961.6 1068.2 1962.0 1070.8 1962.4 1067.7 1962.8 1071.3 1963.2 1066.1 1963.6 1069.4 1964.0 1070.7 1964.4 1068.9 1964.8 1071.6 1965.2 1069.7 1965.6 1068.8 1966.0 1068.6 1966.4 1070.8 1966.8 1071.1 1967.2 1067.1 1967.6 1068.7 1968.0 1066.9 1968.4 1069.1 1968.8 1068.8 1969.2 1070.8 1969.6 1070.3 1970.0 1067.0 1970.4 1067.8 1970.8 1067.8 1971.2 1068.0 1971.6 1066.9 1972.0 1067.9 1972.4 1069.3 1972.8 1070.4 1973.2 1067.9 1973.6 1070.1 1974.0 1072.2 1974.4 1067.3 1974.8 1068.0 1975.2 1067.5 1975.6 1069.7 1976.0 1071.6 1976.4 1067.8 1976.8 1070.0 1977.2 1069.4 1977.6 1068.8 1978.0 1067.6 1978.4 1069.7 1978.8 1068.5 1979.2 1068.0 1979.6 1067.7 1979.6 1068.7 1980.0 1068.8 1980.4 1070.0 1980.8 1068.5 1981.2 1070.0 1981.6 1067.7 1982.0 1070.6 1982.4 1070.9 1982.8 1070.2 1983.2 1066.0 1983.6 1073.2 1984.0 1067.0 1984.4 1067.5 1984.8 1069.4 1985.2 1066.9 1985.6 1069.3 1986.0 1070.4 1986.4 1068.3 1986.8 1066.4 1987.2 1067.6 1987.6 1069.5 1988.0 1066.9 1988.4 1068.5 1988.8 1066.3 1989.2 1067.8 1989.6 1071.5 1990.0 1067.4 1990.4 1068.6 1990.8 1067.6 1991.2 1067.9 1991.6 1069.2 1992.0 1068.7 1992.0 1068.7 1992.4 1068.2 1992.8 1067.8 1993.2 1068.8 1993.6 1068.7 1994.0 1069.7 1994.4 1069.3 1994.8 1066.5 1995.2 1069.7 1995.6 1069.5 1996.0 1069.1 1996.4 1068.6 1996.8 1069.5 1997.2 1069.8 1997.6 1068.9 1998.0 1069.4 1998.4 1068.7 1998.8 1069.4 1999.2 1068.5 1999.6 1069.8 2000.0 1071.9 2000.4 1068.5 2000.8 1065.3 2001.2 1067.3 2001.6 1071.6 2002.0 1068.3 2002.4 1071.9 2002.8 1071.8 2003.2 1071.1 2003.6 1068.2 2004.0 1068.1 2004.4 1068.4 2004.8 1069.0 2005.2 1070.2 2005.6 1072.0 2006.0 1071.6 2006.4 1072.3 2006.8 1068.5 2007.2 1072.6 2007.6 1070.9 2008.0 1070.6 2008.4 1069.8 2008.8 1069.8 2009.2 1072.9 2009.6 1071.3 2010.0 1071.6 2010.4 1069.5 2010.4 1072.6 2010.8 1071.3 2011.2 1067.6 2011.6 1070.8 2012.0 1070.7 2012.4 1070.4 2012.8 1070.3 2013.2 1070.3 2013.6 1071.3 2014.0 1069.1 2014.4 1071.2 2014.8 1072.1 2015.2 1073.0 2015.6 1070.5 2016.0 1070.9 2016.4 1072.2 2016.8 1074.1 2017.2 1072.4 2017.6 1073.9 2018.0 1069.6 2018.4 1070.0 2018.8 1073.6 2019.2 1068.8 2019.6 1072.6 2020.0 1074.4 2020.4 1071.6 2020.8 1071.6 2021.2 1072.5 2021.6 1071.7 2022.0 1070.5 2022.4 1071.2 2022.8 1073.0 2023.2 1073.2 2023.6 1072.7 2024.0 1070.1 2024.4 1073.0 2024.8 1072.9 2025.2 1071.3 2025.6 1071.9 2026.0 1070.5 2026.4 1074.0 2026.8 1073.3 2027.2 1071.3 2027.6 1072.2 2028.0 1069.8 2028.4 1071.6 2028.8 1075.3 2028.9 1073.0 2029.2 1074.1 2029.6 1073.3 2030.0 1070.7 2030.4 1074.5 2030.8 1073.0 2031.2 1074.3 2031.6 1074.5 2032.0 1072.1 2032.4 1068.9 2032.8 1074.0 2033.2 1074.8 2033.6 1074.4 2034.0 1074.0 2034.4 1071.0 2034.8 1070.2 2035.2 1073.0 2035.6 1073.6 2036.0 1072.4 2036.4 1073.1 2036.8 1073.7 2037.2 1071.2 2037.6 1072.9 2038.0 1071.5 2038.4 1072.3 2038.8 1071.9 2039.2 1071.8 2039.6 1075.5 2040.0 1069.7 2040.4 1071.7 2040.5 1072.4" fill="none" stroke="#FF0000" stroke-width="7" stroke-linejoin="round" stroke-linecap="round" shape-rendering="crispEdges"/>
<path d="M627.6 869.8 628.0 866.1 628.4 864.1 628.8 859.5 629.2 860.6 629.6 859.0 630.0 857.9 630.4 855.5 630.8 855.0 631.2 852.8 631.5 850.3 631.6 853.4 632.0 851.9 632.4 851.8 632.8 847.7 633.2 845.5 633.6 843.7 634.0 840.6 634.4 843.1 634.8 838.1 635.2 836.3 635.3 837.5 635.6 838.8 636.0 835.0 636.4 831.1 636.8 829.6 637.2 829.7 637.6 826.4 638.0 823.3 638.4 822.1 638.8 821.6 639.2 821.6 639.2 816.4 639.6 815.3 640.0 812.7 640.4 807.8 640.8 808.0 641.2 805.7 641.6 807.4 642.0 804.0 642.1 801.3 642.4 804.2 642.8 801.5 643.2 798.3 643.6 799.3 644.0 798.5 644.4 797.8 644.8 798.4 645.2 797.3 645.5 798.0 645.6 798.1 646.0 798.6 646.4 799.5 646.8 800.4 647.2 801.8 647.6 798.3 648.0 802.2 648.4 798.7 648.8 801.6 649.2 800.3 649.6 805.9 649.9 807.0 650.0 804.8 650.4 808.9 650.8 806.0 651.2 808.4 651.6 809.7 652.0 809.0 652.4 812.8 652.8 816.7 652.8 812.0 653.2 816.7 653.6 816.8 654.0 821.9 654.4 822.0 654.8 824.4 655.2 826.5 655.6 828.0 655.7 825.9 656.0 831.9 656.4 829.5 656.8 834.2 657.2 836.9 657.6 836.6 658.0 840.2 658.4 843.7 658.6 842.7 658.8 842.1 659.2 840.6 659.6 845.3 660.0 847.5 660.4 849.2 660.8 849.9 661.2 853.5 661.6 853.4 662.0 855.4 662.4 858.0 662.5 855.8 662.8 857.6 663.2 862.8 663.6 861.9 664.0 859.6 664.4 862.6 664.8 864.8 665.2 866.9 665.6 866.2 666.0 866.1 666.4 866.7 666.8 869.8 667.2 870.1 667.3 869.0 667.6 870.1 668.0 870.5 668.4 873.1 668.8 871.6 669.2 874.3 669.6 875.6 670.0 875.7 670.4 874.2 670.8 878.4 671.2 875.8 671.6 878.1 672.0 876.8 672.4 875.8 672.8 879.5 673.1 880.0 673.2 879.5 673.6 880.6 674.0 879.6 674.4 879.9 674.8 881.3 675.2 885.1 675.6 883.8 676.0 882.1 676.4 884.3 676.8 883.1 677.2 883.5 677.6 886.0 678.0 884.2 678.4 882.7 678.8 884.3 679.2 886.2 679.6 886.6 680.0 888.6 680.4 885.8 680.8 888.3 680.9 887.9 681.2 887.1 681.6 888.9 682.0 888.6 682.4 886.7 682.8 890.0 683.2 886.5 683.6 888.8 684.0 888.9 684.4 889.8 684.8 888.1 685.2 889.4 685.6 889.4 686.0 891.3 686.4 888.6 686.8 890.1 687.2 889.6 687.6 888.0 688.0 894.5 688.4 890.1 688.6 887.8 688.8 892.5 689.2 888.5 689.6 890.7 690.0 891.4 690.4 888.9 690.8 889.1 691.2 888.8 691.6 889.3 692.0 886.7 692.4 887.1 692.8 888.7 693.2 890.3 693.6 889.4 694.0 890.9 694.4 889.0 694.8 886.8 695.2 887.1 695.6 883.7 696.0 885.1 696.4 884.7 696.4 886.7 696.8 887.0 697.2 884.6 697.6 884.1 698.0 882.0 698.4 883.7 698.8 883.5 699.2 883.1 699.6 880.2 700.0 883.6 700.4 881.2 700.8 877.8 701.2 875.8 701.2 876.1 701.6 874.6 702.0 871.0 702.4 867.5 702.8 863.3 703.2 859.4 703.2 859.0 703.6 851.8 704.0 846.6 704.4 838.9 704.8 832.0 705.1 831.2 705.2 825.7 705.6 822.2 706.0 810.8 706.4 806.0 706.6 805.6 706.8 802.8 707.2 801.3 707.6 798.9 708.0 797.8 708.4 797.5 708.5 797.5 708.8 798.9 709.2 801.5 709.6 808.6 710.0 808.2 710.4 818.4 710.4 819.3 710.8 824.7 711.2 835.2 711.6 842.9 711.9 847.1 712.0 849.9 712.4 861.1 712.8 864.3 713.2 870.8 713.6 874.4 713.8 876.8 714.0 875.7 714.4 879.5 714.8 885.6 715.2 884.9 715.6 885.5 716.0 887.2 716.4 889.1 716.7 887.2 716.8 889.7 717.2 888.2 717.6 886.9 718.0 889.5 718.4 883.0 718.8 886.0 719.2 887.4 719.6 885.6 720.0 886.9 720.4 886.1 720.8 886.1 721.2 891.5 721.6 888.2 721.6 887.1 722.0 889.2 722.4 886.5 722.8 888.0 723.2 886.7 723.6 888.1 724.0 882.6 724.4 885.3 724.8 883.4 725.2 880.3 725.5 883.1 725.6 879.7 726.0 881.2 726.4 875.8 726.8 872.3 727.2 868.1 727.4 868.3 727.6 863.0 728.0 864.5 728.4 861.7 728.8 861.7 729.2 860.0 729.6 859.6 730.0 858.4 730.3 858.5 730.4 858.8 730.8 859.1 731.2 860.6 731.6 862.9 732.0 866.8 732.4 870.3 732.8 867.7 733.2 870.7 733.2 870.0 733.6 872.0 734.0 873.6 734.4 879.4 734.8 879.4 735.2 885.8 735.6 886.6 736.0 884.5 736.1 884.7 736.4 885.7 736.8 889.3 737.2 886.1 737.6 885.4 738.0 888.0 738.4 888.9 738.8 887.5 739.2 891.4 739.6 889.3 740.0 889.8 740.4 887.8 740.8 889.1 741.0 888.9 741.2 885.6 741.6 889.6 742.0 886.3 742.4 889.1 742.8 886.7 743.2 892.2 743.6 889.4 744.0 890.2 744.4 890.2 744.8 886.5 745.2 884.9 745.6 887.9 746.0 889.7 746.4 888.3 746.8 889.2 747.2 889.3 747.6 885.3 748.0 888.0 748.4 890.5 748.7 886.3 748.8 883.9 749.2 886.6 749.6 886.0 750.0 887.2 750.4 884.8 750.8 886.0 751.2 882.0 751.6 886.5 752.0 887.3 752.4 886.4 752.8 881.4 753.2 883.8 753.6 878.0 754.0 882.6 754.4 881.5 754.5 879.8 754.8 881.4 755.2 879.9 755.6 879.9 756.0 877.0 756.4 875.5 756.8 870.2 757.2 869.7 757.6 869.1 758.0 868.8 758.4 866.9 758.4 869.3 758.8 864.2 759.2 863.7 759.6 863.0 760.0 860.8 760.4 860.6 760.8 858.2 761.2 858.9 761.6 857.5 761.8 857.5 762.0 857.5 762.4 858.8 762.8 856.8 763.2 859.8 763.6 859.2 764.0 861.3 764.4 863.9 764.8 861.3 765.2 862.2 765.6 863.8 766.0 866.8 766.2 863.9 766.4 867.5 766.8 866.4 767.2 867.8 767.6 870.2 768.0 872.7 768.4 872.2 768.8 873.5 769.2 875.2 769.6 875.6 770.0 872.3 770.0 875.9 770.4 877.2 770.8 879.2 771.2 881.1 771.6 879.3 772.0 878.7 772.4 877.4 772.8 879.4 773.2 880.9 773.6 881.9 774.0 878.8 774.4 880.9 774.8 882.1 775.2 884.0 775.6 881.6 776.0 880.6 776.4 880.5 776.8 881.2 777.2 880.9 777.6 883.4 778.0 883.9 778.4 883.4 778.8 884.2 779.2 881.7 779.6 883.0 779.7 881.8 780.0 882.5 780.4 884.3 780.8 882.3 781.2 879.3 781.6 881.8 782.0 881.0 782.4 879.7 782.8 880.7 783.2 883.4 783.6 884.5 784.0 880.9 784.4 883.1 784.8 883.3 785.2 879.4 785.6 881.0 786.0 880.9 786.4 881.0 786.8 878.1 787.2 879.9 787.6 882.0 788.0 882.1 788.4 882.9 788.8 879.2 789.2 882.6 789.4 880.6 789.6 877.2 790.0 880.4 790.4 878.3 790.8 879.4 791.2 878.1 791.6 879.8 792.0 877.9 792.4 876.7 792.8 878.3 793.2 876.9 793.6 875.5 794.0 877.6 794.4 875.4 794.8 875.4 795.2 875.6 795.2 875.6 795.6 875.4 796.0 877.3 796.4 874.8 796.8 876.2 797.2 874.6 797.6 875.7 798.0 879.4 798.4 878.7 798.8 876.6 799.2 877.8 799.6 876.8 800.0 877.0 800.4 876.9 800.8 877.1 801.0 879.0 801.2 879.5 801.6 879.3 802.0 878.2 802.4 876.3 802.8 878.3 803.2 876.9 803.6 879.8 804.0 879.2 804.4 879.5 804.8 877.7 805.2 875.3 805.6 879.7 806.0 880.1 806.4 875.7 806.8 878.2 807.2 879.8 807.6 876.1 808.0 880.6 808.4 877.1 808.8 875.9 808.8 879.8 809.2 878.0 809.6 876.2 810.0 878.5 810.4 873.6 810.8 879.3 811.2 874.7 811.6 876.0 812.0 874.5 812.4 875.3 812.8 875.5 813.2 872.3 813.6 874.3 814.0 872.0 814.4 870.9 814.6 871.3 814.8 869.8 815.2 869.6 815.6 871.7 816.0 869.2 816.4 870.6 816.8 868.7 817.2 865.5 817.6 863.3 818.0 864.4 818.4 865.0 818.8 863.7 819.2 861.5 819.6 863.5 820.0 858.2 820.4 858.1 820.4 860.3 820.8 862.7 821.2 858.8 821.6 855.4 822.0 856.8 822.4 855.7 822.8 855.0 823.2 851.6 823.6 849.9 824.0 850.3 824.4 849.9 824.8 850.9 825.2 851.0 825.3 846.3 825.6 846.3 826.0 846.5 826.4 845.8 826.8 846.6 827.2 846.3 827.6 845.7 828.0 847.2 828.4 844.5 828.8 842.8 829.2 841.6 829.6 842.1 830.0 841.7 830.4 839.8 830.8 843.3 831.1 842.0 831.2 840.9 831.6 838.9 832.0 836.8 832.4 836.5 832.4 836.5 832.8 835.8 833.2 837.5 833.6 839.3 834.0 839.8 834.4 840.7 834.8 844.2 835.2 843.1 835.6 847.9 836.0 851.4 836.4 849.6 836.8 852.1 837.2 855.7 837.6 859.0 838.0 861.3 838.4 861.8 838.8 860.9 839.2 861.2 839.6 863.9 839.8 864.3 840.0 862.0 840.4 864.1 840.8 864.7 841.2 866.0 841.6 862.9 842.0 865.6 842.4 863.0 842.8 864.3 843.2 865.0 843.6 867.7 844.0 870.7 844.4 865.9 844.8 866.4 845.2 867.3 845.6 863.6 846.0 867.1 846.4 863.9 846.8 868.6 847.2 868.3 847.6 866.9 848.0 864.8 848.4 868.8 848.8 866.6 849.2 866.4 849.6 867.1 849.7 863.5 850.0 866.8 850.4 867.4 850.8 865.9 851.2 864.9 851.6 862.3 852.0 863.9 852.4 862.1 852.8 860.6 853.2 858.4 853.6 859.3 854.0 858.5 854.4 855.8 854.8 855.2 855.2 854.5 855.6 853.5 856.0 850.1 856.4 848.1 856.8 846.7 857.2 846.4 857.2 847.3 857.6 847.0 858.0 844.0 858.4 844.2 858.8 841.7 859.2 844.7 859.6 841.4 860.0 841.9 860.4 839.5 860.8 839.5 861.2 838.2 861.6 841.2 862.0 838.1 862.4 836.3 862.8 834.0 863.2 833.3 863.3 834.9 863.6 835.6 864.0 828.9 864.4 827.6 864.8 826.4 865.2 823.0 865.6 818.4 866.0 817.9 866.4 815.7 866.8 808.5 867.2 807.7 867.6 805.2 868.0 801.4 868.3 796.2 868.4 799.6 868.8 792.2 869.2 784.8 869.6 781.8 870.0 772.4 870.4 769.5 870.8 760.1 871.2 757.8 871.6 750.6 872.0 749.2 872.0 748.6 872.4 744.3 872.8 739.8 873.2 737.3 873.6 733.1 874.0 733.0 874.0 733.0 874.4 734.9 874.8 739.9 875.2 750.2 875.6 752.9 876.0 761.3 876.4 766.6 876.8 773.3 877.0 768.9 877.2 775.7 877.6 773.6 878.0 772.7 878.4 776.1 878.8 778.9 879.2 780.8 879.6 781.7 880.0 784.1 880.4 783.7 880.8 784.6 881.2 782.0 881.6 786.8 882.0 788.1 882.4 786.1 882.8 784.0 883.1 784.9 883.2 789.6 883.6 785.3 884.0 783.7 884.4 781.1 884.8 780.6 885.2 775.2 885.6 771.0 886.0 765.9 886.4 764.0 886.8 761.5 887.2 755.6 887.6 753.3 888.0 748.5 888.1 747.6 888.4 744.9 888.8 740.5 889.2 737.5 889.6 732.1 890.0 726.6 890.4 724.1 890.8 722.0 891.1 721.5 891.2 721.6 891.6 723.5 892.0 725.6 892.4 732.8 892.8 740.9 893.2 744.0 893.6 756.4 894.0 762.1 894.4 768.7 894.8 772.9 895.2 783.0 895.5 782.9 895.6 784.6 896.0 790.0 896.4 791.2 896.8 794.9 897.2 798.0 897.6 802.8 898.0 806.5 898.4 808.2 898.8 809.5 899.2 808.7 899.2 809.5 899.6 808.1 900.0 812.1 900.4 808.7 900.8 804.6 901.2 805.1 901.6 808.4 902.0 802.6 902.4 802.8 902.8 802.8 903.2 799.0 903.6 801.0 904.0 800.4 904.2 795.6 904.4 797.8 904.8 792.5 905.2 789.6 905.6 788.5 906.0 785.0 906.4 779.7 906.8 777.8 907.2 769.5 907.6 765.7 908.0 760.3 908.4 758.0 908.8 752.8 909.1 748.5 909.2 743.9 909.6 740.0 910.0 733.4 910.4 722.2 910.8 715.1 911.2 708.8 911.6 700.0 912.0 690.5 912.4 682.3 912.8 673.7 912.8 673.4 913.2 664.2 913.6 652.9 914.0 643.3 914.4 632.7 914.8 627.0 915.2 616.7 915.6 611.4 916.0 609.5 916.0 609.5 916.4 611.7 916.8 618.5 917.2 627.1 917.6 639.2 918.0 648.2 918.4 660.8 918.8 670.9 919.0 671.4 919.2 676.7 919.6 682.6 920.0 686.9 920.4 691.4 920.8 693.9 921.2 703.3 921.6 704.9 922.0 709.7 922.4 718.7 922.7 719.8 922.8 726.1 923.2 734.9 923.6 746.9 924.0 758.0 924.4 767.9 924.8 776.0 925.2 786.8 925.2 783.7 925.6 786.7 926.0 792.8 926.4 791.9 926.8 795.0 927.2 797.2 927.6 799.5 928.0 799.9 928.4 802.4 928.8 806.8 929.2 807.2 929.6 802.3 930.0 804.8 930.4 809.1 930.8 808.9 931.2 808.7 931.4 811.0 931.6 806.4 932.0 811.1 932.4 809.3 932.8 809.7 933.2 809.0 933.6 809.6 934.0 807.5 934.4 806.6 934.8 808.4 935.2 807.0 935.6 804.3 936.0 808.1 936.4 807.5 936.8 807.5 937.2 805.0 937.6 805.1 938.0 804.1 938.4 803.9 938.8 804.3 938.8 804.3 939.2 804.1 939.6 806.3 940.0 803.2 940.4 804.6 940.8 805.6 941.2 809.7 941.6 808.3 942.0 809.3 942.4 809.6 942.8 811.0 943.2 811.4 943.6 816.4 944.0 817.0 944.4 818.8 944.8 817.3 945.2 823.4 945.6 818.8 946.0 817.9 946.2 821.1 946.4 822.2 946.8 823.9 947.2 821.8 947.6 825.2 948.0 827.7 948.4 824.4 948.8 825.4 949.2 824.6 949.6 828.4 950.0 830.2 950.4 830.7 950.8 831.5 951.2 833.1 951.6 831.6 952.0 833.5 952.4 830.9 952.8 831.6 953.2 833.6 953.6 832.2 954.0 834.7 954.4 836.1 954.8 834.6 954.9 832.8 955.2 832.6 955.6 835.3 956.0 830.7 956.4 830.5 956.8 828.0 957.2 826.4 957.6 825.8 958.0 820.8 958.4 817.0 958.8 819.3 959.2 815.2 959.6 814.1 960.0 811.3 960.4 811.4 960.8 811.5 961.1 811.5 961.2 808.9 961.6 808.7 962.0 809.9 962.4 809.6 962.8 810.2 963.2 808.2 963.6 805.6 964.0 810.0 964.4 810.5 964.8 810.3 965.2 812.0 965.6 810.7 966.0 808.7 966.4 810.9 966.8 809.2 967.2 811.3 967.3 809.7 967.6 810.0 968.0 809.3 968.4 808.6 968.8 805.5 969.2 807.3 969.6 802.6 970.0 806.1 970.4 805.8 970.8 806.3 971.2 802.4 971.6 799.5 971.8 797.5 972.0 802.5 972.4 795.5 972.8 797.4 973.2 790.3 973.6 791.6 974.0 790.3 974.4 787.1 974.8 783.6 975.2 779.4 975.6 776.2 976.0 776.1 976.3 772.7 976.4 770.9 976.8 767.9 977.2 762.2 977.6 761.0 978.0 756.8 978.4 748.7 978.8 744.9 979.2 741.0 979.5 734.0 979.6 736.8 980.0 729.9 980.4 720.4 980.8 714.9 981.2 707.4 981.4 698.0 981.6 695.5 982.0 680.9 982.4 665.4 982.8 651.1 982.8 649.2 983.2 630.2 983.6 609.2 984.0 589.1 984.4 568.3 984.8 548.1 985.2 533.3 985.6 525.1 985.8 524.0 986.0 524.7 986.4 528.6 986.8 537.2 987.2 551.2 987.6 563.2 988.0 580.4 988.4 599.6 988.8 617.8 989.2 641.2 989.4 646.5 989.6 664.7 990.0 692.3 990.1 698.0 990.4 721.8 990.8 743.4 990.9 750.9 991.2 760.5 991.6 769.1 992.0 778.5 992.4 788.2 992.8 791.6 993.2 797.4 993.5 800.6 993.6 803.3 994.0 802.9 994.4 806.4 994.8 810.6 995.2 806.7 995.6 812.0 996.0 810.4 996.4 811.0 996.5 817.1 996.8 814.2 997.2 815.6 997.6 811.9 998.0 811.8 998.4 808.6 998.8 806.5 999.2 805.2 999.6 803.3 1000.0 803.3 1000.4 798.3 1000.7 797.5 1000.8 795.9 1001.2 793.4 1001.6 787.2 1002.0 786.9 1002.4 780.5 1002.8 778.3 1003.2 776.0 1003.3 777.8 1003.6 776.7 1004.0 775.5 1004.4 775.6 1004.8 775.6 1005.2 776.1 1005.6 775.6 1006.0 776.6 1006.4 776.8 1006.6 775.0 1006.8 771.6 1007.2 775.4 1007.6 774.4 1008.0 768.4 1008.4 766.1 1008.8 761.1 1009.2 763.3 1009.6 758.5 1010.0 760.1 1010.4 755.2 1010.8 756.1 1011.0 756.0 1011.2 756.2 1011.6 757.6 1012.0 761.7 1012.4 764.9 1012.8 769.9 1013.2 775.2 1013.6 778.7 1014.0 782.8 1014.3 786.3 1014.4 784.8 1014.8 787.4 1015.2 787.4 1015.6 791.3 1016.0 789.0 1016.4 793.6 1016.8 788.3 1017.2 792.6 1017.6 792.6 1018.0 797.8 1018.4 797.8 1018.7 796.2 1018.8 797.7 1019.2 802.4 1019.6 801.9 1020.0 804.8 1020.4 803.3 1020.8 805.0 1021.2 809.8 1021.6 813.6 1022.0 809.5 1022.0 811.3 1022.4 809.0 1022.8 812.7 1023.2 810.0 1023.6 810.1 1024.0 807.9 1024.4 810.3 1024.8 811.3 1025.2 813.3 1025.6 809.3 1026.0 812.9 1026.4 810.9 1026.4 811.0 1026.8 810.3 1027.2 809.8 1027.6 811.6 1028.0 817.3 1028.4 814.1 1028.8 816.7 1029.2 820.6 1029.6 816.8 1030.0 822.0 1030.4 821.5 1030.8 823.4 1031.2 824.8 1031.4 823.3 1031.6 823.1 1032.0 824.0 1032.4 822.8 1032.8 819.2 1033.2 818.2 1033.6 814.3 1034.0 816.2 1034.4 809.8 1034.8 809.7 1035.2 809.8 1035.2 808.3 1035.6 803.8 1036.0 799.8 1036.4 796.1 1036.8 794.6 1037.2 789.7 1037.6 785.5 1038.0 786.5 1038.4 778.6 1038.5 778.7 1038.8 777.6 1039.2 776.8 1039.6 775.4 1040.0 773.0 1040.4 773.3 1040.8 771.7 1041.2 770.2 1041.6 769.5 1041.8 770.0 1042.0 770.0 1042.4 771.7 1042.8 775.4 1043.2 778.1 1043.6 783.6 1044.0 790.2 1044.4 794.4 1044.8 799.6 1045.1 800.1 1045.2 801.7 1045.6 802.8 1046.0 806.2 1046.4 809.2 1046.8 810.2 1047.2 810.1 1047.6 813.9 1048.0 816.3 1048.4 819.8 1048.4 817.9 1048.8 819.4 1049.2 820.5 1049.6 827.8 1050.0 825.4 1050.4 827.3 1050.8 830.9 1051.2 829.9 1051.6 835.9 1051.7 834.8 1052.0 836.0 1052.4 834.6 1052.8 836.3 1053.2 839.4 1053.6 840.3 1054.0 844.2 1054.4 842.1 1054.8 838.0 1055.2 841.8 1055.6 841.5 1056.0 844.3 1056.4 842.8 1056.8 843.9 1057.2 842.8 1057.2 844.3 1057.6 845.7 1058.0 842.5 1058.4 840.3 1058.8 842.0 1059.2 846.2 1059.6 844.2 1060.0 843.4 1060.4 842.4 1060.8 845.7 1061.2 844.5 1061.6 844.0 1062.0 843.3 1062.4 844.0 1062.8 843.8 1063.2 845.2 1063.6 846.4 1064.0 841.2 1064.4 842.1 1064.8 844.2 1065.2 844.5 1065.6 841.9 1066.0 843.4 1066.0 843.8 1066.4 843.5 1066.8 842.8 1067.2 842.3 1067.6 842.5 1068.0 840.7 1068.4 838.8 1068.8 836.5 1069.2 833.1 1069.6 831.7 1070.0 831.9 1070.4 829.5 1070.5 830.3 1070.8 828.4 1071.2 826.6 1071.6 825.7 1072.0 820.9 1072.4 821.6 1072.8 819.4 1073.2 820.3 1073.6 816.9 1074.0 817.1 1074.4 816.0 1074.8 816.1 1074.9 816.0 1075.2 816.2 1075.6 817.6 1076.0 819.7 1076.4 823.2 1076.8 824.3 1077.2 827.9 1077.6 830.1 1078.0 831.8 1078.2 834.8 1078.4 836.3 1078.8 836.8 1079.2 843.2 1079.6 842.1 1080.0 847.0 1080.4 848.6 1080.8 847.0 1081.2 850.7 1081.5 848.5 1081.6 850.8 1082.0 851.8 1082.4 853.0 1082.8 850.4 1083.2 845.5 1083.6 846.1 1084.0 847.7 1084.4 844.1 1084.8 845.3 1085.2 839.9 1085.6 839.1 1086.0 837.5 1086.4 838.0 1086.8 838.2 1087.0 837.9 1087.2 838.1 1087.6 838.4 1088.0 839.4 1088.4 838.7 1088.8 839.9 1089.2 844.2 1089.6 839.8 1090.0 844.0 1090.4 846.3 1090.8 845.7 1091.2 848.7 1091.4 841.8 1091.6 846.6 1092.0 846.6 1092.4 849.5 1092.8 851.7 1093.2 854.4 1093.6 853.8 1094.0 857.8 1094.4 854.7 1094.7 859.1 1094.8 857.2 1095.2 854.9 1095.6 855.0 1096.0 855.0 1096.4 856.4 1096.8 858.2 1097.2 860.2 1097.6 859.4 1098.0 856.0 1098.4 854.5 1098.8 857.7 1099.2 856.0 1099.6 858.0 1100.0 857.2 1100.4 862.5 1100.8 855.7 1101.2 859.1 1101.3 861.6 1101.6 858.0 1102.0 857.6 1102.4 861.8 1102.8 856.0 1103.2 857.0 1103.6 858.1 1104.0 861.1 1104.4 862.0 1104.8 861.0 1105.2 865.0 1105.6 861.6 1106.0 862.2 1106.4 862.0 1106.8 864.7 1107.2 862.9 1107.6 862.3 1107.9 865.7 1108.0 865.1 1108.4 864.6 1108.8 860.7 1109.2 860.7 1109.6 861.7 1110.0 861.1 1110.4 860.3 1110.8 859.9 1111.2 860.6 1111.6 857.1 1112.0 858.2 1112.4 856.2 1112.8 855.1 1113.2 854.3 1113.6 854.8 1114.0 852.9 1114.4 850.0 1114.5 851.5 1114.8 850.1 1115.2 848.5 1115.6 844.8 1116.0 843.9 1116.4 839.8 1116.8 834.2 1117.2 830.9 1117.6 828.0 1117.8 829.7 1118.0 826.8 1118.4 824.9 1118.8 822.8 1119.2 822.4 1119.6 821.6 1120.0 815.8 1120.4 817.5 1120.8 814.0 1121.1 814.5 1121.2 812.0 1121.6 810.0 1122.0 812.4 1122.4 813.3 1122.8 808.4 1123.2 810.5 1123.6 810.7 1124.0 811.0 1124.4 808.1 1124.8 808.8 1125.2 811.0 1125.6 812.3 1126.0 809.5 1126.4 810.9 1126.6 809.6 1126.8 810.0 1127.2 808.7 1127.6 808.9 1128.0 808.4 1128.4 809.5 1128.8 811.1 1129.2 809.6 1129.6 810.3 1130.0 808.3 1130.4 810.4 1130.8 804.2 1131.2 807.0 1131.6 808.8 1132.0 806.4 1132.4 810.2 1132.8 809.6 1133.2 807.8 1133.2 809.4 1133.6 807.0 1134.0 808.3 1134.4 809.7 1134.8 808.5 1135.2 813.6 1135.6 811.8 1136.0 815.5 1136.4 814.5 1136.8 816.2 1137.2 815.0 1137.6 816.7 1138.0 817.0 1138.4 818.4 1138.7 820.3 1138.8 817.2 1139.2 817.8 1139.6 818.6 1140.0 819.4 1140.4 817.8 1140.8 817.3 1141.2 816.9 1141.6 817.8 1142.0 818.1 1142.4 816.5 1142.8 817.0 1143.2 818.6 1143.6 817.2 1144.0 816.2 1144.2 818.1 1144.4 818.0 1144.8 817.3 1145.2 816.5 1145.6 813.7 1146.0 813.2 1146.4 811.8 1146.8 809.8 1147.2 805.0 1147.6 806.0 1148.0 804.8 1148.4 803.3 1148.8 800.4 1149.2 799.5 1149.6 795.9 1150.0 796.0 1150.4 795.4 1150.8 796.5 1150.8 796.5 1151.2 797.7 1151.6 797.2 1152.0 800.9 1152.4 804.4 1152.8 804.4 1153.2 804.3 1153.6 812.2 1154.0 811.6 1154.1 812.0 1154.4 816.8 1154.8 816.7 1155.2 819.3 1155.6 822.5 1156.0 821.5 1156.4 821.9 1156.8 826.3 1157.2 826.4 1157.4 828.1 1157.6 828.1 1158.0 827.1 1158.4 829.1 1158.8 829.2 1159.2 830.0 1159.6 830.9 1160.0 832.0 1160.4 832.4 1160.8 830.7 1161.2 834.4 1161.6 831.9 1161.8 838.2 1162.0 834.0 1162.4 836.4 1162.8 840.2 1163.2 839.4 1163.6 839.3 1164.0 840.6 1164.4 844.7 1164.8 845.9 1165.1 847.0 1165.2 846.2 1165.6 845.3 1166.0 847.2 1166.4 849.0 1166.8 845.6 1167.2 852.8 1167.6 846.6 1168.0 849.4 1168.4 850.5 1168.8 849.1 1169.2 848.3 1169.6 849.1 1170.0 850.2 1170.4 844.0 1170.8 849.2 1171.2 848.0 1171.6 847.8 1171.7 849.2 1172.0 849.5 1172.4 850.3 1172.8 849.0 1173.2 852.2 1173.6 847.6 1174.0 849.9 1174.4 850.1 1174.8 852.8 1175.2 852.4 1175.6 854.6 1176.0 853.0 1176.4 856.8 1176.8 856.5 1177.2 854.9 1177.6 853.4 1178.0 854.5 1178.3 854.1 1178.4 858.6 1178.8 858.1 1179.2 855.1 1179.6 860.4 1180.0 857.1 1180.4 854.2 1180.8 859.7 1181.2 860.3 1181.6 858.4 1182.0 857.1 1182.4 860.7 1182.8 858.1 1183.2 859.1 1183.6 860.0 1184.0 859.9 1184.4 858.8 1184.8 857.9 1185.2 860.9 1185.6 856.2 1186.0 860.4 1186.4 860.3 1186.8 860.7 1187.1 859.3 1187.2 860.3 1187.6 861.2 1188.0 858.2 1188.4 859.9 1188.8 860.3 1189.2 857.5 1189.6 857.9 1190.0 861.8 1190.4 860.7 1190.8 857.7 1191.2 859.8 1191.6 859.0 1192.0 860.3 1192.4 859.6 1192.8 853.5 1193.2 856.6 1193.6 858.9 1193.7 859.2 1194.0 855.0 1194.4 852.2 1194.8 852.0 1195.2 847.4 1195.6 844.8 1196.0 839.2 1196.4 838.7 1196.8 834.9 1197.2 831.8 1197.6 828.9 1198.0 828.4 1198.1 828.5 1198.4 828.9 1198.8 828.3 1199.2 832.0 1199.6 836.1 1200.0 834.6 1200.4 837.9 1200.8 842.5 1201.2 845.1 1201.6 845.2 1202.0 848.2 1202.4 850.5 1202.6 850.7 1202.8 852.7 1203.2 853.8 1203.6 856.8 1204.0 853.4 1204.4 859.3 1204.8 859.8 1205.2 859.1 1205.6 860.5 1205.9 861.5 1206.0 860.4 1206.4 859.2 1206.8 859.5 1207.2 857.1 1207.6 855.1 1208.0 854.6 1208.4 853.5 1208.8 853.7 1209.2 853.3 1209.6 851.3 1210.0 851.9 1210.4 848.8 1210.8 847.8 1211.2 847.7 1211.4 847.8 1211.6 847.8 1212.0 849.3 1212.4 847.7 1212.8 851.4 1213.2 852.0 1213.6 854.9 1214.0 854.5 1214.4 857.9 1214.8 857.3 1215.2 860.1 1215.6 856.7 1215.8 860.7 1216.0 861.3 1216.4 857.7 1216.8 861.8 1217.2 858.8 1217.6 862.4 1218.0 860.9 1218.4 862.2 1218.8 861.8 1219.2 859.4 1219.6 864.0 1220.0 863.5 1220.4 860.1 1220.8 862.7 1221.2 862.6 1221.6 860.9 1222.0 860.4 1222.4 864.1 1222.8 861.5 1223.2 863.6 1223.6 865.2 1224.0 863.0 1224.4 860.8 1224.6 863.8 1224.8 860.0 1225.2 860.7 1225.6 866.8 1226.0 860.8 1226.4 862.5 1226.8 860.1 1227.2 861.4 1227.6 861.8 1228.0 857.1 1228.4 860.1 1228.8 862.0 1229.2 862.2 1229.6 861.2 1230.0 859.0 1230.4 861.0 1230.8 859.4 1231.2 859.2 1231.6 860.0 1232.0 860.7 1232.3 859.9 1232.4 860.0 1232.8 860.1 1233.2 858.7 1233.6 859.0 1234.0 860.1 1234.4 859.9 1234.8 861.2 1235.2 859.5 1235.6 859.7 1236.0 863.2 1236.4 861.8 1236.8 860.7 1237.2 862.3 1237.6 865.5 1238.0 861.8 1238.4 860.5 1238.8 864.6 1239.2 866.3 1239.6 865.3 1240.0 861.2 1240.0 860.0 1240.4 864.9 1240.8 861.6 1241.2 861.2 1241.6 858.2 1242.0 859.0 1242.4 854.2 1242.8 851.4 1243.2 850.1 1243.6 846.3 1244.0 847.2 1244.4 846.1 1244.4 842.9 1244.8 844.2 1245.2 843.8 1245.5 843.1 1245.6 846.1 1246.0 846.9 1246.4 845.0 1246.8 841.4 1247.2 840.1 1247.6 842.9 1248.0 840.6 1248.3 839.9 1248.4 839.0 1248.8 837.9 1248.8 837.9 1249.2 838.0 1249.6 838.9 1250.0 838.9 1250.4 844.4 1250.8 843.2 1251.2 845.4 1251.6 847.5 1252.0 849.1 1252.1 851.7 1252.4 847.7 1252.8 853.4 1253.2 853.4 1253.6 855.6 1254.0 857.1 1254.4 860.3 1254.8 858.8 1255.2 860.6 1255.4 862.4 1255.6 860.6 1256.0 860.7 1256.4 862.0 1256.8 861.3 1257.2 860.5 1257.6 860.9 1258.0 859.1 1258.4 861.7 1258.8 858.3 1259.2 857.3 1259.6 860.2 1260.0 858.3 1260.4 858.9 1260.8 859.4 1260.9 859.4 1261.2 859.3 1261.6 859.2 1262.0 859.2 1262.4 860.6 1262.8 859.5 1263.2 861.2 1263.6 863.4 1264.0 861.3 1264.4 861.6 1264.8 861.2 1265.2 861.9 1265.6 861.6 1266.0 862.2 1266.4 863.4 1266.8 865.1 1267.2 865.6 1267.5 864.2 1267.6 865.4 1268.0 862.9 1268.4 868.4 1268.8 869.1 1269.2 865.0 1269.6 866.0 1270.0 865.4 1270.4 866.6 1270.8 864.4 1271.2 863.0 1271.6 866.7 1272.0 863.7 1272.4 866.1 1272.8 864.1 1273.2 864.3 1273.6 867.2 1274.0 868.2 1274.4 865.4 1274.8 865.0 1275.2 866.2 1275.6 864.9 1276.0 863.1 1276.3 865.9 1276.4 862.3 1276.8 866.6 1277.2 865.2 1277.6 866.4 1278.0 863.8 1278.4 865.1 1278.8 867.2 1279.2 868.6 1279.6 867.8 1280.0 867.2 1280.4 864.9 1280.8 867.7 1281.2 867.0 1281.6 866.4 1282.0 869.0 1282.4 865.8 1282.8 869.8 1283.2 866.0 1283.6 866.0 1284.0 866.9 1284.0 865.0 1284.4 866.3 1284.8 867.0 1285.2 863.9 1285.6 864.9 1286.0 863.6 1286.4 864.7 1286.8 866.7 1287.2 863.7 1287.6 863.6 1288.0 863.8 1288.4 861.2 1288.8 862.9 1289.2 861.4 1289.6 861.2 1290.0 860.6 1290.4 861.5 1290.6 861.6 1290.8 861.9 1291.2 861.6 1291.6 862.2 1292.0 861.9 1292.4 861.4 1292.8 861.0 1293.2 867.3 1293.6 863.7 1294.0 866.3 1294.4 869.1 1294.8 866.6 1295.2 867.5 1295.6 868.5 1296.0 867.6 1296.1 868.6 1296.4 867.6 1296.8 869.7 1297.2 868.2 1297.6 865.0 1298.0 864.0 1298.4 864.3 1298.8 863.4 1299.2 862.2 1299.6 863.9 1300.0 860.2 1300.4 859.7 1300.8 859.7 1301.2 855.4 1301.6 858.5 1302.0 857.9 1302.4 857.9 1302.8 855.7 1303.2 856.1 1303.3 856.1 1303.6 856.1 1304.0 855.5 1304.4 858.4 1304.8 857.8 1305.2 859.8 1305.6 858.7 1306.0 863.2 1306.4 862.2 1306.8 862.7 1307.2 866.0 1307.6 867.2 1308.0 864.4 1308.3 867.6 1308.4 868.6 1308.8 866.4 1309.2 863.7 1309.6 866.8 1310.0 867.5 1310.4 864.1 1310.8 868.4 1311.2 865.3 1311.6 865.3 1312.0 867.2 1312.4 865.7 1312.8 867.2 1313.2 865.2 1313.6 865.6 1314.0 865.1 1314.4 865.1 1314.8 865.1 1314.9 865.0 1315.2 864.9 1315.6 865.8 1316.0 865.1 1316.4 867.3 1316.8 866.5 1317.2 865.6 1317.6 864.8 1318.0 866.3 1318.4 868.7 1318.8 867.1 1319.2 868.7 1319.6 867.3 1320.0 867.2 1320.4 866.9 1320.8 865.2 1321.2 869.1 1321.6 868.9 1322.0 869.0 1322.4 870.6 1322.6 867.8 1322.8 872.2 1323.2 867.3 1323.6 870.3 1324.0 868.1 1324.4 869.8 1324.8 872.2 1325.2 868.2 1325.6 871.0 1326.0 871.1 1326.4 871.4 1326.8 871.6 1327.2 872.7 1327.6 872.3 1328.0 872.3 1328.4 873.3 1328.8 873.0 1329.2 871.9 1329.6 870.3 1330.0 873.6 1330.4 871.9 1330.8 875.2 1331.2 871.8 1331.4 870.8 1331.6 874.5 1332.0 871.6 1332.4 870.5 1332.8 874.9 1333.2 870.7 1333.6 875.2 1334.0 871.7 1334.4 873.9 1334.8 873.7 1335.2 870.5 1335.6 873.5 1336.0 872.9 1336.4 873.8 1336.8 874.5 1337.2 876.2 1337.6 873.3 1338.0 873.6 1338.4 877.2 1338.8 874.9 1339.1 875.0 1339.2 871.3 1339.6 871.5 1340.0 872.9 1340.4 873.4 1340.8 874.5 1341.2 878.0 1341.6 871.6 1342.0 872.9 1342.4 874.5 1342.8 873.9 1343.2 875.2 1343.6 872.9 1344.0 871.9 1344.4 876.6 1344.8 873.9 1345.2 871.2 1345.6 872.5 1346.0 872.9 1346.4 870.6 1346.8 874.1 1347.2 873.1 1347.6 872.2 1348.0 871.7 1348.4 875.4 1348.8 872.6 1349.2 871.4 1349.6 869.4 1350.0 870.9 1350.1 873.7 1350.4 875.0 1350.8 870.8 1351.2 869.4 1351.6 872.7 1352.0 872.6 1352.4 874.0 1352.8 871.5 1353.2 872.8 1353.6 869.7 1354.0 870.6 1354.4 871.8 1354.8 871.9 1355.2 873.5 1355.6 874.6 1356.0 870.4 1356.4 875.3 1356.8 871.4 1357.2 872.0 1357.6 874.4 1358.0 868.8 1358.4 870.3 1358.8 871.3 1359.2 872.8 1359.6 874.4 1360.0 874.4 1360.4 871.2 1360.8 873.8 1361.1 872.0 1361.2 875.0 1361.6 872.1 1362.0 874.0 1362.4 870.4 1362.8 872.8 1363.2 868.9 1363.6 870.6 1364.0 867.2 1364.4 868.8 1364.8 866.9 1365.2 865.7 1365.6 866.7 1366.0 866.5 1366.4 864.4 1366.8 863.6 1367.2 863.1 1367.6 862.7 1367.7 862.1 1368.0 860.1 1368.4 860.8 1368.8 854.6 1369.2 854.2 1369.6 848.3 1370.0 851.0 1370.4 843.9 1370.8 841.6 1371.2 840.7 1371.6 835.5 1372.0 832.1 1372.1 830.0 1372.4 830.9 1372.8 832.3 1373.2 826.9 1373.6 827.0 1374.0 823.3 1374.4 819.1 1374.8 816.3 1375.2 816.5 1375.6 816.1 1376.0 815.5 1376.0 815.5 1376.4 816.2 1376.8 816.9 1377.2 817.3 1377.6 821.1 1378.0 825.4 1378.4 826.3 1378.8 829.2 1379.2 832.4 1379.6 836.7 1379.8 838.2 1380.0 839.7 1380.4 841.0 1380.8 846.6 1381.2 849.2 1381.6 852.3 1382.0 854.1 1382.4 858.0 1382.8 860.7 1383.1 862.8 1383.2 863.4 1383.6 863.6 1384.0 864.6 1384.4 863.0 1384.8 866.7 1385.2 867.3 1385.6 867.5 1386.0 866.1 1386.4 867.1 1386.8 866.8 1387.2 865.7 1387.6 867.4 1388.0 865.6 1388.4 865.4 1388.6 869.1 1388.8 869.1 1389.2 869.5 1389.6 867.5 1390.0 868.2 1390.4 868.9 1390.8 867.4 1391.2 864.7 1391.6 871.5 1392.0 869.8 1392.4 869.8 1392.8 867.9 1393.2 866.4 1393.6 867.7 1394.0 868.0 1394.4 865.3 1394.8 866.6 1395.2 868.2 1395.6 869.7 1396.0 868.2 1396.4 866.8 1396.8 866.4 1397.2 867.6 1397.4 867.2 1397.6 867.4 1398.0 867.3 1398.4 866.0 1398.8 870.8 1399.2 868.9 1399.6 870.0 1400.0 867.1 1400.4 868.6 1400.8 871.2 1401.2 868.8 1401.6 868.5 1402.0 868.2 1402.4 868.2 1402.8 872.0 1403.2 870.8 1403.6 868.3 1404.0 873.8 1404.4 873.5 1404.8 873.4 1405.1 868.6 1405.2 871.8 1405.6 873.7 1406.0 869.9 1406.4 870.2 1406.8 871.1 1407.2 868.2 1407.6 871.7 1408.0 872.9 1408.4 872.3 1408.8 873.6 1409.2 871.3 1409.6 871.0 1410.0 870.6 1410.4 869.8 1410.8 869.1 1411.2 869.5 1411.6 870.5 1412.0 869.8 1412.4 870.7 1412.8 870.6 1413.2 871.0 1413.6 870.3 1413.9 870.5 1414.0 870.4 1414.4 871.5 1414.8 871.2 1415.2 870.0 1415.6 870.3 1416.0 870.5 1416.4 869.9 1416.8 871.1 1417.2 871.9 1417.6 872.9 1418.0 870.4 1418.4 870.6 1418.8 870.6 1419.2 871.3 1419.6 873.1 1420.0 870.3 1420.4 875.1 1420.8 872.6 1421.2 873.6 1421.6 870.4 1422.0 871.4 1422.4 871.2 1422.8 872.2 1423.2 869.0 1423.6 873.1 1424.0 869.7 1424.4 873.1 1424.8 874.2 1425.2 872.5 1425.6 872.4 1426.0 872.4 1426.4 872.4 1426.8 873.1 1427.1 874.2 1427.2 873.8 1427.6 875.1 1428.0 872.7 1428.4 871.6 1428.8 871.4 1429.2 869.9 1429.6 870.9 1430.0 870.2 1430.4 873.6 1430.8 871.1 1431.2 872.7 1431.6 866.3 1432.0 869.3 1432.4 869.9 1432.8 868.3 1433.2 866.5 1433.6 867.0 1434.0 866.3 1434.4 865.9 1434.8 865.6 1435.2 866.3 1435.6 864.7 1436.0 864.4 1436.0 864.0 1436.4 864.3 1436.8 862.0 1437.2 863.7 1437.6 861.8 1438.0 863.3 1438.4 860.5 1438.8 860.9 1439.2 860.3 1439.6 858.6 1440.0 861.5 1440.4 860.1 1440.8 859.2 1441.2 860.7 1441.6 858.3 1442.0 858.4 1442.4 858.6 1442.6 858.3 1442.8 858.3 1443.2 859.4 1443.6 858.7 1444.0 857.4 1444.4 859.5 1444.8 860.8 1445.2 859.2 1445.6 859.7 1446.0 857.3 1446.4 855.5 1446.8 859.6 1447.2 857.0 1447.6 859.3 1448.0 858.4 1448.4 859.7 1448.8 860.8 1449.2 856.8 1449.2 859.2 1449.6 859.1 1450.0 861.1 1450.4 858.6 1450.8 856.5 1451.2 856.2 1451.6 859.1 1452.0 854.0 1452.4 854.7 1452.8 854.2 1453.2 851.3 1453.6 851.5 1454.0 850.6 1454.4 851.5 1454.7 851.7 1454.8 851.7 1455.2 850.8 1455.6 853.4 1456.0 850.6 1456.4 851.3 1456.8 855.9 1457.2 854.7 1457.6 854.4 1458.0 857.6 1458.4 855.7 1458.8 857.0 1459.2 856.2 1459.6 857.4 1460.0 858.0 1460.2 860.1 1460.4 857.5 1460.8 858.6 1461.2 855.8 1461.6 856.9 1462.0 861.0 1462.4 859.7 1462.8 860.0 1463.2 861.9 1463.6 860.7 1464.0 861.7 1464.4 861.4 1464.8 859.0 1465.2 863.5 1465.6 865.2 1466.0 865.0 1466.4 863.5 1466.8 864.2 1466.8 864.4 1467.2 866.5 1467.6 866.4 1468.0 864.3 1468.4 865.1 1468.8 865.4 1469.2 865.2 1469.6 865.5 1470.0 866.7 1470.4 863.5 1470.8 868.3 1471.2 867.3 1471.6 866.4 1472.0 868.3 1472.4 867.7 1472.8 871.0 1473.2 867.5 1473.4 869.4 1473.6 869.9 1474.0 868.1 1474.4 867.5 1474.8 870.2 1475.2 869.0 1475.6 868.2 1476.0 867.5 1476.4 870.8 1476.8 872.3 1477.2 869.2 1477.6 870.9 1478.0 871.8 1478.4 871.7 1478.8 869.3 1479.2 871.1 1479.6 871.4 1480.0 874.3 1480.4 870.7 1480.8 872.0 1481.2 871.7 1481.6 871.5 1482.0 868.9 1482.2 870.9 1482.4 872.8 1482.8 869.9 1483.2 870.7 1483.6 869.0 1484.0 870.5 1484.4 870.5 1484.8 870.8 1485.2 868.9 1485.6 868.7 1486.0 868.3 1486.4 869.4 1486.8 869.1 1487.2 872.1 1487.6 867.7 1488.0 869.0 1488.4 868.1 1488.8 868.3 1488.8 868.3 1489.2 868.5 1489.6 868.8 1490.0 866.7 1490.4 872.5 1490.8 871.8 1491.2 867.5 1491.6 866.7 1492.0 867.8 1492.4 869.4 1492.8 867.7 1493.2 869.8 1493.6 868.5 1494.0 873.9 1494.4 869.5 1494.8 869.3 1495.2 873.3 1495.6 870.9 1496.0 870.5 1496.4 870.7 1496.8 871.8 1497.2 870.4 1497.6 871.4 1498.0 870.5 1498.4 869.5 1498.8 871.2 1499.2 872.1 1499.6 874.4 1499.8 872.4 1500.0 871.5 1500.4 872.4 1500.8 873.2 1501.2 869.0 1501.6 871.9 1502.0 869.4 1502.4 870.1 1502.8 871.8 1503.2 872.9 1503.6 873.3 1504.0 873.6 1504.4 875.5 1504.8 874.3 1505.2 874.4 1505.6 873.4 1506.0 877.0 1506.4 876.2 1506.8 873.4 1507.2 873.5 1507.6 875.7 1508.0 876.2 1508.4 874.2 1508.8 876.6 1509.2 873.1 1509.6 874.7 1510.0 876.6 1510.4 874.2 1510.8 875.4 1511.2 875.2 1511.6 874.9 1512.0 872.4 1512.4 874.8 1512.8 875.6 1513.0 875.7 1513.2 876.5 1513.6 876.8 1514.0 874.8 1514.4 875.0 1514.8 878.0 1515.2 876.8 1515.6 875.4 1516.0 875.1 1516.4 877.0 1516.8 877.0 1517.2 875.3 1517.6 876.1 1518.0 875.5 1518.4 875.3 1518.8 878.3 1519.2 873.4 1519.6 876.6 1520.0 873.8 1520.4 874.3 1520.8 876.7 1521.2 873.4 1521.6 873.9 1522.0 873.6 1522.4 874.5 1522.8 875.9 1523.2 877.2 1523.6 874.4 1524.0 876.8 1524.4 873.5 1524.8 878.7 1525.2 874.7 1525.6 874.6 1526.0 875.8 1526.2 875.5 1526.4 875.1 1526.8 872.6 1527.2 876.4 1527.6 875.9 1528.0 873.9 1528.4 872.3 1528.8 874.0 1529.2 874.9 1529.6 869.8 1530.0 870.1 1530.4 871.3 1530.8 869.2 1531.2 869.1 1531.6 868.6 1532.0 869.1 1532.4 868.2 1532.8 867.5 1532.8 867.4 1533.2 863.5 1533.6 858.3 1534.0 859.7 1534.4 856.9 1534.8 854.1 1535.2 850.2 1535.5 853.2 1535.6 847.3 1536.0 850.2 1536.4 849.0 1536.8 848.6 1537.2 848.6 1537.6 846.5 1538.0 845.7 1538.4 845.0 1538.8 845.0 1538.8 845.0 1539.2 845.6 1539.6 845.1 1540.0 845.2 1540.4 848.7 1540.8 851.0 1541.2 849.5 1541.6 852.0 1542.0 854.6 1542.1 855.9 1542.4 857.2 1542.8 860.1 1543.2 860.3 1543.6 863.4 1544.0 866.9 1544.4 866.4 1544.8 872.2 1545.2 869.5 1545.6 871.2 1546.0 868.4 1546.0 871.2 1546.4 870.5 1546.8 870.3 1547.2 871.8 1547.6 869.6 1548.0 871.7 1548.4 868.2 1548.8 870.5 1549.2 873.4 1549.6 871.5 1550.0 872.3 1550.4 869.9 1550.8 869.3 1551.2 873.5 1551.6 872.9 1552.0 872.6 1552.4 871.3 1552.8 873.1 1553.2 870.7 1553.6 872.4 1554.0 872.3 1554.4 869.9 1554.8 873.5 1555.2 871.5 1555.6 872.6 1556.0 869.0 1556.4 869.5 1556.6 870.6 1556.8 872.1 1557.2 873.1 1557.6 871.8 1558.0 870.8 1558.4 871.8 1558.8 870.3 1559.2 870.7 1559.6 870.7 1560.0 868.7 1560.4 870.1 1560.8 866.8 1561.2 867.3 1561.6 869.2 1562.0 866.6 1562.4 867.9 1562.8 866.9 1563.2 865.7 1563.2 868.4 1563.6 865.8 1564.0 862.7 1564.4 860.9 1564.8 859.6 1565.2 854.7 1565.6 856.3 1566.0 851.9 1566.4 847.1 1566.8 846.2 1567.2 848.4 1567.2 846.5 1567.6 848.2 1568.0 843.5 1568.4 842.9 1568.8 843.9 1569.2 842.9 1569.6 837.0 1570.0 838.8 1570.4 835.0 1570.8 835.3 1571.2 834.2 1571.6 835.2 1571.8 835.0 1572.0 834.9 1572.4 836.6 1572.8 836.9 1573.2 836.5 1573.6 834.9 1574.0 839.4 1574.4 836.5 1574.8 840.0 1575.2 843.7 1575.6 845.2 1576.0 845.4 1576.4 847.5 1576.4 846.5 1576.8 846.0 1577.2 848.3 1577.6 852.0 1578.0 850.3 1578.4 851.9 1578.8 853.3 1579.2 851.3 1579.6 852.9 1580.0 853.1 1580.4 857.1 1580.8 856.9 1581.2 856.4 1581.6 857.2 1581.7 860.5 1582.0 861.3 1582.4 861.4 1582.8 861.6 1583.2 863.2 1583.6 863.2 1584.0 864.5 1584.4 864.0 1584.8 863.8 1585.2 864.9 1585.6 867.2 1586.0 870.0 1586.4 866.6 1586.8 866.8 1587.2 870.1 1587.6 870.5 1588.0 868.6 1588.3 869.0 1588.4 869.1 1588.8 870.8 1589.2 875.3 1589.6 869.6 1590.0 871.4 1590.4 870.4 1590.8 871.6 1591.2 872.3 1591.6 872.3 1592.0 870.5 1592.4 870.7 1592.8 873.9 1593.2 873.0 1593.6 873.0 1594.0 873.8 1594.4 871.9 1594.8 875.1 1595.2 872.0 1595.6 871.7 1596.0 872.0 1596.4 873.4 1596.8 877.8 1597.2 873.8 1597.6 874.2 1598.0 876.2 1598.4 873.3 1598.8 871.6 1598.9 872.8 1599.2 873.2 1599.6 871.1 1600.0 873.1 1600.4 873.4 1600.8 876.2 1601.2 873.9 1601.6 872.5 1602.0 871.0 1602.4 870.3 1602.8 868.1 1603.2 870.3 1603.6 866.5 1604.0 869.3 1604.4 871.7 1604.8 868.1 1605.2 869.0 1605.6 866.6 1606.0 864.8 1606.4 867.8 1606.8 867.2 1607.2 867.5 1607.5 867.4 1607.6 867.5 1608.0 867.3 1608.4 868.4 1608.8 869.9 1609.2 868.4 1609.6 869.5 1610.0 872.6 1610.4 872.5 1610.8 872.2 1611.2 870.7 1611.6 873.1 1612.0 876.1 1612.1 873.1 1612.4 873.5 1612.8 872.3 1613.2 873.5 1613.6 873.6 1614.0 874.0 1614.4 872.4 1614.8 871.5 1615.2 876.4 1615.6 873.2 1616.0 871.4 1616.4 872.3 1616.8 873.2 1617.2 873.9 1617.6 872.5 1618.0 871.4 1618.4 872.5 1618.8 869.4 1619.2 870.0 1619.6 873.3 1620.0 871.6 1620.4 871.2 1620.8 870.9 1621.2 871.2 1621.3 871.3 1621.6 871.3 1622.0 872.6 1622.4 870.4 1622.8 871.5 1623.2 871.1 1623.6 870.5 1624.0 875.0 1624.4 874.6 1624.8 873.0 1625.2 870.9 1625.6 873.8 1626.0 874.4 1626.4 873.0 1626.8 871.7 1627.2 877.2 1627.6 872.5 1628.0 876.5 1628.4 873.9 1628.8 874.5 1629.2 876.7 1629.3 873.3 1629.6 874.6 1630.0 874.9 1630.4 876.7 1630.8 876.3 1631.2 874.7 1631.6 872.4 1632.0 875.9 1632.4 873.1 1632.8 873.9 1633.2 870.3 1633.6 872.6 1634.0 873.4 1634.4 871.7 1634.8 873.0 1635.2 873.8 1635.6 874.0 1636.0 870.7 1636.4 870.0 1636.8 870.3 1637.2 871.3 1637.2 871.3 1637.6 871.5 1638.0 869.6 1638.4 872.7 1638.8 871.6 1639.2 869.3 1639.6 872.4 1640.0 873.2 1640.4 873.5 1640.8 872.9 1641.2 874.2 1641.6 874.4 1642.0 873.4 1642.4 874.4 1642.8 872.5 1643.2 876.1 1643.6 873.2 1644.0 875.2 1644.4 873.9 1644.8 877.4 1645.2 876.4 1645.6 874.6 1646.0 876.7 1646.4 876.0 1646.4 877.4 1646.8 876.4 1647.2 876.3 1647.6 876.0 1648.0 873.7 1648.4 877.1 1648.8 877.5 1649.2 874.8 1649.6 877.1 1650.0 878.2 1650.4 877.8 1650.8 878.4 1651.2 877.8 1651.6 875.7 1652.0 879.8 1652.4 876.5 1652.8 875.5 1653.2 878.8 1653.6 875.4 1654.0 877.8 1654.4 875.3 1654.8 878.3 1655.2 878.5 1655.6 875.8 1656.0 877.4 1656.4 877.7 1656.8 876.4 1657.0 877.4 1657.2 876.4 1657.6 875.3 1658.0 874.5 1658.4 876.0 1658.8 875.7 1659.2 875.4 1659.6 874.1 1660.0 873.5 1660.4 870.9 1660.8 873.1 1661.2 868.1 1661.6 869.5 1662.0 867.0 1662.4 865.8 1662.8 868.5 1663.2 865.2 1663.6 861.7 1663.6 864.1 1664.0 862.0 1664.4 864.8 1664.8 859.8 1665.2 860.3 1665.6 858.6 1666.0 857.6 1666.4 858.8 1666.8 858.7 1667.2 858.0 1667.6 855.1 1668.0 853.6 1668.4 854.6 1668.8 852.5 1668.9 855.4 1669.2 850.2 1669.6 852.3 1670.0 848.9 1670.4 848.5 1670.8 846.8 1671.2 846.4 1671.6 848.5 1672.0 845.8 1672.4 844.6 1672.8 843.7 1673.2 843.6 1673.6 844.1 1674.0 845.0 1674.4 844.1 1674.8 844.0 1674.8 844.0 1675.2 844.6 1675.6 844.5 1676.0 847.1 1676.4 846.7 1676.8 848.7 1677.2 853.3 1677.6 854.4 1678.0 855.7 1678.2 855.3 1678.4 858.2 1678.8 862.4 1679.2 861.5 1679.6 863.2 1680.0 863.8 1680.4 867.3 1680.8 866.3 1681.2 872.7 1681.6 869.5 1682.0 870.0 1682.1 871.9 1682.4 868.7 1682.8 869.8 1683.2 870.3 1683.6 871.5 1684.0 875.0 1684.4 871.3 1684.8 877.0 1685.2 875.0 1685.6 876.4 1686.0 874.6 1686.4 872.2 1686.8 873.0 1687.2 877.2 1687.6 874.9 1688.0 876.2 1688.4 876.4 1688.8 878.4 1689.2 878.3 1689.6 876.9 1690.0 876.7 1690.4 878.2 1690.8 875.0 1691.2 875.6 1691.4 874.7 1691.6 875.3 1692.0 874.3 1692.4 878.0 1692.8 876.3 1693.2 879.5 1693.6 876.2 1694.0 877.2 1694.4 876.0 1694.8 877.9 1695.2 877.6 1695.6 876.2 1696.0 877.2 1696.4 875.5 1696.8 875.8 1697.2 875.1 1697.6 878.1 1698.0 875.2 1698.4 875.0 1698.8 878.2 1699.2 876.5 1699.6 874.5 1700.0 874.9 1700.4 875.7 1700.8 874.9 1701.2 876.4 1701.6 874.7 1702.0 874.7 1702.4 877.8 1702.8 879.2 1703.2 878.6 1703.6 875.9 1704.0 877.4 1704.4 876.3 1704.6 879.4 1704.8 877.0 1705.2 877.4 1705.6 879.6 1706.0 878.7 1706.4 877.0 1706.8 875.3 1707.2 876.4 1707.6 874.9 1708.0 879.8 1708.4 877.1 1708.8 878.6 1709.2 878.0 1709.6 876.7 1710.0 878.4 1710.4 878.7 1710.8 878.2 1711.2 878.4 1711.6 879.2 1712.0 877.4 1712.4 878.8 1712.8 878.5 1713.2 878.2 1713.6 879.7 1714.0 876.3 1714.4 877.7 1714.8 879.6 1715.2 882.5 1715.6 881.1 1716.0 879.1 1716.4 882.6 1716.8 880.7 1717.2 879.5 1717.6 880.4 1717.8 882.9 1718.0 881.9 1718.4 879.5 1718.8 879.0 1719.2 881.6 1719.6 878.9 1720.0 880.0 1720.4 881.9 1720.8 879.2 1721.2 879.6 1721.6 881.2 1722.0 880.4 1722.4 882.9 1722.8 880.9 1723.2 881.9 1723.6 882.0 1724.0 880.1 1724.4 882.3 1724.8 883.1 1725.2 880.8 1725.6 880.2 1726.0 880.7 1726.4 883.3 1726.8 881.1 1727.2 880.3 1727.6 879.2 1728.0 881.1 1728.4 879.1 1728.8 882.6 1729.2 879.9 1729.6 879.2 1730.0 882.7 1730.4 881.7 1730.8 881.9 1731.0 879.7 1731.2 882.3 1731.6 881.6 1732.0 881.4 1732.4 882.4 1732.8 882.7 1733.2 880.9 1733.6 883.3 1734.0 881.6 1734.4 880.6 1734.8 881.6 1735.2 880.9 1735.6 882.8 1736.0 880.7 1736.4 879.9 1736.8 880.0 1737.2 881.1 1737.6 877.2 1738.0 877.5 1738.4 878.9 1738.8 879.9 1739.2 879.9 1739.6 878.3 1740.0 876.2 1740.4 875.1 1740.8 877.9 1741.2 877.3 1741.6 878.2 1742.0 879.1 1742.4 876.0 1742.8 879.3 1743.2 876.3 1743.6 876.5 1744.0 876.9 1744.2 873.6 1744.4 880.1 1744.8 875.7 1745.2 877.7 1745.6 874.7 1746.0 873.0 1746.4 873.6 1746.8 873.2 1747.2 871.7 1747.6 870.5 1748.0 875.2 1748.4 872.7 1748.8 873.7 1749.2 875.1 1749.6 872.0 1750.0 872.6 1750.4 873.8 1750.8 872.5 1751.2 871.9 1751.6 869.7 1752.0 869.4 1752.4 871.7 1752.8 869.8 1753.2 871.3 1753.6 870.7 1754.0 869.9 1754.4 870.0 1754.8 869.0 1754.8 870.5 1755.2 865.0 1755.6 866.8 1756.0 868.0 1756.4 869.7 1756.8 864.1 1757.2 865.4 1757.6 866.5 1758.0 867.4 1758.4 864.2 1758.8 861.3 1759.2 864.6 1759.6 864.9 1760.0 864.1 1760.4 863.7 1760.8 863.7 1761.2 861.3 1761.6 863.0 1762.0 862.8 1762.4 862.1 1762.7 862.1 1762.8 862.0 1763.2 862.5 1763.6 861.7 1764.0 864.3 1764.4 863.3 1764.8 863.0 1765.2 865.1 1765.6 864.3 1766.0 868.3 1766.4 867.8 1766.8 865.1 1767.2 866.3 1767.6 864.4 1768.0 869.3 1768.4 869.4 1768.8 869.6 1769.2 867.6 1769.6 872.7 1770.0 872.7 1770.4 870.4 1770.6 870.3 1770.8 870.6 1771.2 872.9 1771.6 872.4 1772.0 871.9 1772.4 871.9 1772.8 870.4 1773.2 871.8 1773.6 870.2 1774.0 874.6 1774.4 873.1 1774.8 873.4 1775.2 872.9 1775.6 872.2 1776.0 870.7 1776.4 872.7 1776.8 873.4 1777.2 873.8 1777.6 876.0 1778.0 876.2 1778.4 873.5 1778.5 873.7 1778.8 876.9 1779.2 872.2 1779.6 875.6 1780.0 877.5 1780.4 876.8 1780.8 876.1 1781.1 877.9 1781.2 875.9 1781.6 875.5 1782.0 877.2 1782.4 876.6 1782.8 877.6 1783.2 878.5 1783.6 878.7 1784.0 872.7 1784.4 876.9 1784.8 877.1 1785.2 877.4 1785.6 875.4 1786.0 875.3 1786.4 876.2 1786.8 874.2 1787.2 872.7 1787.6 876.2 1788.0 876.0 1788.4 872.9 1788.8 876.3 1789.2 873.0 1789.6 874.8 1790.0 872.0 1790.4 873.8 1790.8 872.5 1791.2 872.7 1791.6 873.8 1792.0 874.1 1792.4 871.5 1792.8 875.2 1793.2 871.3 1793.6 870.1 1794.0 871.9 1794.4 875.3 1794.8 871.4 1795.2 870.0 1795.6 871.0 1796.0 872.4 1796.4 872.5 1796.8 872.2 1797.1 872.1 1797.2 872.3 1797.6 872.1 1798.0 872.5 1798.4 872.1 1798.8 872.7 1799.2 874.0 1799.6 872.8 1800.0 870.7 1800.4 873.7 1800.8 874.7 1801.2 872.8 1801.6 875.5 1802.0 874.2 1802.4 870.4 1802.8 872.0 1803.2 871.1 1803.6 872.1 1804.0 871.7 1804.4 873.4 1804.8 874.2 1805.2 870.2 1805.6 874.7 1806.0 873.4 1806.4 875.2 1806.8 873.4 1807.2 870.4 1807.6 873.9 1808.0 874.7 1808.4 874.9 1808.8 874.3 1809.2 872.9 1809.6 873.2 1810.0 873.5 1810.4 873.3 1810.8 875.1 1811.2 875.7 1811.6 876.5 1812.0 876.0 1812.4 875.3 1812.8 876.6 1813.2 875.7 1813.2 874.1 1813.6 877.2 1814.0 875.9 1814.4 875.9 1814.8 878.1 1815.2 877.2 1815.6 877.5 1816.0 879.7 1816.4 878.6 1816.8 878.2 1817.2 877.2 1817.6 874.0 1818.0 873.4 1818.4 875.9 1818.8 881.2 1819.2 877.4 1819.6 877.1 1820.0 878.8 1820.4 879.9 1820.8 878.8 1821.2 879.3 1821.6 879.1 1822.0 878.0 1822.4 877.9 1822.8 875.3 1823.2 878.8 1823.6 878.9 1824.0 879.6 1824.4 880.7 1824.8 877.1 1825.2 877.5 1825.5 880.4 1825.6 876.8 1826.0 879.7 1826.4 879.5 1826.8 880.3 1827.2 878.2 1827.6 880.5 1828.0 877.7 1828.4 880.8 1828.8 879.6 1829.2 879.0 1829.6 880.0 1830.0 881.7 1830.4 878.1 1830.8 879.5 1831.2 877.9 1831.6 881.3 1832.0 881.0 1832.4 878.5 1832.8 879.5 1833.2 878.2 1833.6 880.0 1834.0 881.6 1834.4 879.1 1834.8 880.1 1835.2 877.5 1835.6 882.8 1836.0 878.3 1836.4 880.4 1836.8 879.7 1837.2 882.0 1837.6 880.0 1837.8 879.8 1838.0 878.4 1838.4 882.4 1838.8 877.9 1839.2 883.2 1839.6 883.0 1840.0 884.0 1840.4 879.8 1840.8 880.4 1841.2 882.0 1841.6 883.6 1842.0 880.5 1842.4 884.3 1842.8 880.8 1843.2 883.9 1843.6 883.1 1844.0 883.6 1844.4 883.4 1844.8 884.8 1845.2 881.2 1845.6 885.8 1846.0 883.5 1846.4 884.2 1846.8 883.5 1847.2 885.9 1847.6 885.6 1848.0 884.6 1848.4 883.8 1848.8 888.2 1849.2 885.1 1849.6 886.4 1850.0 885.0 1850.1 887.2 1850.4 887.7 1850.8 887.2 1851.2 888.1 1851.6 888.2 1852.0 882.2 1852.4 884.5 1852.8 883.6 1853.2 886.5 1853.6 885.9 1854.0 883.5 1854.4 887.9 1854.8 885.6 1855.2 887.8 1855.6 884.2 1856.0 886.5 1856.4 887.1 1856.8 884.5 1857.2 885.5 1857.6 884.9 1858.0 884.2 1858.4 885.3 1858.8 881.7 1859.2 885.7 1859.6 884.7 1860.0 882.5 1860.0 885.5 1860.4 881.2 1860.8 882.3 1861.2 885.8 1861.6 884.5 1862.0 882.3 1862.4 885.2 1862.8 882.1 1863.2 881.9 1863.6 881.9 1864.0 882.5 1864.4 881.8 1864.8 879.1 1865.2 879.5 1865.6 880.7 1866.0 881.2 1866.4 879.6 1866.8 880.3 1867.2 879.9 1867.6 877.4 1868.0 878.2 1868.4 878.7 1868.6 878.2 1868.8 878.4 1869.2 877.5 1869.6 881.6 1870.0 877.5 1870.4 880.0 1870.8 880.0 1871.2 877.1 1871.6 879.6 1872.0 882.0 1872.4 879.7 1872.8 882.6 1873.2 881.1 1873.6 883.9 1874.0 886.0 1874.4 881.2 1874.8 883.9 1875.2 882.7 1875.6 882.6 1876.0 884.5 1876.4 885.1 1876.8 885.8 1877.2 886.0 1877.6 882.0 1878.0 884.8 1878.4 882.3 1878.5 886.1 1878.8 886.9 1879.2 886.0 1879.6 884.6 1880.0 885.9 1880.4 886.4 1880.8 885.8 1881.2 883.8 1881.6 883.9 1882.0 886.1 1882.4 883.9 1882.8 883.8 1883.2 883.3 1883.6 883.9 1884.0 883.5 1884.4 881.9 1884.8 881.5 1885.2 881.3 1885.6 881.7 1886.0 882.1 1886.4 878.8 1886.8 883.2 1887.1 879.0 1887.2 880.8 1887.6 878.8 1888.0 879.5 1888.4 880.0 1888.8 880.8 1889.2 880.2 1889.6 881.0 1890.0 879.0 1890.4 881.9 1890.8 876.8 1891.2 879.5 1891.6 879.5 1892.0 878.1 1892.4 878.7 1892.8 877.3 1893.2 879.1 1893.6 877.8 1894.0 879.5 1894.4 878.8 1894.8 878.7 1895.2 878.3 1895.6 878.0 1895.8 878.2 1896.0 878.4 1896.4 878.1 1896.8 877.5 1897.2 878.0 1897.6 881.0 1898.0 877.3 1898.4 881.0 1898.8 880.5 1899.2 882.8 1899.6 880.1 1900.0 883.7 1900.4 882.0 1900.8 885.1 1901.2 887.5 1901.6 885.1 1902.0 888.9 1902.4 886.4 1902.8 887.8 1903.2 890.5 1903.2 888.5 1903.6 887.9 1904.0 883.6 1904.4 886.1 1904.8 888.1 1905.2 886.5 1905.6 886.3 1906.0 888.7 1906.4 885.9 1906.8 886.5 1907.2 889.4 1907.6 891.6 1908.0 887.4 1908.4 888.8 1908.8 889.6 1909.2 887.8 1909.6 887.6 1910.0 889.6 1910.4 887.4 1910.8 888.0 1911.2 892.1 1911.6 886.2 1912.0 892.3 1912.4 891.5 1912.8 888.3 1913.0 891.1 1913.2 889.6 1913.6 887.8 1914.0 888.4 1914.4 888.1 1914.8 891.6 1915.2 887.2 1915.6 887.0 1916.0 888.3 1916.4 887.8 1916.8 892.1 1917.2 887.9 1917.6 887.5 1918.0 887.3 1918.4 887.2 1918.8 885.2 1919.2 888.3 1919.6 887.0 1920.0 887.6 1920.4 889.7 1920.8 889.0 1921.2 888.5 1921.6 888.0 1921.7 888.1 1922.0 887.9 1922.4 887.8 1922.8 887.9 1923.2 887.3 1923.6 889.9 1924.0 887.2 1924.4 890.6 1924.8 889.3 1925.2 888.5 1925.6 889.6 1926.0 888.4 1926.4 888.5 1926.8 890.7 1927.2 888.7 1927.6 895.8 1927.8 887.3 1928.0 887.1 1928.4 891.1 1928.8 888.1 1929.2 887.7 1929.6 886.8 1930.0 887.7 1930.4 886.5 1930.8 888.5 1931.2 886.0 1931.6 886.6 1932.0 887.3 1932.4 886.4 1932.8 885.2 1933.2 884.8 1933.6 885.0 1934.0 885.6 1934.0 885.6 1934.4 885.3 1934.8 885.2 1935.2 885.8 1935.6 886.1 1936.0 887.3 1936.4 886.6 1936.8 885.7 1937.2 884.4 1937.6 887.1 1938.0 886.5 1938.4 886.8 1938.8 885.7 1939.2 887.8 1939.6 888.9 1940.0 887.6 1940.4 889.1 1940.8 888.4 1941.2 888.1 1941.6 890.7 1942.0 888.6 1942.4 889.7 1942.8 887.2 1943.2 891.1 1943.6 889.3 1944.0 889.9 1944.4 889.6 1944.8 890.9 1945.1 889.6 1945.2 888.9 1945.6 890.9 1946.0 891.2 1946.4 890.1 1946.8 892.0 1947.2 892.7 1947.6 890.0 1948.0 891.9 1948.4 892.1 1948.8 889.0 1949.2 889.6 1949.6 888.1 1950.0 893.8 1950.4 891.1 1950.8 891.2 1951.2 892.9 1951.6 894.5 1952.0 892.8 1952.4 894.7 1952.8 894.3 1953.2 898.2 1953.6 890.9 1954.0 891.8 1954.4 891.3 1954.8 893.6 1955.2 891.3 1955.6 893.9 1956.0 889.8 1956.4 894.4 1956.8 893.7 1957.2 895.3 1957.4 894.0 1957.6 893.2 1958.0 893.6 1958.4 889.9 1958.8 892.7 1959.2 893.4 1959.6 896.1 1960.0 893.5 1960.4 890.8 1960.8 896.9 1961.2 891.9 1961.6 893.6 1962.0 892.0 1962.4 888.0 1962.8 894.9 1963.2 892.9 1963.6 895.0 1964.0 892.8 1964.4 894.8 1964.8 896.4 1965.2 894.9 1965.6 893.8 1966.0 893.2 1966.4 894.1 1966.8 892.0 1967.2 894.3 1967.6 895.2 1968.0 891.8 1968.4 892.2 1968.8 897.1 1969.2 894.2 1969.6 897.1 1969.7 895.1 1970.0 895.3 1970.4 894.5 1970.8 896.9 1971.2 896.4 1971.6 894.1 1972.0 891.2 1972.4 892.2 1972.8 894.0 1973.2 892.6 1973.6 895.1 1974.0 894.9 1974.4 895.0 1974.8 895.1 1975.2 894.5 1975.6 894.8 1976.0 894.5 1976.4 892.4 1976.8 894.1 1977.2 894.1 1977.6 895.6 1978.0 893.5 1978.4 892.7 1978.8 897.2 1979.2 895.4 1979.6 895.9 1980.0 896.8 1980.4 893.7 1980.8 895.9 1981.2 894.5 1981.6 892.4 1982.0 894.6 1982.1 894.5 1982.4 895.1 1982.8 893.8 1983.2 893.8 1983.6 892.4 1984.0 895.5 1984.4 891.0 1984.8 894.2 1985.2 893.4 1985.6 893.5 1986.0 894.6 1986.4 893.7 1986.8 891.5 1987.2 891.0 1987.6 891.4 1988.0 893.0 1988.4 893.8 1988.8 893.8 1989.2 894.4 1989.6 894.7 1990.0 893.8 1990.4 892.2 1990.8 893.8 1991.2 893.5 1991.6 897.3 1992.0 896.2 1992.4 893.3 1992.8 894.5 1993.2 896.7 1993.6 895.1 1994.0 896.4 1994.4 895.2 1994.4 895.2 1994.8 895.8 1995.2 893.9 1995.6 893.7 1996.0 894.3 1996.4 896.6 1996.8 895.5 1997.2 892.9 1997.6 896.6 1998.0 895.8 1998.4 896.5 1998.8 895.5 1999.2 895.1 1999.6 891.9 2000.0 895.5 2000.4 892.2 2000.8 894.8 2001.2 898.0 2001.6 895.5 2002.0 895.7 2002.4 894.4 2002.8 895.7 2003.2 893.2 2003.6 894.8 2004.0 895.7 2004.4 894.9 2004.8 893.5 2005.2 891.5 2005.6 894.3 2006.0 894.0 2006.4 894.4 2006.7 896.1 2006.8 892.5 2007.2 896.6 2007.6 893.2 2008.0 899.4 2008.4 897.5 2008.8 896.5 2009.2 894.2 2009.6 895.8 2010.0 895.9 2010.4 894.7 2010.8 894.8 2011.2 897.5 2011.6 896.0 2012.0 898.9 2012.4 897.8 2012.8 895.8 2013.2 897.0 2013.6 896.3 2014.0 894.1 2014.4 897.0 2014.8 894.8 2015.2 898.4 2015.6 897.9 2016.0 892.4 2016.4 896.5 2016.8 894.6 2017.2 899.0 2017.6 896.2 2018.0 896.9 2018.4 897.4 2018.8 894.9 2019.2 896.7 2019.6 898.6 2020.0 895.6 2020.4 897.5 2020.8 896.2 2021.2 900.2 2021.6 899.8 2022.0 896.6 2022.4 896.3 2022.8 897.5 2022.8 896.5 2023.2 896.4 2023.6 895.7 2024.0 899.4 2024.4 900.2 2024.8 897.5 2025.2 894.1 2025.6 894.4 2026.0 897.4 2026.4 895.1 2026.8 895.7 2027.2 896.8 2027.6 895.9 2028.0 898.5 2028.4 894.5 2028.8 896.8 2029.2 894.7 2029.6 896.8 2030.0 893.6 2030.4 895.7 2030.8 898.3 2031.2 895.4 2031.6 896.9 2032.0 895.6 2032.4 896.7 2032.8 895.9 2033.2 897.3 2033.6 894.7 2034.0 896.1 2034.4 897.6 2034.8 895.2 2035.2 897.6 2035.6 897.8 2036.0 896.7 2036.4 893.0 2036.8 899.0 2037.2 894.3 2037.6 896.3 2038.0 896.9 2038.4 898.9 2038.8 896.3 2039.2 894.8 2039.6 897.2 2040.0 898.7 2040.4 894.5 2040.5 897.1" fill="none" stroke="#00B050" stroke-width="7" stroke-linejoin="round" stroke-linecap="round" shape-rendering="crispEdges"/>
<path d="M627.5 686.1 627.9 685.4 628.3 681.6 628.7 682.9 629.1 679.7 629.5 676.4 629.9 676.5 630.3 677.1 630.7 675.3 631.1 671.6 631.5 673.0 631.9 670.5 632.3 670.0 632.3 669.8 632.7 666.1 633.1 667.2 633.5 664.4 633.9 666.5 634.3 663.9 634.7 661.6 635.1 658.7 635.5 659.0 635.9 657.9 636.3 654.3 636.7 658.4 637.1 654.1 637.5 654.7 637.6 649.8 637.9 653.0 638.3 646.6 638.7 646.0 639.1 646.1 639.5 643.5 639.9 637.8 640.3 637.9 640.7 639.2 641.1 639.4 641.5 635.8 641.9 632.3 642.0 633.6 642.3 629.3 642.7 630.3 643.1 625.7 643.5 626.2 643.9 624.4 644.3 624.4 644.7 621.1 645.1 622.1 645.5 618.6 645.9 619.0 646.3 617.9 646.4 613.5 646.7 615.8 647.1 614.8 647.5 612.5 647.9 613.1 648.3 609.6 648.7 611.9 649.1 611.0 649.5 609.9 649.9 612.6 650.3 608.5 650.7 607.5 651.1 605.7 651.5 606.8 651.9 605.5 652.3 606.4 652.6 606.0 652.7 606.0 653.1 607.3 653.5 607.8 653.9 607.7 654.3 610.5 654.7 609.2 655.1 611.7 655.5 611.7 655.9 611.5 656.3 614.9 656.7 617.0 657.0 615.8 657.1 614.9 657.5 617.1 657.9 615.5 658.3 619.8 658.7 620.6 659.1 627.2 659.5 624.7 659.9 624.9 660.3 630.5 660.7 630.6 661.1 632.7 661.4 634.3 661.5 634.8 661.9 635.7 662.3 639.7 662.7 641.0 663.1 641.3 663.5 643.9 663.9 644.7 664.3 648.7 664.7 651.5 665.1 653.5 665.5 655.5 665.8 655.8 665.9 659.0 666.3 658.3 666.7 660.8 667.1 662.4 667.5 665.2 667.9 666.9 668.3 672.5 668.7 671.9 669.1 670.2 669.3 673.0 669.5 672.2 669.9 677.4 670.3 679.6 670.7 678.1 671.1 681.2 671.5 681.1 671.9 683.4 672.3 686.7 672.7 684.5 673.1 684.2 673.5 688.3 673.9 688.9 674.3 690.0 674.6 691.1 674.7 688.6 675.1 687.3 675.5 692.8 675.9 691.1 676.3 690.5 676.7 691.2 677.1 695.5 677.5 694.6 677.9 695.3 678.3 696.8 678.7 694.9 679.1 694.6 679.5 695.6 679.9 695.6 680.3 697.4 680.7 696.9 681.1 698.8 681.5 698.4 681.9 699.4 682.3 701.0 682.7 702.6 683.1 703.2 683.4 701.2 683.5 701.4 683.9 700.6 684.3 703.4 684.7 704.7 685.1 701.6 685.5 704.2 685.9 702.8 686.3 703.5 686.7 704.4 687.1 703.8 687.5 706.2 687.9 702.7 688.3 704.3 688.7 705.5 689.1 704.3 689.5 706.8 689.9 704.0 690.3 706.7 690.7 704.5 691.1 706.7 691.5 707.8 691.9 710.6 692.2 708.8 692.3 709.7 692.7 707.2 693.1 710.5 693.5 706.7 693.9 706.6 694.3 705.0 694.7 707.3 695.1 708.6 695.5 705.9 695.9 706.3 696.3 706.1 696.7 706.2 697.1 705.7 697.5 704.4 697.9 708.7 698.3 703.3 698.7 704.9 699.1 706.8 699.3 707.8 699.5 705.8 699.9 705.3 700.3 705.1 700.7 703.7 701.1 704.4 701.5 700.9 701.9 698.5 702.3 697.6 702.7 696.7 703.1 696.5 703.5 695.0 703.7 690.7 703.9 687.7 704.3 684.2 704.7 685.2 705.1 675.9 705.5 671.8 705.9 668.6 706.3 659.4 706.3 660.2 706.7 654.1 707.1 647.6 707.5 643.7 707.9 640.0 708.1 639.3 708.3 639.7 708.7 640.8 709.1 643.8 709.5 647.5 709.9 649.3 710.3 655.4 710.7 658.9 710.7 663.6 711.1 670.1 711.5 674.8 711.9 680.9 712.3 691.1 712.5 691.0 712.7 695.6 713.1 698.8 713.5 700.8 713.9 699.8 714.3 700.8 714.7 703.0 715.1 705.3 715.5 704.9 715.9 708.9 716.0 708.2 716.3 707.3 716.7 707.0 717.1 708.9 717.5 710.4 717.9 705.3 718.3 709.0 718.7 708.3 719.1 707.8 719.5 708.6 719.9 709.5 720.3 712.4 720.7 709.6 721.1 708.9 721.5 707.7 721.9 711.0 722.3 708.6 722.7 709.6 723.0 710.9 723.1 709.9 723.5 708.9 723.9 708.6 724.3 709.3 724.7 706.7 725.1 705.8 725.5 704.6 725.9 702.0 726.3 701.6 726.6 699.6 726.7 701.5 727.1 698.7 727.5 693.0 727.9 693.1 728.3 692.9 728.7 688.6 729.1 686.7 729.5 686.3 729.9 685.0 730.0 685.1 730.3 685.4 730.7 686.4 731.1 685.5 731.5 685.9 731.9 691.7 732.3 689.6 732.7 692.2 733.1 697.8 733.5 694.6 733.6 692.2 733.9 701.2 734.3 700.1 734.7 700.8 735.1 706.6 735.5 703.8 735.9 708.0 736.3 707.1 736.7 707.8 737.1 709.9 737.1 710.3 737.5 711.4 737.9 711.6 738.3 709.2 738.7 710.2 739.1 713.7 739.5 711.9 739.9 711.3 740.3 713.4 740.7 713.6 741.1 713.5 741.5 710.6 741.5 710.9 741.9 712.7 742.3 713.3 742.7 709.4 743.1 710.4 743.5 710.5 743.9 712.3 744.3 708.7 744.7 714.4 745.1 710.0 745.5 710.5 745.9 712.8 746.3 709.9 746.7 709.8 747.1 708.1 747.5 708.9 747.7 706.3 747.9 707.8 748.3 707.8 748.7 705.9 749.1 708.9 749.5 707.9 749.9 704.0 750.3 708.1 750.7 705.1 751.1 707.4 751.5 704.9 751.9 705.4 752.3 706.4 752.7 708.6 753.1 702.8 753.5 704.3 753.9 704.0 753.9 706.3 754.3 703.6 754.7 703.9 755.1 704.5 755.5 702.5 755.9 699.4 756.3 698.0 756.7 697.0 757.1 696.3 757.5 693.3 757.9 693.4 758.3 693.2 758.7 690.5 759.1 689.7 759.1 690.9 759.5 690.9 759.9 686.7 760.3 686.5 760.7 689.3 761.1 686.5 761.5 684.6 761.9 685.6 762.3 685.9 762.7 685.1 762.7 685.1 763.1 685.1 763.5 686.7 763.9 684.7 764.3 686.8 764.7 687.9 765.1 687.8 765.5 686.8 765.9 688.9 766.3 688.8 766.7 690.5 767.1 690.4 767.5 690.7 767.9 688.4 768.0 692.3 768.3 691.7 768.7 689.5 769.1 693.9 769.5 695.7 769.9 696.3 770.3 693.8 770.7 697.6 771.1 698.0 771.5 699.5 771.5 696.3 771.9 700.7 772.3 701.4 772.7 701.7 773.1 701.0 773.5 701.1 773.9 703.1 774.3 702.4 774.7 701.2 775.1 702.5 775.5 703.3 775.9 704.2 776.3 703.2 776.7 701.3 777.1 701.8 777.5 703.0 777.9 703.2 778.3 704.3 778.5 699.7 778.7 701.6 779.1 700.9 779.5 704.4 779.9 703.8 780.3 703.1 780.7 703.8 781.1 701.5 781.5 703.1 781.9 702.3 782.3 702.2 782.7 701.7 783.1 703.3 783.5 703.3 783.9 699.2 784.3 700.4 784.7 701.3 785.1 701.9 785.5 698.2 785.9 699.1 786.3 699.9 786.7 703.0 787.1 698.7 787.3 699.4 787.5 699.9 787.9 699.6 788.3 699.7 788.7 699.2 789.1 698.6 789.5 699.0 789.9 698.7 790.3 698.5 790.7 698.3 791.1 695.4 791.5 697.3 791.9 696.9 792.3 697.7 792.7 697.3 793.1 698.1 793.5 695.1 793.9 695.7 794.3 695.7 794.4 695.7 794.7 695.6 795.1 695.5 795.5 695.4 795.9 699.7 796.3 696.2 796.7 698.9 797.1 695.4 797.5 697.5 797.9 696.3 798.3 698.1 798.7 700.4 799.1 701.1 799.5 699.4 799.9 699.0 800.3 698.3 800.5 699.0 800.7 700.5 801.1 695.7 801.5 697.8 801.9 696.6 802.3 699.6 802.7 696.0 803.1 699.1 803.5 695.8 803.9 695.7 804.3 699.5 804.7 698.6 805.1 695.3 805.5 693.7 805.9 694.7 806.3 696.9 806.7 695.6 807.1 693.9 807.5 696.0 807.9 697.0 808.3 692.8 808.7 694.2 809.1 692.8 809.3 695.7 809.5 694.0 809.9 692.5 810.3 690.7 810.7 694.2 811.1 692.4 811.5 692.8 811.9 692.1 812.3 692.8 812.7 689.1 813.1 690.3 813.5 691.8 813.9 693.9 814.3 691.2 814.7 690.3 815.1 689.1 815.5 688.7 815.9 689.0 816.3 687.7 816.7 688.8 817.1 688.1 817.5 690.8 817.9 687.0 818.1 688.7 818.3 686.0 818.7 687.5 819.1 688.9 819.5 683.1 819.9 681.1 820.3 683.4 820.7 680.4 821.1 678.6 821.5 678.3 821.9 676.7 822.3 676.9 822.7 674.3 823.1 671.5 823.5 669.6 823.9 667.7 824.3 667.9 824.5 671.0 824.7 666.7 825.1 668.5 825.5 669.7 825.9 668.1 826.3 669.0 826.7 667.2 827.1 668.0 827.5 664.0 827.9 663.1 828.3 667.0 828.7 664.0 829.1 663.2 829.5 661.8 829.9 664.9 830.3 662.8 830.7 662.5 831.1 660.6 831.5 661.4 831.9 660.9 832.3 661.1 832.5 661.1 832.7 661.1 833.1 661.1 833.5 663.4 833.9 662.3 834.3 667.5 834.7 669.5 835.1 666.7 835.5 673.4 835.9 671.4 836.3 676.7 836.7 675.4 837.1 679.1 837.5 677.4 837.9 681.0 838.2 680.6 838.3 683.1 838.7 682.1 839.1 679.9 839.5 682.2 839.9 681.0 840.3 682.7 840.7 685.2 841.1 685.5 841.5 683.6 841.9 682.3 842.3 684.0 842.7 687.4 843.1 684.1 843.5 682.2 843.9 682.5 844.3 683.0 844.7 686.7 845.1 684.6 845.5 684.0 845.9 685.8 846.3 686.9 846.7 685.1 847.0 684.1 847.1 685.7 847.5 686.5 847.9 682.3 848.3 682.2 848.7 687.0 849.1 683.8 849.5 682.8 849.9 679.0 850.3 678.6 850.7 678.6 851.1 679.8 851.5 676.7 851.9 672.7 852.3 676.4 852.7 675.1 853.1 672.6 853.5 668.1 853.9 667.5 854.3 666.8 854.7 666.3 855.1 667.7 855.5 661.7 855.9 661.7 856.3 661.9 856.7 660.2 856.7 660.3 857.1 658.1 857.5 659.9 857.9 658.8 858.3 659.1 858.7 659.8 859.1 657.5 859.5 657.3 859.9 657.5 860.3 655.9 860.7 656.6 861.1 653.1 861.5 654.0 861.9 655.7 862.3 654.7 862.7 655.1 863.1 651.1 863.5 651.6 863.9 651.6 864.3 650.7 864.7 649.6 864.7 652.2 865.1 648.0 865.5 646.6 865.9 646.0 866.3 643.6 866.7 640.4 867.1 639.8 867.5 634.7 867.9 629.8 868.3 624.8 868.7 624.0 869.1 616.6 869.5 613.5 869.5 612.1 869.9 609.8 870.3 598.9 870.7 584.7 871.1 577.3 871.5 564.6 871.9 557.4 872.0 557.8 872.3 549.2 872.7 544.5 873.1 536.9 873.5 531.7 873.9 526.0 874.3 524.5 874.4 524.3 874.7 525.1 875.1 526.9 875.5 531.1 875.9 536.8 876.3 541.5 876.7 545.0 877.1 551.5 877.5 555.3 877.6 557.1 877.9 562.7 878.3 564.3 878.7 569.9 879.1 578.7 879.5 582.9 879.9 591.0 880.3 594.7 880.7 597.3 880.8 596.7 881.1 597.3 881.5 598.1 881.9 600.0 882.3 602.1 882.7 601.7 883.1 605.6 883.5 605.5 883.9 602.7 884.0 600.5 884.3 606.2 884.7 601.5 885.1 597.1 885.5 596.6 885.9 596.7 886.3 595.3 886.7 591.2 887.1 588.5 887.5 585.4 887.9 582.1 888.3 574.5 888.7 572.9 888.8 571.6 889.1 570.7 889.5 567.2 889.9 565.2 890.3 564.7 890.7 558.1 891.1 557.6 891.5 554.5 891.9 553.9 892.1 554.0 892.3 554.2 892.7 556.3 893.1 561.3 893.5 562.5 893.9 570.1 894.3 578.0 894.7 579.7 895.1 586.9 895.3 590.2 895.5 592.3 895.9 596.6 896.3 601.9 896.7 606.0 897.1 611.2 897.5 614.7 897.9 616.1 898.3 620.3 898.5 620.7 898.7 623.4 899.1 623.6 899.5 624.8 899.9 625.3 900.3 626.9 900.7 625.7 901.1 627.5 901.5 626.2 901.7 626.8 901.9 625.4 902.3 629.5 902.7 624.8 903.1 619.5 903.5 617.0 903.9 614.4 904.3 609.4 904.7 607.7 904.9 605.5 905.1 604.9 905.5 594.9 905.9 596.3 906.3 591.0 906.7 587.6 907.1 580.3 907.5 575.4 907.9 570.2 908.3 568.5 908.7 564.2 909.1 558.0 909.5 557.1 909.8 556.5 909.9 554.2 910.3 554.1 910.7 553.4 911.1 551.8 911.5 549.4 911.9 553.1 912.3 551.0 912.7 550.5 913.1 548.2 913.5 548.4 913.9 545.7 914.3 545.0 914.6 543.9 914.7 543.8 915.1 533.7 915.5 519.7 915.9 506.6 916.3 489.5 916.7 480.4 917.0 477.7 917.1 477.9 917.5 479.5 917.9 482.9 918.3 490.0 918.7 494.9 919.1 503.4 919.5 513.4 919.9 522.0 920.3 527.3 920.7 538.4 921.0 540.4 921.1 543.7 921.5 548.0 921.9 550.4 922.3 553.5 922.7 555.5 923.1 562.9 923.5 567.4 923.9 568.9 924.3 572.8 924.7 575.7 925.0 579.1 925.1 581.9 925.5 590.4 925.9 595.6 926.3 605.2 926.7 611.8 927.1 617.0 927.5 619.6 927.5 620.3 927.9 621.3 928.3 626.7 928.7 628.0 929.1 627.5 929.5 629.5 929.9 629.9 930.3 633.5 930.7 635.3 931.1 633.8 931.5 635.3 931.9 637.2 932.3 634.4 932.3 637.4 932.7 639.9 933.1 640.3 933.5 637.8 933.9 638.2 934.3 639.8 934.7 639.9 935.1 641.3 935.5 639.6 935.9 639.9 936.3 640.1 936.7 642.4 937.1 638.4 937.5 642.1 937.9 640.6 938.3 640.8 938.7 639.2 939.1 640.6 939.5 639.4 939.9 636.9 940.3 641.5 940.7 639.2 941.1 641.6 941.5 639.7 941.9 641.4 941.9 641.4 942.3 639.5 942.7 642.6 943.1 642.0 943.5 639.5 943.9 646.5 944.3 644.8 944.7 645.1 945.1 645.0 945.5 646.7 945.9 645.1 946.3 647.4 946.7 648.2 947.1 646.4 947.5 647.7 947.9 648.2 948.3 646.1 948.7 649.3 949.1 649.0 949.5 651.3 949.9 649.8 950.3 648.4 950.7 650.1 951.1 649.2 951.5 646.4 951.6 649.7 951.9 648.0 952.3 651.9 952.7 650.3 953.1 651.0 953.5 650.0 953.9 648.8 954.3 650.0 954.7 646.1 955.1 649.4 955.5 647.6 955.9 644.3 956.3 646.7 956.7 647.5 957.1 645.4 957.5 647.8 957.9 647.2 958.0 644.2 958.3 643.5 958.7 643.6 959.1 642.4 959.5 643.3 959.9 642.8 960.3 641.0 960.7 640.0 961.1 637.9 961.5 636.9 961.9 635.6 962.3 637.2 962.7 635.6 962.9 635.4 963.1 635.3 963.5 634.5 963.9 634.8 964.3 635.1 964.7 635.2 965.1 636.9 965.5 635.5 965.9 637.2 966.3 637.2 966.7 637.6 967.1 636.5 967.5 638.0 967.9 637.1 968.3 637.3 968.7 636.8 969.1 636.9 969.3 637.5 969.5 638.1 969.9 635.2 970.3 634.6 970.7 633.5 971.1 633.1 971.5 629.1 971.9 627.7 972.3 625.6 972.7 621.8 973.0 622.6 973.1 618.0 973.5 615.2 973.9 613.1 974.3 611.0 974.7 608.7 975.1 606.5 975.5 604.7 975.5 603.3 975.9 600.1 976.3 598.4 976.7 593.6 977.1 591.0 977.5 587.4 977.5 586.0 977.9 586.1 978.3 584.5 978.7 584.0 979.1 582.3 979.5 579.7 979.9 581.7 980.3 575.4 980.5 573.1 980.7 573.3 981.1 568.2 981.5 562.7 981.6 559.1 981.9 552.4 982.3 539.8 982.6 531.1 982.7 524.7 983.1 517.8 983.5 504.8 983.7 501.7 983.9 490.9 984.3 470.5 984.6 450.8 984.7 438.9 985.1 362.1 985.5 301.1 985.5 299.2 985.9 275.0 986.3 257.4 986.7 240.5 987.1 231.4 987.5 228.0 987.5 228.0 987.9 259.7 988.2 300.3 988.3 315.2 988.7 378.9 989.1 439.6 989.2 449.5 989.5 466.5 989.9 478.3 990.3 499.9 990.3 498.7 990.6 530.1 990.7 535.0 991.1 560.3 991.2 560.3 991.5 573.2 991.7 574.3 991.9 580.6 992.3 587.3 992.6 594.7 992.7 592.4 993.1 602.0 993.3 603.6 993.5 608.2 993.9 611.8 994.3 617.0 994.3 618.8 994.7 625.6 995.1 629.8 995.5 631.7 995.9 632.6 996.3 637.7 996.4 635.4 996.7 634.5 997.1 634.9 997.5 634.5 997.9 636.8 998.3 633.1 998.7 631.3 999.1 630.3 999.5 627.5 999.5 632.0 999.9 627.3 1000.3 627.5 1000.7 624.1 1001.1 622.5 1001.5 618.3 1001.9 619.7 1002.3 620.8 1002.7 617.8 1003.1 613.1 1003.5 612.3 1003.9 606.5 1004.3 603.6 1004.7 605.1 1005.1 600.1 1005.5 602.6 1005.9 599.7 1006.3 594.2 1006.7 594.2 1007.0 593.4 1007.1 595.0 1007.5 592.3 1007.9 592.0 1008.3 588.8 1008.7 593.0 1009.1 591.2 1009.5 589.3 1009.9 586.8 1010.3 588.4 1010.7 589.0 1011.0 588.0 1011.1 588.2 1011.5 588.3 1011.9 592.1 1012.3 596.0 1012.7 602.6 1013.1 603.9 1013.5 611.0 1013.9 614.7 1014.3 615.1 1014.3 614.7 1014.7 616.8 1015.1 615.5 1015.5 615.5 1015.9 616.1 1016.3 619.8 1016.7 619.7 1017.1 620.6 1017.5 620.4 1017.9 621.7 1018.3 625.3 1018.7 622.3 1019.1 621.8 1019.5 621.9 1019.9 622.8 1020.3 625.8 1020.7 625.2 1020.9 625.3 1021.1 625.9 1021.5 624.7 1021.9 626.3 1022.3 627.9 1022.7 628.7 1023.1 630.5 1023.5 632.4 1023.9 630.7 1024.3 633.1 1024.7 634.1 1025.1 633.4 1025.5 636.0 1025.9 637.5 1026.3 634.2 1026.7 638.2 1027.1 639.0 1027.5 639.6 1027.9 637.3 1028.3 642.0 1028.7 640.9 1029.1 640.4 1029.5 639.7 1029.7 643.1 1029.9 642.5 1030.3 641.1 1030.7 646.4 1031.1 642.4 1031.5 645.9 1031.9 643.7 1032.3 645.2 1032.7 646.8 1033.0 645.4 1033.1 646.7 1033.5 645.5 1033.9 647.2 1034.3 645.0 1034.7 643.4 1035.1 640.0 1035.5 638.9 1035.9 638.2 1036.3 638.9 1036.7 636.8 1037.1 633.1 1037.4 633.5 1037.5 631.5 1037.9 629.9 1038.3 627.6 1038.7 624.9 1039.1 623.8 1039.5 625.6 1039.9 617.8 1040.3 617.8 1040.7 615.2 1041.1 611.9 1041.5 611.2 1041.9 608.2 1042.3 607.7 1042.7 607.4 1042.9 607.0 1043.1 607.1 1043.5 608.1 1043.9 608.7 1044.3 613.7 1044.7 614.6 1045.1 617.2 1045.5 621.9 1045.9 624.2 1046.2 623.8 1046.3 628.5 1046.7 626.0 1047.1 628.2 1047.5 634.4 1047.9 634.5 1048.3 634.3 1048.7 640.7 1049.1 642.5 1049.5 642.7 1049.9 644.7 1050.3 646.9 1050.6 649.3 1050.7 648.2 1051.1 648.4 1051.5 651.9 1051.9 653.1 1052.3 653.2 1052.7 656.9 1053.1 657.7 1053.5 661.1 1053.9 664.2 1054.3 664.1 1054.7 668.7 1055.0 665.3 1055.1 664.9 1055.5 663.5 1055.9 666.7 1056.3 666.2 1056.7 663.3 1057.1 665.2 1057.5 667.6 1057.9 666.0 1058.3 667.6 1058.7 667.5 1059.1 670.7 1059.5 665.1 1059.9 667.4 1060.3 665.6 1060.7 666.4 1061.1 671.0 1061.5 669.4 1061.6 668.8 1061.9 667.8 1062.3 667.9 1062.7 671.1 1063.1 666.1 1063.5 669.8 1063.9 669.5 1064.3 666.2 1064.7 667.9 1065.1 666.3 1065.5 667.4 1065.9 668.6 1066.3 667.6 1066.7 668.9 1067.1 668.0 1067.5 663.0 1067.9 667.8 1068.3 664.2 1068.7 661.4 1069.1 665.3 1069.4 664.9 1069.5 669.0 1069.9 666.9 1070.3 665.9 1070.7 663.6 1071.1 663.8 1071.5 659.9 1071.9 661.3 1072.3 657.3 1072.7 656.2 1073.1 655.4 1073.5 652.3 1073.9 656.8 1074.3 651.1 1074.7 649.2 1075.1 648.0 1075.5 647.9 1075.9 648.0 1076.0 648.0 1076.3 647.8 1076.7 649.0 1077.1 653.3 1077.5 653.9 1077.9 656.1 1078.3 658.3 1078.7 661.4 1079.1 664.7 1079.5 669.1 1079.9 670.9 1080.3 669.1 1080.4 668.7 1080.7 671.4 1081.1 670.4 1081.5 673.4 1081.9 674.2 1082.3 671.7 1082.7 670.0 1083.1 671.5 1083.5 673.9 1083.9 672.4 1084.3 674.9 1084.7 674.8 1084.8 674.6 1085.1 674.1 1085.5 672.7 1085.9 673.9 1086.3 668.7 1086.7 671.2 1087.1 672.9 1087.5 670.0 1087.9 666.7 1088.3 665.4 1088.7 665.2 1089.1 664.6 1089.2 664.6 1089.5 664.5 1089.9 665.0 1090.3 664.6 1090.7 668.0 1091.1 665.7 1091.5 671.0 1091.9 672.0 1092.3 670.6 1092.7 674.8 1093.1 675.1 1093.5 675.8 1093.9 675.6 1094.3 675.9 1094.7 676.6 1094.7 676.2 1095.1 679.2 1095.5 677.7 1095.9 682.9 1096.3 680.2 1096.7 681.6 1097.1 678.8 1097.5 682.5 1097.9 679.4 1098.3 681.8 1098.7 680.9 1099.1 681.5 1099.5 678.6 1099.9 679.1 1100.3 682.2 1100.7 681.6 1101.1 680.1 1101.3 682.0 1101.5 681.3 1101.9 680.5 1102.3 684.9 1102.7 678.3 1103.1 681.8 1103.5 684.0 1103.9 683.6 1104.3 686.4 1104.7 684.5 1105.1 684.6 1105.5 683.0 1105.9 686.8 1106.3 683.4 1106.7 683.8 1106.8 683.8 1107.1 685.4 1107.5 683.2 1107.9 683.6 1108.3 682.3 1108.7 679.7 1109.1 680.6 1109.5 684.1 1109.9 679.3 1110.3 679.2 1110.7 682.1 1111.1 675.7 1111.2 677.8 1111.5 677.9 1111.9 673.2 1112.3 675.9 1112.7 673.4 1113.1 668.4 1113.5 668.7 1113.9 664.9 1114.3 669.5 1114.7 666.5 1115.1 661.2 1115.5 658.2 1115.9 658.1 1116.3 653.6 1116.7 653.2 1116.7 651.8 1117.1 651.3 1117.5 650.2 1117.9 647.8 1118.3 646.2 1118.7 641.9 1119.1 641.9 1119.5 638.4 1119.9 636.8 1120.3 636.8 1120.7 632.9 1121.1 630.1 1121.1 632.7 1121.5 628.9 1121.9 629.6 1122.3 628.3 1122.7 624.0 1123.1 624.1 1123.5 624.0 1123.9 625.2 1124.3 625.3 1124.7 623.3 1125.1 626.3 1125.5 623.1 1125.9 620.7 1126.3 621.8 1126.6 621.6 1126.7 621.5 1127.1 621.5 1127.5 621.4 1127.9 622.1 1128.3 622.9 1128.7 623.5 1129.1 620.9 1129.5 622.0 1129.9 623.8 1130.3 620.2 1130.7 623.7 1131.1 623.3 1131.5 621.7 1131.9 624.3 1132.3 623.1 1132.7 623.7 1133.1 625.2 1133.2 622.6 1133.5 621.0 1133.9 622.4 1134.3 621.8 1134.7 625.8 1135.1 624.2 1135.5 624.8 1135.9 625.2 1136.3 628.8 1136.7 628.3 1137.1 629.8 1137.5 629.6 1137.9 628.7 1138.3 629.0 1138.7 632.9 1139.1 630.9 1139.5 632.6 1139.8 629.8 1139.9 631.1 1140.3 630.6 1140.7 630.1 1141.1 632.2 1141.5 632.5 1141.9 630.5 1142.3 634.0 1142.7 630.3 1143.1 627.5 1143.5 630.6 1143.9 627.3 1144.3 628.5 1144.7 629.2 1145.1 630.3 1145.3 629.2 1145.5 627.0 1145.9 629.8 1146.3 627.7 1146.7 628.8 1147.1 628.4 1147.5 625.7 1147.9 624.0 1148.3 625.8 1148.7 624.3 1149.1 623.6 1149.5 623.5 1149.9 622.2 1150.3 622.3 1150.7 622.6 1150.8 622.7 1151.1 622.7 1151.5 623.7 1151.9 624.9 1152.3 625.8 1152.7 624.7 1153.1 625.4 1153.5 627.8 1153.9 629.1 1154.3 633.9 1154.7 635.4 1155.1 633.1 1155.5 636.4 1155.9 638.1 1156.3 637.9 1156.3 638.8 1156.7 638.7 1157.1 640.1 1157.5 641.4 1157.9 642.6 1158.3 641.4 1158.7 644.3 1159.1 642.4 1159.5 643.7 1159.9 644.5 1160.3 644.0 1160.7 646.8 1161.1 645.7 1161.5 646.0 1161.8 650.7 1161.9 647.8 1162.3 648.5 1162.7 646.6 1163.1 651.2 1163.5 655.1 1163.9 653.2 1164.3 654.4 1164.7 657.2 1165.1 658.2 1165.1 658.7 1165.5 658.7 1165.9 658.0 1166.3 657.9 1166.7 660.7 1167.1 661.2 1167.5 661.8 1167.9 660.5 1168.3 661.4 1168.7 665.1 1169.1 662.5 1169.5 664.5 1169.5 663.5 1169.9 661.2 1170.3 665.1 1170.7 662.8 1171.1 667.3 1171.5 664.4 1171.9 664.3 1172.3 665.2 1172.7 665.7 1173.1 665.3 1173.5 665.7 1173.9 668.1 1174.3 666.9 1174.7 668.1 1175.1 667.3 1175.5 668.4 1175.9 666.7 1176.1 670.3 1176.3 666.6 1176.7 665.6 1177.1 666.6 1177.5 667.5 1177.9 669.1 1178.3 672.7 1178.7 668.5 1179.1 672.0 1179.5 669.9 1179.9 674.0 1180.3 673.2 1180.7 675.7 1181.1 672.8 1181.5 674.8 1181.9 675.3 1182.3 673.7 1182.7 674.5 1183.1 673.9 1183.5 673.9 1183.9 674.4 1184.3 673.6 1184.7 676.8 1184.9 675.4 1185.1 674.1 1185.5 675.6 1185.9 676.0 1186.3 675.0 1186.7 677.2 1187.1 675.1 1187.5 675.7 1187.9 679.0 1188.3 674.6 1188.7 675.6 1189.1 676.0 1189.5 673.5 1189.9 674.8 1190.3 676.8 1190.7 678.1 1191.1 674.4 1191.5 676.3 1191.9 675.1 1192.3 674.8 1192.6 673.6 1192.7 676.1 1193.1 671.6 1193.5 674.9 1193.9 672.6 1194.3 670.6 1194.7 667.5 1195.1 663.3 1195.5 660.3 1195.9 660.4 1196.3 658.7 1196.7 656.0 1197.1 653.0 1197.5 653.3 1197.9 652.6 1198.1 652.0 1198.3 651.9 1198.7 652.6 1199.1 656.1 1199.5 654.9 1199.9 657.6 1200.3 660.6 1200.7 662.9 1201.1 667.0 1201.5 667.5 1201.9 668.2 1202.3 671.8 1202.6 672.3 1202.7 675.6 1203.1 675.0 1203.5 676.6 1203.9 674.4 1204.3 675.5 1204.7 676.1 1205.1 675.7 1205.5 673.5 1205.9 677.3 1206.3 676.9 1206.7 679.3 1207.0 678.4 1207.1 675.9 1207.5 677.1 1207.9 674.6 1208.3 677.8 1208.7 675.1 1209.1 672.7 1209.5 670.7 1209.9 674.8 1210.3 673.8 1210.7 670.7 1211.1 675.2 1211.5 669.9 1211.9 672.8 1212.3 668.8 1212.7 669.6 1213.1 668.8 1213.5 669.2 1213.6 669.0 1213.9 669.2 1214.3 669.9 1214.7 670.7 1215.1 671.9 1215.5 670.6 1215.9 674.8 1216.3 677.6 1216.7 675.5 1217.1 675.6 1217.5 676.2 1217.9 677.3 1218.0 680.5 1218.3 679.7 1218.7 676.9 1219.1 681.5 1219.5 678.7 1219.9 680.4 1220.3 678.9 1220.7 677.9 1221.1 679.8 1221.5 679.0 1221.9 680.1 1222.3 679.8 1222.7 677.9 1223.1 680.6 1223.5 679.2 1223.9 680.7 1224.3 681.4 1224.7 680.7 1225.1 681.4 1225.5 682.7 1225.7 679.5 1225.9 678.9 1226.3 678.3 1226.7 681.6 1227.1 678.6 1227.5 681.0 1227.9 682.3 1228.3 678.6 1228.7 682.3 1229.1 678.4 1229.5 681.2 1229.9 680.0 1230.3 677.5 1230.7 679.9 1231.1 682.4 1231.5 679.7 1231.9 678.0 1232.3 681.5 1232.7 681.5 1233.1 678.2 1233.5 680.2 1233.9 677.9 1234.3 677.7 1234.7 681.1 1235.1 681.2 1235.5 682.5 1235.9 681.2 1236.3 679.7 1236.7 681.8 1236.7 678.6 1237.1 679.3 1237.5 680.0 1237.9 679.0 1238.3 679.2 1238.7 677.9 1239.1 680.4 1239.5 680.9 1239.9 680.0 1240.3 680.8 1240.7 678.9 1241.1 678.2 1241.5 674.3 1241.9 676.2 1242.2 673.3 1242.3 677.2 1242.7 675.2 1243.1 673.8 1243.5 672.3 1243.9 670.7 1244.3 670.4 1244.7 668.7 1245.1 668.5 1245.5 664.6 1245.9 664.7 1246.3 666.6 1246.7 660.0 1247.1 661.5 1247.5 659.5 1247.7 661.9 1247.9 662.2 1248.3 660.0 1248.7 659.0 1249.1 659.3 1249.5 660.4 1249.9 658.6 1250.3 659.0 1250.5 659.0 1250.7 658.8 1251.1 658.8 1251.5 661.4 1251.9 664.0 1252.3 665.0 1252.7 669.3 1253.1 665.7 1253.5 668.1 1253.9 671.2 1254.3 668.1 1254.3 671.0 1254.7 676.1 1255.1 675.8 1255.5 673.1 1255.9 679.2 1256.3 678.9 1256.7 677.7 1257.1 677.0 1257.5 679.5 1257.6 680.7 1257.9 678.8 1258.3 677.7 1258.7 680.1 1259.1 680.2 1259.5 677.3 1259.9 677.7 1260.3 678.5 1260.7 681.5 1261.1 678.6 1261.5 680.3 1261.9 681.2 1262.3 679.4 1262.7 679.5 1263.1 679.9 1263.5 680.9 1263.9 679.9 1264.3 684.5 1264.7 682.5 1265.1 683.5 1265.5 680.4 1265.9 680.5 1266.3 680.3 1266.7 680.9 1267.1 683.6 1267.5 684.6 1267.5 684.5 1267.9 684.3 1268.3 679.7 1268.7 682.6 1269.1 684.1 1269.5 684.9 1269.9 683.6 1270.3 684.7 1270.7 684.2 1271.1 684.2 1271.5 685.6 1271.9 683.6 1272.3 684.2 1272.7 685.9 1273.1 686.0 1273.5 685.9 1273.9 687.3 1274.3 685.3 1274.7 686.7 1275.1 688.3 1275.5 685.5 1275.9 686.1 1276.3 688.9 1276.7 686.4 1277.1 688.1 1277.5 685.8 1277.9 686.1 1278.3 685.2 1278.5 685.0 1278.7 689.0 1279.1 687.0 1279.5 686.0 1279.9 688.5 1280.3 687.2 1280.7 687.4 1281.1 686.8 1281.5 687.7 1281.9 684.0 1282.3 683.7 1282.7 685.2 1283.1 685.8 1283.5 685.4 1283.9 684.1 1284.3 685.7 1284.7 685.2 1285.1 684.3 1285.5 684.0 1285.9 686.0 1286.2 683.4 1286.3 681.8 1286.7 681.8 1287.1 684.9 1287.5 682.6 1287.9 683.1 1288.3 683.0 1288.7 682.1 1289.1 680.6 1289.5 681.3 1289.9 682.2 1290.3 679.6 1290.7 680.8 1291.1 680.7 1291.5 680.3 1291.7 680.6 1291.9 680.7 1292.3 680.9 1292.7 680.5 1293.1 683.9 1293.5 681.8 1293.9 685.0 1294.3 685.5 1294.7 685.7 1295.1 688.7 1295.5 691.3 1295.9 689.7 1296.3 689.6 1296.7 689.6 1297.1 689.6 1297.2 687.2 1297.5 690.7 1297.9 687.9 1298.3 685.0 1298.7 688.5 1299.1 687.2 1299.5 684.8 1299.9 687.6 1300.3 685.9 1300.7 686.5 1301.1 683.3 1301.5 682.6 1301.9 682.7 1302.3 683.0 1302.7 681.0 1303.1 682.7 1303.5 678.9 1303.9 678.7 1304.3 678.2 1304.7 678.2 1305.0 678.4 1305.1 678.3 1305.5 678.5 1305.9 679.7 1306.3 682.2 1306.7 680.9 1307.1 679.3 1307.5 684.4 1307.9 682.7 1308.3 686.1 1308.7 685.9 1309.1 685.2 1309.4 685.5 1309.5 685.2 1309.9 687.1 1310.3 684.7 1310.7 685.2 1311.1 684.4 1311.5 684.0 1311.9 685.9 1312.3 686.2 1312.7 683.4 1313.1 683.9 1313.5 684.8 1313.9 683.9 1314.3 682.6 1314.7 683.0 1314.9 682.8 1315.1 682.5 1315.5 682.6 1315.9 682.0 1316.3 684.1 1316.7 684.7 1317.1 685.3 1317.5 683.8 1317.9 683.7 1318.3 684.4 1318.7 685.4 1319.1 684.6 1319.5 686.7 1319.9 688.0 1320.3 684.1 1320.7 688.6 1321.1 688.9 1321.5 685.8 1321.9 694.8 1322.3 689.6 1322.6 688.8 1322.7 685.9 1323.1 688.7 1323.5 688.6 1323.9 689.4 1324.3 687.8 1324.7 687.0 1325.1 686.9 1325.5 689.1 1325.9 687.5 1326.3 689.2 1326.7 691.4 1327.1 686.2 1327.5 688.4 1327.9 692.3 1328.3 689.6 1328.7 691.8 1329.1 689.3 1329.5 691.6 1329.9 690.8 1330.3 691.0 1330.7 687.4 1331.1 691.5 1331.4 689.5 1331.5 688.7 1331.9 690.9 1332.3 689.0 1332.7 688.6 1333.1 691.0 1333.5 693.1 1333.9 691.4 1334.3 693.6 1334.7 695.4 1335.1 693.6 1335.5 694.0 1335.9 693.4 1336.3 693.9 1336.7 694.8 1336.9 691.0 1337.1 695.3 1337.5 697.9 1337.9 695.2 1338.3 695.0 1338.7 693.9 1339.1 696.0 1339.5 694.4 1339.9 697.9 1340.3 695.6 1340.7 695.8 1341.1 695.4 1341.5 694.1 1341.9 690.6 1342.3 694.0 1342.7 695.8 1343.1 691.5 1343.5 695.3 1343.9 695.2 1344.3 695.4 1344.7 694.7 1345.1 694.8 1345.5 693.7 1345.9 696.1 1346.3 692.0 1346.7 692.3 1347.1 692.5 1347.5 692.6 1347.9 695.1 1348.3 693.5 1348.7 695.3 1349.1 691.8 1349.5 693.1 1349.9 692.5 1350.1 693.9 1350.3 694.1 1350.7 694.1 1351.1 692.6 1351.5 695.7 1351.9 693.0 1352.3 694.8 1352.7 696.2 1353.1 695.6 1353.5 691.3 1353.9 696.1 1354.3 693.0 1354.7 694.3 1355.1 693.4 1355.5 693.1 1355.9 693.2 1356.3 693.9 1356.7 694.3 1357.1 691.4 1357.5 690.2 1357.9 692.1 1358.3 690.6 1358.7 691.2 1359.1 694.6 1359.5 693.7 1359.9 691.4 1360.3 691.6 1360.7 691.7 1361.1 691.9 1361.1 692.3 1361.5 692.8 1361.9 694.1 1362.3 692.3 1362.7 689.7 1363.1 692.7 1363.5 692.3 1363.9 691.8 1364.3 693.9 1364.7 689.6 1365.1 690.8 1365.5 691.3 1365.9 695.1 1366.3 691.1 1366.7 691.9 1367.1 693.3 1367.5 692.8 1367.7 689.1 1367.9 692.7 1368.3 691.2 1368.7 691.6 1369.1 691.0 1369.5 688.2 1369.9 684.7 1370.3 679.8 1370.7 681.8 1371.1 680.1 1371.5 677.4 1371.9 672.3 1372.1 672.7 1372.3 670.1 1372.7 670.7 1373.1 666.6 1373.5 665.5 1373.9 661.1 1374.3 657.0 1374.7 654.4 1375.1 655.1 1375.5 652.9 1375.9 650.5 1376.3 649.8 1376.5 650.0 1376.7 650.2 1377.1 650.7 1377.5 651.8 1377.9 656.4 1378.3 658.2 1378.7 659.3 1379.1 661.2 1379.5 669.0 1379.8 669.3 1379.9 667.5 1380.3 672.0 1380.7 674.2 1381.1 675.4 1381.5 680.6 1381.9 682.8 1382.3 686.1 1382.7 685.9 1383.1 688.7 1383.1 688.5 1383.5 689.5 1383.9 687.7 1384.3 691.1 1384.7 689.0 1385.1 692.9 1385.5 690.1 1385.9 689.9 1386.3 688.9 1386.7 691.9 1387.1 693.3 1387.5 691.4 1387.9 690.3 1388.3 690.9 1388.7 693.2 1389.1 690.4 1389.5 691.2 1389.9 690.3 1390.3 692.3 1390.7 691.9 1391.1 692.0 1391.5 691.9 1391.9 691.0 1392.3 692.1 1392.7 691.1 1393.1 689.0 1393.5 692.9 1393.9 690.1 1394.1 693.0 1394.3 692.1 1394.7 692.8 1395.1 691.4 1395.5 688.4 1395.9 691.2 1396.3 689.2 1396.7 693.3 1397.1 692.4 1397.5 688.5 1397.9 692.5 1398.3 691.4 1398.7 687.6 1399.1 690.4 1399.5 690.6 1399.9 692.1 1400.3 691.7 1400.7 688.3 1401.1 693.0 1401.5 690.4 1401.9 692.2 1402.3 690.3 1402.7 692.8 1403.1 691.5 1403.5 689.8 1403.9 689.6 1404.3 692.6 1404.7 692.4 1405.1 690.8 1405.1 692.5 1405.5 693.8 1405.9 691.3 1406.3 689.5 1406.7 693.6 1407.1 690.8 1407.5 691.4 1407.9 689.4 1408.3 692.6 1408.7 692.4 1409.1 690.9 1409.5 692.5 1409.9 691.4 1410.3 691.0 1410.7 689.5 1411.1 693.7 1411.5 692.5 1411.9 695.0 1412.3 694.3 1412.7 691.8 1413.1 693.5 1413.5 691.2 1413.9 692.8 1414.3 695.3 1414.7 693.1 1415.1 693.4 1415.5 691.1 1415.9 692.3 1416.1 692.4 1416.3 693.6 1416.7 691.3 1417.1 691.6 1417.5 695.7 1417.9 695.4 1418.3 694.2 1418.7 691.9 1419.1 691.5 1419.5 692.2 1419.9 694.8 1420.3 694.0 1420.7 693.8 1421.1 693.5 1421.5 694.5 1421.9 692.2 1422.3 693.5 1422.7 690.0 1423.1 690.6 1423.5 691.7 1423.9 693.3 1424.3 691.7 1424.7 693.5 1425.1 693.2 1425.5 693.5 1425.9 691.5 1426.3 693.5 1426.7 691.6 1427.1 692.6 1427.5 688.1 1427.9 692.8 1428.3 691.8 1428.7 692.9 1429.1 691.5 1429.3 692.7 1429.5 692.7 1429.9 690.3 1430.3 690.8 1430.7 687.2 1431.1 690.5 1431.5 689.5 1431.9 691.2 1432.3 689.2 1432.7 687.6 1433.1 685.4 1433.5 687.9 1433.9 685.6 1434.3 685.4 1434.7 684.4 1435.1 683.1 1435.5 684.1 1435.9 684.8 1436.0 681.7 1436.3 682.6 1436.7 682.5 1437.1 680.5 1437.5 682.1 1437.9 680.8 1438.3 679.3 1438.7 678.1 1439.1 676.7 1439.5 675.3 1439.9 677.4 1440.3 675.3 1440.7 676.2 1441.1 672.9 1441.5 673.9 1441.9 675.6 1442.3 674.4 1442.6 674.0 1442.7 674.1 1443.1 674.3 1443.5 675.1 1443.9 673.8 1444.3 670.9 1444.7 673.9 1445.1 674.7 1445.5 674.7 1445.9 676.8 1446.3 674.0 1446.7 675.5 1447.0 673.2 1447.1 676.8 1447.5 673.2 1447.9 677.3 1448.3 676.2 1448.7 672.7 1449.1 675.9 1449.5 677.5 1449.9 674.2 1450.3 675.7 1450.7 674.2 1451.1 674.7 1451.4 675.4 1451.5 676.7 1451.9 677.9 1452.3 671.7 1452.7 672.1 1453.1 673.0 1453.5 673.6 1453.9 671.9 1454.3 674.8 1454.7 670.6 1455.1 669.6 1455.5 672.5 1455.9 670.1 1456.3 672.2 1456.7 671.8 1456.9 671.8 1457.1 671.7 1457.5 672.2 1457.9 673.3 1458.3 673.9 1458.7 672.3 1459.1 673.5 1459.5 672.5 1459.9 678.0 1460.3 674.7 1460.7 677.3 1461.1 678.3 1461.5 675.8 1461.9 678.8 1462.3 679.8 1462.4 680.7 1462.7 680.0 1463.1 682.2 1463.5 681.6 1463.9 679.2 1464.3 681.5 1464.7 679.2 1465.1 678.3 1465.5 684.8 1465.9 682.5 1466.3 682.1 1466.7 683.2 1466.8 684.1 1467.1 680.7 1467.5 685.0 1467.9 683.8 1468.3 684.3 1468.7 685.2 1469.1 684.3 1469.5 682.9 1469.9 682.7 1470.3 686.8 1470.7 685.1 1471.1 684.0 1471.5 683.7 1471.9 685.9 1472.3 687.4 1472.7 686.3 1473.1 685.1 1473.5 684.8 1473.9 689.0 1474.3 681.2 1474.7 684.7 1475.1 685.2 1475.5 684.2 1475.9 686.1 1476.3 688.3 1476.7 686.6 1476.7 683.6 1477.1 683.9 1477.5 685.9 1477.9 687.4 1478.3 687.8 1478.7 685.2 1479.1 687.5 1479.5 685.6 1479.9 683.4 1480.3 687.5 1480.7 686.4 1481.1 688.6 1481.5 684.8 1481.9 687.3 1482.3 687.1 1482.7 686.0 1483.1 684.8 1483.5 687.9 1483.9 686.9 1484.3 689.5 1484.7 685.8 1485.1 688.8 1485.5 683.9 1485.9 689.0 1486.3 686.3 1486.7 687.8 1487.1 688.3 1487.5 688.2 1487.9 686.2 1488.3 688.8 1488.7 688.8 1489.1 688.1 1489.5 688.6 1489.9 686.8 1489.9 688.1 1490.3 688.5 1490.7 686.4 1491.1 688.4 1491.5 690.6 1491.9 689.7 1492.3 690.4 1492.7 688.6 1493.1 692.1 1493.2 689.8 1493.5 690.3 1493.9 688.9 1494.3 691.6 1494.7 690.8 1495.1 689.3 1495.5 692.5 1495.9 691.3 1496.3 690.9 1496.7 693.0 1497.1 690.7 1497.5 690.2 1497.9 694.7 1498.3 691.6 1498.7 693.3 1499.1 692.9 1499.5 689.1 1499.9 691.2 1500.3 691.7 1500.7 690.7 1501.1 692.1 1501.5 693.5 1501.9 690.8 1502.3 691.7 1502.7 691.6 1503.1 691.9 1503.5 691.0 1503.9 693.0 1504.3 689.6 1504.7 690.5 1505.1 690.0 1505.5 692.3 1505.9 693.3 1506.3 693.6 1506.4 693.9 1506.7 690.1 1507.1 692.1 1507.5 693.6 1507.9 692.1 1508.3 693.4 1508.7 693.6 1509.1 692.5 1509.5 691.8 1509.9 692.1 1510.3 695.1 1510.7 693.3 1511.1 692.3 1511.5 692.1 1511.9 694.9 1512.3 691.6 1512.7 694.4 1513.1 697.0 1513.5 693.8 1513.9 692.2 1514.3 691.1 1514.7 695.4 1515.1 692.3 1515.5 694.7 1515.9 697.2 1516.3 695.1 1516.7 694.2 1517.1 694.3 1517.5 696.0 1517.9 693.6 1518.3 694.2 1518.7 696.2 1519.1 696.7 1519.5 694.0 1519.6 696.5 1519.9 695.2 1520.3 692.4 1520.7 694.9 1521.1 694.8 1521.5 694.4 1521.9 694.8 1522.3 697.2 1522.7 694.4 1523.1 695.3 1523.5 697.0 1523.9 693.6 1524.3 691.6 1524.7 692.2 1525.1 691.7 1525.5 695.4 1525.9 696.2 1526.3 693.3 1526.7 696.2 1527.1 692.8 1527.5 694.5 1527.9 694.0 1528.3 691.8 1528.7 692.5 1529.1 693.9 1529.5 690.3 1529.9 692.1 1530.2 690.8 1530.3 690.7 1530.7 692.6 1531.1 689.4 1531.5 692.1 1531.9 689.5 1532.3 686.7 1532.7 684.3 1533.1 686.2 1533.5 684.2 1533.9 680.5 1534.3 681.7 1534.7 679.1 1535.1 681.1 1535.5 678.5 1535.5 676.3 1535.9 676.6 1536.3 678.1 1536.7 676.8 1537.1 673.2 1537.5 670.6 1537.9 673.9 1538.3 670.1 1538.7 673.7 1539.1 668.8 1539.5 669.5 1539.9 669.9 1540.1 669.5 1540.3 669.8 1540.7 671.2 1541.1 669.7 1541.5 672.5 1541.9 676.8 1542.3 678.7 1542.7 679.1 1543.1 680.1 1543.4 683.0 1543.5 684.3 1543.9 685.4 1544.3 683.8 1544.7 685.9 1545.1 689.8 1545.5 690.8 1545.9 690.9 1546.3 690.3 1546.7 693.0 1547.1 691.6 1547.4 689.2 1547.5 689.6 1547.9 688.9 1548.3 692.3 1548.7 693.6 1549.1 692.9 1549.5 692.6 1549.9 690.3 1550.3 692.9 1550.7 690.1 1551.1 690.7 1551.5 692.8 1551.9 692.4 1552.3 689.5 1552.7 691.3 1553.1 690.8 1553.5 690.9 1553.9 690.0 1554.3 690.3 1554.7 690.5 1555.1 692.7 1555.5 692.9 1555.9 690.6 1556.3 691.2 1556.7 691.4 1557.1 689.1 1557.5 691.4 1557.9 690.2 1558.3 687.7 1558.7 690.0 1559.1 689.7 1559.3 688.5 1559.5 687.6 1559.9 687.6 1560.3 687.6 1560.7 693.1 1561.1 686.2 1561.5 687.1 1561.9 687.5 1562.3 688.1 1562.7 684.4 1563.1 682.6 1563.5 684.4 1563.9 680.8 1564.3 680.5 1564.5 684.5 1564.7 682.5 1565.1 683.6 1565.5 677.6 1565.9 677.0 1566.3 676.3 1566.7 675.2 1567.1 671.4 1567.5 668.1 1567.9 664.2 1568.3 664.5 1568.7 658.7 1569.1 660.4 1569.5 657.9 1569.8 657.0 1569.9 656.1 1570.3 657.5 1570.7 655.1 1571.1 654.0 1571.5 648.4 1571.9 649.5 1572.3 645.6 1572.7 646.5 1573.1 645.7 1573.5 645.2 1573.8 645.0 1573.9 645.1 1574.3 645.4 1574.7 646.6 1575.1 645.7 1575.5 649.2 1575.9 652.1 1576.3 649.8 1576.7 654.3 1577.1 653.8 1577.5 657.6 1577.9 656.8 1578.3 661.4 1578.7 660.8 1579.1 664.7 1579.1 663.4 1579.5 664.5 1579.9 666.6 1580.3 666.1 1580.7 667.4 1581.1 670.1 1581.5 672.1 1581.9 672.9 1582.3 674.3 1582.7 674.3 1583.1 678.1 1583.5 678.4 1583.9 678.4 1584.3 680.3 1584.4 681.4 1584.7 680.9 1585.1 682.3 1585.5 683.7 1585.9 684.0 1586.3 683.2 1586.7 679.7 1587.1 685.1 1587.5 682.1 1587.9 684.7 1588.3 685.2 1588.7 687.6 1589.1 687.0 1589.5 686.1 1589.9 686.9 1590.3 688.6 1590.7 685.5 1591.1 691.3 1591.5 687.2 1591.9 687.5 1592.3 687.6 1592.3 692.8 1592.7 688.0 1593.1 690.2 1593.5 688.3 1593.9 692.6 1594.3 690.7 1594.7 691.2 1595.1 691.2 1595.5 693.2 1595.9 694.2 1596.3 694.9 1596.7 694.2 1597.1 692.4 1597.5 694.5 1597.9 692.1 1598.3 693.0 1598.7 694.9 1598.9 694.6 1599.1 694.2 1599.5 693.3 1599.9 692.2 1600.3 693.1 1600.7 693.9 1601.1 692.5 1601.5 693.4 1601.9 692.3 1602.3 691.9 1602.7 692.2 1603.1 689.7 1603.5 689.9 1603.9 689.0 1604.3 693.5 1604.7 691.0 1605.1 690.3 1605.5 686.4 1605.9 688.9 1606.3 690.3 1606.7 689.4 1606.8 689.4 1607.1 689.6 1607.5 691.0 1607.9 689.1 1608.3 689.7 1608.7 688.8 1609.1 689.4 1609.5 687.3 1609.9 687.0 1610.3 690.6 1610.7 688.7 1611.1 689.2 1611.5 689.6 1611.9 689.8 1612.3 689.9 1612.7 689.5 1613.1 692.7 1613.5 690.7 1613.9 692.3 1614.3 695.0 1614.7 690.5 1615.1 694.8 1615.5 691.8 1615.9 693.5 1616.3 692.3 1616.7 694.9 1617.1 697.4 1617.5 693.6 1617.9 694.1 1618.3 693.2 1618.7 696.2 1618.7 689.6 1619.1 692.5 1619.5 693.3 1619.9 693.4 1620.3 695.9 1620.7 694.6 1621.1 692.0 1621.5 695.3 1621.9 692.0 1622.3 689.3 1622.7 693.1 1623.1 691.3 1623.5 693.3 1623.9 692.7 1624.3 692.0 1624.7 693.7 1625.1 693.5 1625.5 693.3 1625.9 693.7 1626.3 693.5 1626.7 692.3 1627.1 694.3 1627.5 691.6 1627.9 692.7 1628.3 694.4 1628.7 691.6 1629.1 693.9 1629.5 694.3 1629.9 694.1 1630.3 692.8 1630.7 694.7 1631.1 693.9 1631.5 688.7 1631.9 692.4 1631.9 693.1 1632.3 691.3 1632.7 692.0 1633.1 694.8 1633.5 692.8 1633.9 693.7 1634.3 696.3 1634.7 691.4 1635.1 692.7 1635.5 691.5 1635.9 691.6 1636.3 694.3 1636.7 693.9 1637.1 690.6 1637.5 695.4 1637.9 694.2 1638.3 694.1 1638.7 693.9 1639.1 693.7 1639.5 693.4 1639.9 693.0 1640.3 694.5 1640.7 696.7 1641.1 692.0 1641.5 694.0 1641.9 694.1 1642.3 694.1 1642.7 691.2 1643.1 693.1 1643.5 693.5 1643.9 692.8 1644.3 694.4 1644.7 695.6 1645.1 693.4 1645.1 693.5 1645.5 692.3 1645.9 693.7 1646.3 692.4 1646.7 695.1 1647.1 692.5 1647.5 692.6 1647.9 695.1 1648.3 694.2 1648.7 696.8 1649.1 693.7 1649.5 692.1 1649.9 694.6 1650.3 691.8 1650.7 692.6 1651.1 692.6 1651.5 692.4 1651.9 690.6 1652.3 694.3 1652.7 693.5 1653.1 694.6 1653.5 692.5 1653.9 694.9 1654.3 692.0 1654.7 695.7 1655.1 695.3 1655.5 690.0 1655.9 696.4 1656.3 694.8 1656.7 693.5 1657.1 693.3 1657.5 692.5 1657.9 696.3 1658.3 695.5 1658.3 691.4 1658.7 693.3 1659.1 693.9 1659.5 693.6 1659.9 690.5 1660.3 692.2 1660.7 692.5 1661.1 688.9 1661.5 690.2 1661.9 686.8 1662.3 688.3 1662.7 688.6 1663.1 687.9 1663.5 686.3 1663.9 685.5 1664.3 684.5 1664.7 686.8 1665.1 683.6 1665.5 682.2 1665.9 684.1 1666.3 678.4 1666.3 681.5 1666.7 680.5 1667.1 678.1 1667.5 678.2 1667.9 673.8 1668.3 678.6 1668.7 673.8 1669.1 674.7 1669.5 674.2 1669.9 677.3 1670.3 674.9 1670.7 674.7 1671.1 670.8 1671.5 670.4 1671.9 673.2 1672.3 668.9 1672.7 669.2 1673.1 668.1 1673.5 671.6 1673.9 667.3 1674.3 668.0 1674.7 667.4 1675.1 667.3 1675.5 667.5 1675.5 667.5 1675.9 667.6 1676.3 670.0 1676.7 669.8 1677.1 675.2 1677.5 674.8 1677.9 674.6 1678.3 676.7 1678.7 679.3 1679.1 681.1 1679.5 679.5 1679.5 681.1 1679.9 680.1 1680.3 683.6 1680.7 683.5 1681.1 684.2 1681.5 686.2 1681.9 684.7 1682.3 688.9 1682.7 686.9 1683.1 688.4 1683.5 688.9 1683.9 691.5 1684.3 695.0 1684.7 694.1 1684.8 692.9 1685.1 690.1 1685.5 693.1 1685.9 693.0 1686.3 692.7 1686.7 693.6 1687.1 693.4 1687.5 694.2 1687.9 692.3 1688.3 692.3 1688.7 691.0 1689.1 692.3 1689.5 690.4 1689.9 692.7 1690.3 691.5 1690.7 690.6 1691.1 690.2 1691.5 691.5 1691.9 693.5 1692.3 694.6 1692.7 694.9 1693.1 694.6 1693.5 692.7 1693.9 694.7 1694.3 693.5 1694.7 694.1 1695.1 692.5 1695.5 691.3 1695.9 693.0 1696.3 692.2 1696.7 691.6 1697.1 692.5 1697.5 693.3 1697.9 695.1 1698.0 694.2 1698.3 694.1 1698.7 694.2 1699.1 694.3 1699.5 695.3 1699.9 693.4 1700.3 696.0 1700.7 693.6 1701.1 694.2 1701.5 689.8 1701.9 696.6 1702.3 692.0 1702.7 694.3 1703.1 695.7 1703.5 695.6 1703.9 694.3 1704.3 694.9 1704.7 696.1 1705.1 693.7 1705.5 697.0 1705.9 696.0 1706.3 693.2 1706.7 696.5 1707.1 695.4 1707.5 697.1 1707.9 697.6 1708.3 696.7 1708.7 696.1 1709.1 694.0 1709.5 694.5 1709.9 694.8 1710.3 696.8 1710.7 698.4 1711.1 694.4 1711.2 692.3 1711.5 695.4 1711.9 695.9 1712.3 697.3 1712.7 697.0 1713.1 699.5 1713.5 696.7 1713.9 693.5 1714.3 695.7 1714.7 697.2 1715.1 693.7 1715.5 695.9 1715.9 696.8 1716.3 695.9 1716.7 697.4 1717.1 699.5 1717.5 694.2 1717.9 696.9 1718.3 700.3 1718.7 696.1 1719.1 696.0 1719.5 696.5 1719.9 700.1 1720.3 696.0 1720.7 699.8 1721.1 699.1 1721.5 698.6 1721.9 700.3 1722.3 699.7 1722.7 701.5 1723.1 698.5 1723.5 699.2 1723.9 697.7 1724.3 700.6 1724.4 698.4 1724.7 699.2 1725.1 698.1 1725.5 697.3 1725.9 698.1 1726.3 698.1 1726.7 700.6 1727.1 698.4 1727.5 699.6 1727.9 699.0 1728.3 696.3 1728.7 696.9 1729.1 698.3 1729.5 699.5 1729.9 700.3 1730.3 699.0 1730.7 700.8 1731.1 697.5 1731.5 700.0 1731.9 693.6 1732.3 698.4 1732.7 698.2 1733.1 698.5 1733.5 699.7 1733.9 697.1 1734.3 700.2 1734.7 698.2 1735.1 696.8 1735.5 698.6 1735.9 699.0 1736.3 700.2 1736.7 700.7 1737.1 695.1 1737.5 698.0 1737.6 697.5 1737.9 701.4 1738.3 698.6 1738.7 697.8 1739.1 696.6 1739.5 697.6 1739.9 698.1 1740.3 698.3 1740.7 698.1 1741.1 699.1 1741.5 698.2 1741.9 697.9 1742.3 697.4 1742.7 697.9 1743.1 697.0 1743.5 696.1 1743.9 695.6 1744.3 691.0 1744.7 695.1 1745.1 694.0 1745.5 694.5 1745.9 694.2 1746.3 692.6 1746.7 693.6 1747.1 692.3 1747.5 692.6 1747.9 692.6 1748.2 696.2 1748.3 692.2 1748.7 689.6 1749.1 691.2 1749.5 693.8 1749.9 694.8 1750.3 690.8 1750.7 690.8 1751.1 689.8 1751.5 690.5 1751.9 689.2 1752.3 689.1 1752.7 687.8 1753.1 688.2 1753.5 689.3 1753.9 688.0 1754.3 686.3 1754.7 684.4 1755.1 685.0 1755.5 687.8 1755.9 682.8 1756.3 687.4 1756.7 683.7 1757.1 684.9 1757.5 681.7 1757.9 684.6 1758.3 683.4 1758.7 683.5 1759.1 686.8 1759.5 681.4 1759.9 683.3 1760.3 681.5 1760.7 682.7 1761.1 682.9 1761.4 682.8 1761.5 682.8 1761.9 682.4 1762.3 682.5 1762.7 685.5 1763.1 680.5 1763.5 682.3 1763.9 682.8 1764.3 681.0 1764.7 687.1 1765.1 683.8 1765.5 686.2 1765.9 686.8 1766.3 686.3 1766.7 686.6 1767.1 686.8 1767.5 683.2 1767.9 687.7 1768.3 686.7 1768.7 686.1 1769.1 687.4 1769.5 686.2 1769.9 686.0 1770.3 689.8 1770.6 688.1 1770.7 684.9 1771.1 685.7 1771.5 686.2 1771.9 683.8 1772.3 689.2 1772.7 689.2 1773.1 689.4 1773.5 690.9 1773.9 689.3 1774.3 687.7 1774.7 690.2 1775.1 690.2 1775.5 689.5 1775.9 689.2 1776.3 689.2 1776.7 687.9 1777.1 689.6 1777.5 693.0 1777.9 693.6 1778.3 688.1 1778.5 688.5 1778.7 689.9 1779.1 689.3 1779.5 693.7 1779.9 690.8 1780.3 691.5 1780.7 693.9 1781.1 691.5 1781.5 692.3 1781.9 691.6 1782.3 694.6 1782.3 697.1 1782.7 695.1 1783.1 692.4 1783.5 692.3 1783.9 693.1 1784.3 691.0 1784.7 694.8 1785.1 691.0 1785.5 692.8 1785.9 693.7 1786.3 694.6 1786.7 696.2 1787.1 695.5 1787.5 695.9 1787.9 692.5 1788.3 695.5 1788.7 694.6 1789.1 693.9 1789.5 694.4 1789.9 691.8 1790.3 692.7 1790.7 692.9 1791.1 695.0 1791.5 695.9 1791.9 695.7 1792.2 693.2 1792.3 694.2 1792.7 695.0 1793.1 695.1 1793.5 691.7 1793.9 693.8 1794.3 694.1 1794.7 693.1 1795.1 694.7 1795.5 694.6 1795.9 689.5 1796.3 692.4 1796.7 691.9 1797.1 689.7 1797.5 693.0 1797.9 690.5 1798.3 689.3 1798.7 688.2 1799.1 693.3 1799.5 689.0 1799.6 691.1 1799.9 690.4 1800.3 688.2 1800.7 689.5 1801.1 686.7 1801.5 689.3 1801.9 689.8 1802.3 686.4 1802.7 688.7 1803.1 686.6 1803.5 689.7 1803.9 687.5 1804.3 690.1 1804.7 687.2 1805.1 686.6 1805.5 688.4 1805.9 690.1 1806.3 688.6 1806.7 690.9 1807.1 689.1 1807.5 689.0 1807.9 687.9 1808.3 689.0 1808.7 687.4 1809.1 688.7 1809.5 688.2 1809.5 688.2 1809.9 688.0 1810.3 690.3 1810.7 688.6 1811.1 688.9 1811.5 690.3 1811.9 686.5 1812.3 692.0 1812.7 686.7 1813.1 688.9 1813.5 689.7 1813.9 689.9 1814.3 692.4 1814.7 688.3 1815.1 691.1 1815.5 692.7 1815.9 692.4 1816.3 690.7 1816.7 690.4 1817.1 694.2 1817.5 697.0 1817.9 690.1 1818.3 688.8 1818.7 693.0 1819.1 694.0 1819.3 689.7 1819.5 694.0 1819.9 695.4 1820.3 692.4 1820.7 695.7 1821.1 693.2 1821.5 694.3 1821.9 696.3 1822.3 692.7 1822.7 693.9 1823.1 692.0 1823.5 693.9 1823.9 696.1 1824.3 696.4 1824.7 692.8 1825.1 694.6 1825.5 694.7 1825.9 692.6 1826.3 694.8 1826.7 693.6 1827.1 695.4 1827.5 695.8 1827.9 695.3 1828.3 694.5 1828.7 693.6 1829.1 690.9 1829.5 697.2 1829.9 696.3 1830.3 697.5 1830.7 691.1 1831.1 695.9 1831.5 697.3 1831.7 697.6 1831.9 697.0 1832.3 696.9 1832.7 694.7 1833.1 697.0 1833.5 697.7 1833.9 696.8 1834.3 700.6 1834.7 696.5 1835.1 696.0 1835.5 698.2 1835.9 699.5 1836.3 701.0 1836.7 698.9 1837.1 699.8 1837.5 701.0 1837.9 698.2 1838.3 700.9 1838.7 702.8 1839.0 701.6 1839.1 702.7 1839.5 700.5 1839.9 702.1 1840.3 700.1 1840.7 699.8 1841.1 701.7 1841.5 697.8 1841.9 700.4 1842.3 700.0 1842.7 702.2 1843.1 701.7 1843.5 700.9 1843.9 703.2 1844.3 699.7 1844.7 701.3 1845.1 700.6 1845.5 704.2 1845.9 701.2 1846.3 700.8 1846.7 700.0 1847.1 701.3 1847.5 702.0 1847.9 700.5 1848.3 702.5 1848.7 701.5 1849.1 700.8 1849.5 702.8 1849.9 701.8 1850.1 700.7 1850.3 702.2 1850.7 704.4 1851.1 703.1 1851.5 701.1 1851.9 701.3 1852.3 701.4 1852.7 704.9 1853.1 701.1 1853.5 701.5 1853.9 701.1 1854.3 703.3 1854.7 702.5 1855.1 702.1 1855.5 706.0 1855.9 701.6 1856.3 705.1 1856.7 701.6 1857.1 704.3 1857.5 704.8 1857.9 702.3 1858.3 702.5 1858.7 704.4 1858.8 702.8 1859.1 701.4 1859.5 705.3 1859.9 700.1 1860.3 701.3 1860.7 704.3 1861.1 702.4 1861.5 699.7 1861.9 702.4 1862.3 701.1 1862.7 700.8 1863.1 699.5 1863.5 697.7 1863.9 701.1 1864.3 699.0 1864.7 697.9 1865.1 700.5 1865.5 696.6 1865.9 699.1 1866.3 696.1 1866.7 696.9 1867.1 696.6 1867.4 696.9 1867.5 696.8 1867.9 697.5 1868.3 699.6 1868.7 697.9 1869.1 698.0 1869.5 697.8 1869.9 696.3 1870.3 699.7 1870.7 700.0 1871.1 696.0 1871.5 698.0 1871.9 698.2 1872.3 699.4 1872.7 701.9 1873.1 700.1 1873.5 701.3 1873.9 698.1 1874.3 699.4 1874.7 700.6 1875.1 699.3 1875.5 699.9 1875.9 702.8 1876.0 701.4 1876.3 701.6 1876.7 704.8 1877.1 701.2 1877.5 701.8 1877.9 704.9 1878.3 702.9 1878.7 704.0 1879.1 703.1 1879.5 703.9 1879.9 703.6 1880.3 701.7 1880.7 703.2 1881.1 703.7 1881.5 705.7 1881.9 704.3 1882.3 703.7 1882.7 703.0 1883.1 703.9 1883.4 703.9 1883.5 702.6 1883.9 705.7 1884.3 704.2 1884.7 700.1 1885.1 702.2 1885.5 702.7 1885.9 702.3 1886.3 700.8 1886.7 703.2 1887.1 700.0 1887.5 701.3 1887.9 697.9 1888.3 699.7 1888.7 696.5 1889.1 699.2 1889.5 698.6 1889.9 698.7 1890.3 697.4 1890.7 698.2 1890.8 698.1 1891.1 698.4 1891.5 699.7 1891.9 698.0 1892.3 698.0 1892.7 698.4 1893.1 696.7 1893.5 698.2 1893.9 698.4 1894.3 696.3 1894.7 701.5 1895.1 700.4 1895.5 697.9 1895.9 698.9 1896.3 699.3 1896.7 698.4 1897.1 701.3 1897.5 698.9 1897.9 698.7 1898.3 703.2 1898.7 700.7 1899.1 701.9 1899.5 704.2 1899.9 700.8 1900.3 700.8 1900.7 703.0 1900.7 699.7 1901.1 702.2 1901.5 702.5 1901.9 700.4 1902.3 700.7 1902.7 703.4 1903.1 703.4 1903.5 704.5 1903.9 709.2 1904.3 705.5 1904.7 706.3 1905.1 706.0 1905.5 704.2 1905.6 708.1 1905.9 706.9 1906.3 709.1 1906.7 706.7 1907.1 705.7 1907.5 710.0 1907.9 707.4 1908.3 707.0 1908.7 706.6 1909.1 707.8 1909.5 708.0 1909.9 706.8 1910.3 707.5 1910.7 705.2 1911.1 706.3 1911.5 703.6 1911.9 707.4 1912.3 707.2 1912.7 708.0 1913.1 705.4 1913.5 708.6 1913.9 707.1 1914.3 708.1 1914.7 704.0 1915.1 710.2 1915.5 707.2 1915.9 706.6 1916.3 708.2 1916.7 706.4 1917.1 708.6 1917.5 709.0 1917.9 705.1 1918.0 709.2 1918.3 711.4 1918.7 705.4 1919.1 706.6 1919.5 705.6 1919.9 706.8 1920.3 704.6 1920.7 706.8 1921.1 706.0 1921.5 707.1 1921.9 706.7 1922.3 707.0 1922.7 705.6 1923.1 707.2 1923.5 708.4 1923.9 705.1 1924.3 708.5 1924.7 707.2 1925.1 707.8 1925.5 708.8 1925.9 712.0 1926.3 709.6 1926.7 708.3 1927.1 706.2 1927.5 707.6 1927.8 706.9 1927.9 704.5 1928.3 704.7 1928.7 706.5 1929.1 709.3 1929.5 706.4 1929.9 707.1 1930.3 709.6 1930.7 705.9 1931.1 707.1 1931.5 708.4 1931.9 707.2 1932.3 706.2 1932.7 709.6 1933.1 703.8 1933.5 705.4 1933.9 710.6 1934.3 705.9 1934.7 707.0 1935.1 707.3 1935.5 707.3 1935.9 706.2 1936.3 705.2 1936.5 705.5 1936.7 705.6 1937.1 705.8 1937.5 705.3 1937.9 705.1 1938.3 708.9 1938.7 708.9 1939.1 705.7 1939.5 705.4 1939.9 703.1 1940.3 705.9 1940.7 705.9 1941.1 706.0 1941.5 704.6 1941.9 709.3 1942.3 708.4 1942.7 705.8 1943.1 707.9 1943.5 709.2 1943.9 711.4 1944.3 709.0 1944.7 707.8 1945.1 709.3 1945.1 707.1 1945.5 708.3 1945.9 707.8 1946.3 712.0 1946.7 711.8 1947.1 707.4 1947.5 708.0 1947.9 710.7 1948.3 712.1 1948.7 711.7 1949.1 709.5 1949.5 713.0 1949.9 711.6 1950.3 711.1 1950.7 710.4 1951.1 711.9 1951.5 711.0 1951.9 711.6 1952.3 708.6 1952.7 709.8 1953.1 712.5 1953.5 711.6 1953.9 708.9 1954.3 710.9 1954.7 709.2 1955.1 710.9 1955.5 712.3 1955.9 711.4 1956.3 709.3 1956.7 710.5 1957.1 710.4 1957.4 708.8 1957.5 709.6 1957.9 712.8 1958.3 715.0 1958.7 711.8 1959.1 710.3 1959.5 711.4 1959.9 711.0 1960.3 710.1 1960.7 711.5 1961.1 711.5 1961.5 712.1 1961.9 710.1 1962.3 710.4 1962.7 713.1 1963.1 712.1 1963.5 712.9 1963.9 710.1 1964.3 710.2 1964.7 709.8 1965.1 710.1 1965.5 710.3 1965.9 711.6 1966.3 710.6 1966.7 708.1 1967.1 713.1 1967.5 711.9 1967.9 710.1 1968.3 709.6 1968.7 709.6 1969.1 710.6 1969.5 707.6 1969.7 711.4 1969.9 709.1 1970.3 710.4 1970.7 709.1 1971.1 708.1 1971.5 710.8 1971.9 710.4 1972.3 708.6 1972.7 711.2 1973.1 711.2 1973.5 711.7 1973.9 710.0 1974.3 710.5 1974.7 709.2 1975.1 712.8 1975.5 707.1 1975.9 710.4 1976.3 711.9 1976.7 709.8 1977.1 711.2 1977.5 710.3 1977.9 710.3 1978.3 706.9 1978.7 710.3 1979.1 710.1 1979.5 709.7 1979.9 712.3 1980.3 710.0 1980.7 710.6 1981.1 709.7 1981.5 710.4 1981.9 710.4 1982.1 710.4 1982.3 710.4 1982.7 710.9 1983.1 709.8 1983.5 712.0 1983.9 708.4 1984.3 710.3 1984.7 711.7 1985.1 709.5 1985.5 707.2 1985.9 709.3 1986.3 711.5 1986.7 706.5 1987.1 711.3 1987.5 709.9 1987.9 709.5 1988.3 711.1 1988.7 711.5 1989.1 710.0 1989.5 712.0 1989.9 711.1 1990.3 712.6 1990.7 711.9 1991.1 712.0 1991.5 711.3 1991.9 714.0 1992.3 711.7 1992.7 711.7 1993.1 714.0 1993.5 710.5 1993.9 711.8 1994.3 709.4 1994.4 709.5 1994.7 710.6 1995.1 712.1 1995.5 711.0 1995.9 709.6 1996.3 711.4 1996.7 710.4 1997.1 709.2 1997.5 711.4 1997.9 710.5 1998.3 711.5 1998.7 711.6 1999.1 711.9 1999.5 709.4 1999.9 710.7 2000.3 707.9 2000.7 711.9 2001.1 710.4 2001.5 711.8 2001.9 709.7 2002.3 710.2 2002.7 709.7 2003.1 712.6 2003.5 709.2 2003.9 709.9 2004.3 710.4 2004.3 710.4 2004.7 710.6 2005.1 710.3 2005.5 710.3 2005.9 712.1 2006.3 711.0 2006.7 710.2 2007.1 713.4 2007.5 710.9 2007.9 713.3 2008.3 711.0 2008.7 710.8 2009.1 709.8 2009.5 714.0 2009.9 711.3 2010.3 713.8 2010.7 713.6 2011.1 708.7 2011.5 711.0 2011.9 710.7 2012.3 707.6 2012.7 711.5 2013.1 713.5 2013.5 714.7 2013.9 716.0 2014.3 713.5 2014.7 710.5 2015.1 710.6 2015.5 714.0 2015.9 712.4 2016.3 709.6 2016.6 713.1 2016.7 715.2 2017.1 713.9 2017.5 714.2 2017.9 712.0 2018.3 714.7 2018.7 715.7 2019.1 715.3 2019.5 714.3 2019.9 717.1 2020.3 711.1 2020.7 713.2 2021.1 713.1 2021.5 714.7 2021.9 712.9 2022.3 713.7 2022.7 715.6 2023.1 714.9 2023.5 715.4 2023.9 711.9 2024.3 713.2 2024.7 714.6 2025.1 713.5 2025.5 714.2 2025.9 712.7 2026.3 713.2 2026.7 714.3 2027.1 713.2 2027.5 714.9 2027.9 712.5 2028.3 711.6 2028.7 710.7 2028.9 711.5 2029.1 711.1 2029.5 712.1 2029.9 712.9 2030.3 713.1 2030.7 713.8 2031.1 711.1 2031.5 713.4 2031.9 716.6 2032.3 712.2 2032.7 714.5 2033.1 714.5 2033.5 710.4 2033.9 715.6 2034.3 710.4 2034.7 713.8 2035.1 712.3 2035.5 709.8 2035.9 710.6 2036.3 713.3 2036.7 710.5 2037.1 710.2 2037.5 710.7 2037.9 710.4 2038.3 711.0 2038.7 712.1 2039.1 716.0 2039.5 714.2 2039.9 711.4 2040.3 711.5 2040.5 712.4" fill="none" stroke="#0070C0" stroke-width="7" stroke-linejoin="round" stroke-linecap="round" shape-rendering="crispEdges"/>
<g fill="#7030A0" shape-rendering="crispEdges"><path d="M641.4 560.3L667.9 589.8L614.9 589.8Z"/><path d="M721.5 601.1L748.0 630.6L695.0 630.6Z"/><path d="M860.8 472.1L887.3 501.6L834.3 501.6Z"/><path d="M1053.6 553.2L1080.1 582.7L1027.1 582.7Z"/><path d="M1113.3 581.3L1139.8 610.8L1086.8 610.8Z"/><path d="M1445.6 627.2L1472.1 656.7L1419.1 656.7Z"/><path d="M1576.4 588.2L1602.9 617.7L1549.9 617.7Z"/><path d="M616.0 744.1L642.5 773.6L589.5 773.6Z"/><path d="M686.0 744.1L712.5 773.6L659.5 773.6Z"/><path d="M849.3 684.1L875.8 713.6L822.8 713.6Z"/><path d="M1053.6 712.6L1080.1 742.1L1027.1 742.1Z"/><path d="M1102.2 761.1L1128.7 790.6L1075.7 790.6Z"/><path d="M1443.7 803.3L1470.2 832.8L1417.2 832.8Z"/><path d="M1586.8 785.0L1613.3 814.5L1560.3 814.5Z"/><path d="M633.4 927.1L659.9 956.6L606.9 956.6Z"/><path d="M702.4 935.5L728.9 965.0L675.9 965.0Z"/><path d="M856.5 855.8L883.0 885.3L830.0 885.3Z"/><path d="M1048.0 912.3L1074.5 941.8L1021.5 941.8Z"/><path d="M1118.6 944.1L1145.1 973.6L1092.1 973.6Z"/><path d="M1459.5 984.9L1486.0 1014.4L1433.0 1014.4Z"/><path d="M1580.9 947.2L1607.4 976.7L1554.4 976.7Z"/><path d="M650.3 1102.5L676.8 1132.0L623.8 1132.0Z"/><path d="M718.8 1122.9L745.3 1152.4L692.3 1152.4Z"/><path d="M846.7 1109.0L873.2 1138.5L820.2 1138.5Z"/><path d="M1045.5 1129.3L1072.0 1158.8L1019.0 1158.8Z"/><path d="M1114.9 1164.5L1141.4 1194.0L1088.4 1194.0Z"/><path d="M1446.1 1191.0L1472.6 1220.5L1419.6 1220.5Z"/><path d="M1587.1 1183.2L1613.6 1212.7L1560.6 1212.7Z"/></g>
<g fill="#FFC000"><rect x="889.1" y="505.1" width="28.8" height="28.8"/><rect x="1146.6" y="578.0" width="28.8" height="28.8"/><rect x="1196.0" y="600.9" width="28.8" height="28.8"/><rect x="1362.5" y="594.0" width="28.8" height="28.8"/><rect x="1514.0" y="626.1" width="28.8" height="28.8"/><rect x="1666.1" y="621.0" width="28.8" height="28.8"/><rect x="976.6" y="188.0" width="28.8" height="28.8"/><rect x="873.6" y="672.1" width="28.8" height="28.8"/><rect x="1133.1" y="753.1" width="28.8" height="28.8"/><rect x="1187.6" y="793.0" width="28.8" height="28.8"/><rect x="1362.5" y="757.0" width="28.8" height="28.8"/><rect x="1512.0" y="796.1" width="28.8" height="28.8"/><rect x="1671.0" y="799.1" width="28.8" height="28.8"/><rect x="884.1" y="857.2" width="28.8" height="28.8"/><rect x="1140.6" y="943.0" width="28.8" height="28.8"/><rect x="1176.0" y="965.0" width="28.8" height="28.8"/><rect x="1351.9" y="948.0" width="28.8" height="28.8"/><rect x="1519.1" y="981.0" width="28.8" height="28.8"/><rect x="1662.1" y="977.2" width="28.8" height="28.8"/><rect x="879.5" y="1130.2" width="28.8" height="28.8"/><rect x="1141.5" y="1163.0" width="28.8" height="28.8"/><rect x="1193.2" y="1175.0" width="28.8" height="28.8"/><rect x="1366.6" y="1175.1" width="28.8" height="28.8"/><rect x="1518.1" y="1200.0" width="28.8" height="28.8"/><rect x="1662.1" y="1179.1" width="28.8" height="28.8"/></g>
<g fill="#C00000" shape-rendering="crispEdges"><circle cx="915.9" cy="456.9" r="14.3"/><circle cx="937.5" cy="623.1" r="14.3"/><circle cx="921.1" cy="801.4" r="14.3"/><circle cx="924.4" cy="1103.5" r="14.3"/></g>
<g><line x1="545.0" y1="50" x2="545.0" y2="1301.0" stroke="#000" stroke-width="4"/><line x1="543.0" y1="1299.0" x2="2206.6" y2="1299.0" stroke="#000" stroke-width="4"/><line x1="545.0" y1="1120.9" x2="563" y2="1120.9" stroke="#000" stroke-width="4"/><line x1="545.0" y1="942.7" x2="563" y2="942.7" stroke="#000" stroke-width="4"/><line x1="545.0" y1="764.6" x2="563" y2="764.6" stroke="#000" stroke-width="4"/><line x1="545.0" y1="586.4" x2="563" y2="586.4" stroke="#000" stroke-width="4"/><line x1="545.0" y1="408.3" x2="563" y2="408.3" stroke="#000" stroke-width="4"/><line x1="545.0" y1="230.2" x2="563" y2="230.2" stroke="#000" stroke-width="4"/><line x1="545.0" y1="52.0" x2="563" y2="52.0" stroke="#000" stroke-width="4"/><line x1="876.9" y1="1299.0" x2="876.9" y2="1281" stroke="#000" stroke-width="4"/><line x1="1208.8" y1="1299.0" x2="1208.8" y2="1281" stroke="#000" stroke-width="4"/><line x1="1540.8" y1="1299.0" x2="1540.8" y2="1281" stroke="#000" stroke-width="4"/><line x1="1872.7" y1="1299.0" x2="1872.7" y2="1281" stroke="#000" stroke-width="4"/><line x1="2204.6" y1="1299.0" x2="2204.6" y2="1281" stroke="#000" stroke-width="4"/></g>
<g fill="#000"><text x="480.5" y="1316.8" text-anchor="end" font-size="59" textLength="29.0" lengthAdjust="spacingAndGlyphs">0</text><text x="480.5" y="1138.7" text-anchor="end" font-size="59" textLength="159.3" lengthAdjust="spacingAndGlyphs">50,000</text><text x="480.5" y="960.6" text-anchor="end" font-size="59" textLength="188.3" lengthAdjust="spacingAndGlyphs">100,000</text><text x="480.5" y="782.5" text-anchor="end" font-size="59" textLength="188.3" lengthAdjust="spacingAndGlyphs">150,000</text><text x="480.5" y="604.4" text-anchor="end" font-size="59" textLength="188.3" lengthAdjust="spacingAndGlyphs">200,000</text><text x="480.5" y="426.3" text-anchor="end" font-size="59" textLength="188.3" lengthAdjust="spacingAndGlyphs">250,000</text><text x="480.5" y="248.2" text-anchor="end" font-size="59" textLength="188.3" lengthAdjust="spacingAndGlyphs">300,000</text><text x="480.5" y="70.1" text-anchor="end" font-size="59" textLength="188.3" lengthAdjust="spacingAndGlyphs">350,000</text><text x="545.0" y="1387" text-anchor="middle" font-size="59" textLength="28.5" lengthAdjust="spacingAndGlyphs">0</text><text x="876.9" y="1387" text-anchor="middle" font-size="59" textLength="56.9" lengthAdjust="spacingAndGlyphs">20</text><text x="1208.8" y="1387" text-anchor="middle" font-size="59" textLength="56.9" lengthAdjust="spacingAndGlyphs">40</text><text x="1540.8" y="1387" text-anchor="middle" font-size="59" textLength="56.9" lengthAdjust="spacingAndGlyphs">60</text><text x="1872.7" y="1387" text-anchor="middle" font-size="59" textLength="56.9" lengthAdjust="spacingAndGlyphs">80</text><text x="2206.1" y="1387" text-anchor="middle" font-size="59" textLength="85.4" lengthAdjust="spacingAndGlyphs">100</text><text x="1209.5" y="1583" font-size="68" textLength="303.8" lengthAdjust="spacingAndGlyphs">2<tspan font-style="italic">θ</tspan> (degree)</text><text transform="translate(64,666) rotate(-90)" text-anchor="middle" font-size="68">Intensity (cps)</text><text x="2106.5" y="736" font-size="68" textLength="129.3" lengthAdjust="spacingAndGlyphs">5-PS</text><text x="2101.5" y="921" font-size="68" textLength="141.7" lengthAdjust="spacingAndGlyphs">5-NP</text><text x="2098" y="1096" font-size="68" textLength="141.2" lengthAdjust="spacingAndGlyphs">5-SN</text><text x="2115" y="1290" font-size="68">RB</text></g>
</svg>
</body></html>
